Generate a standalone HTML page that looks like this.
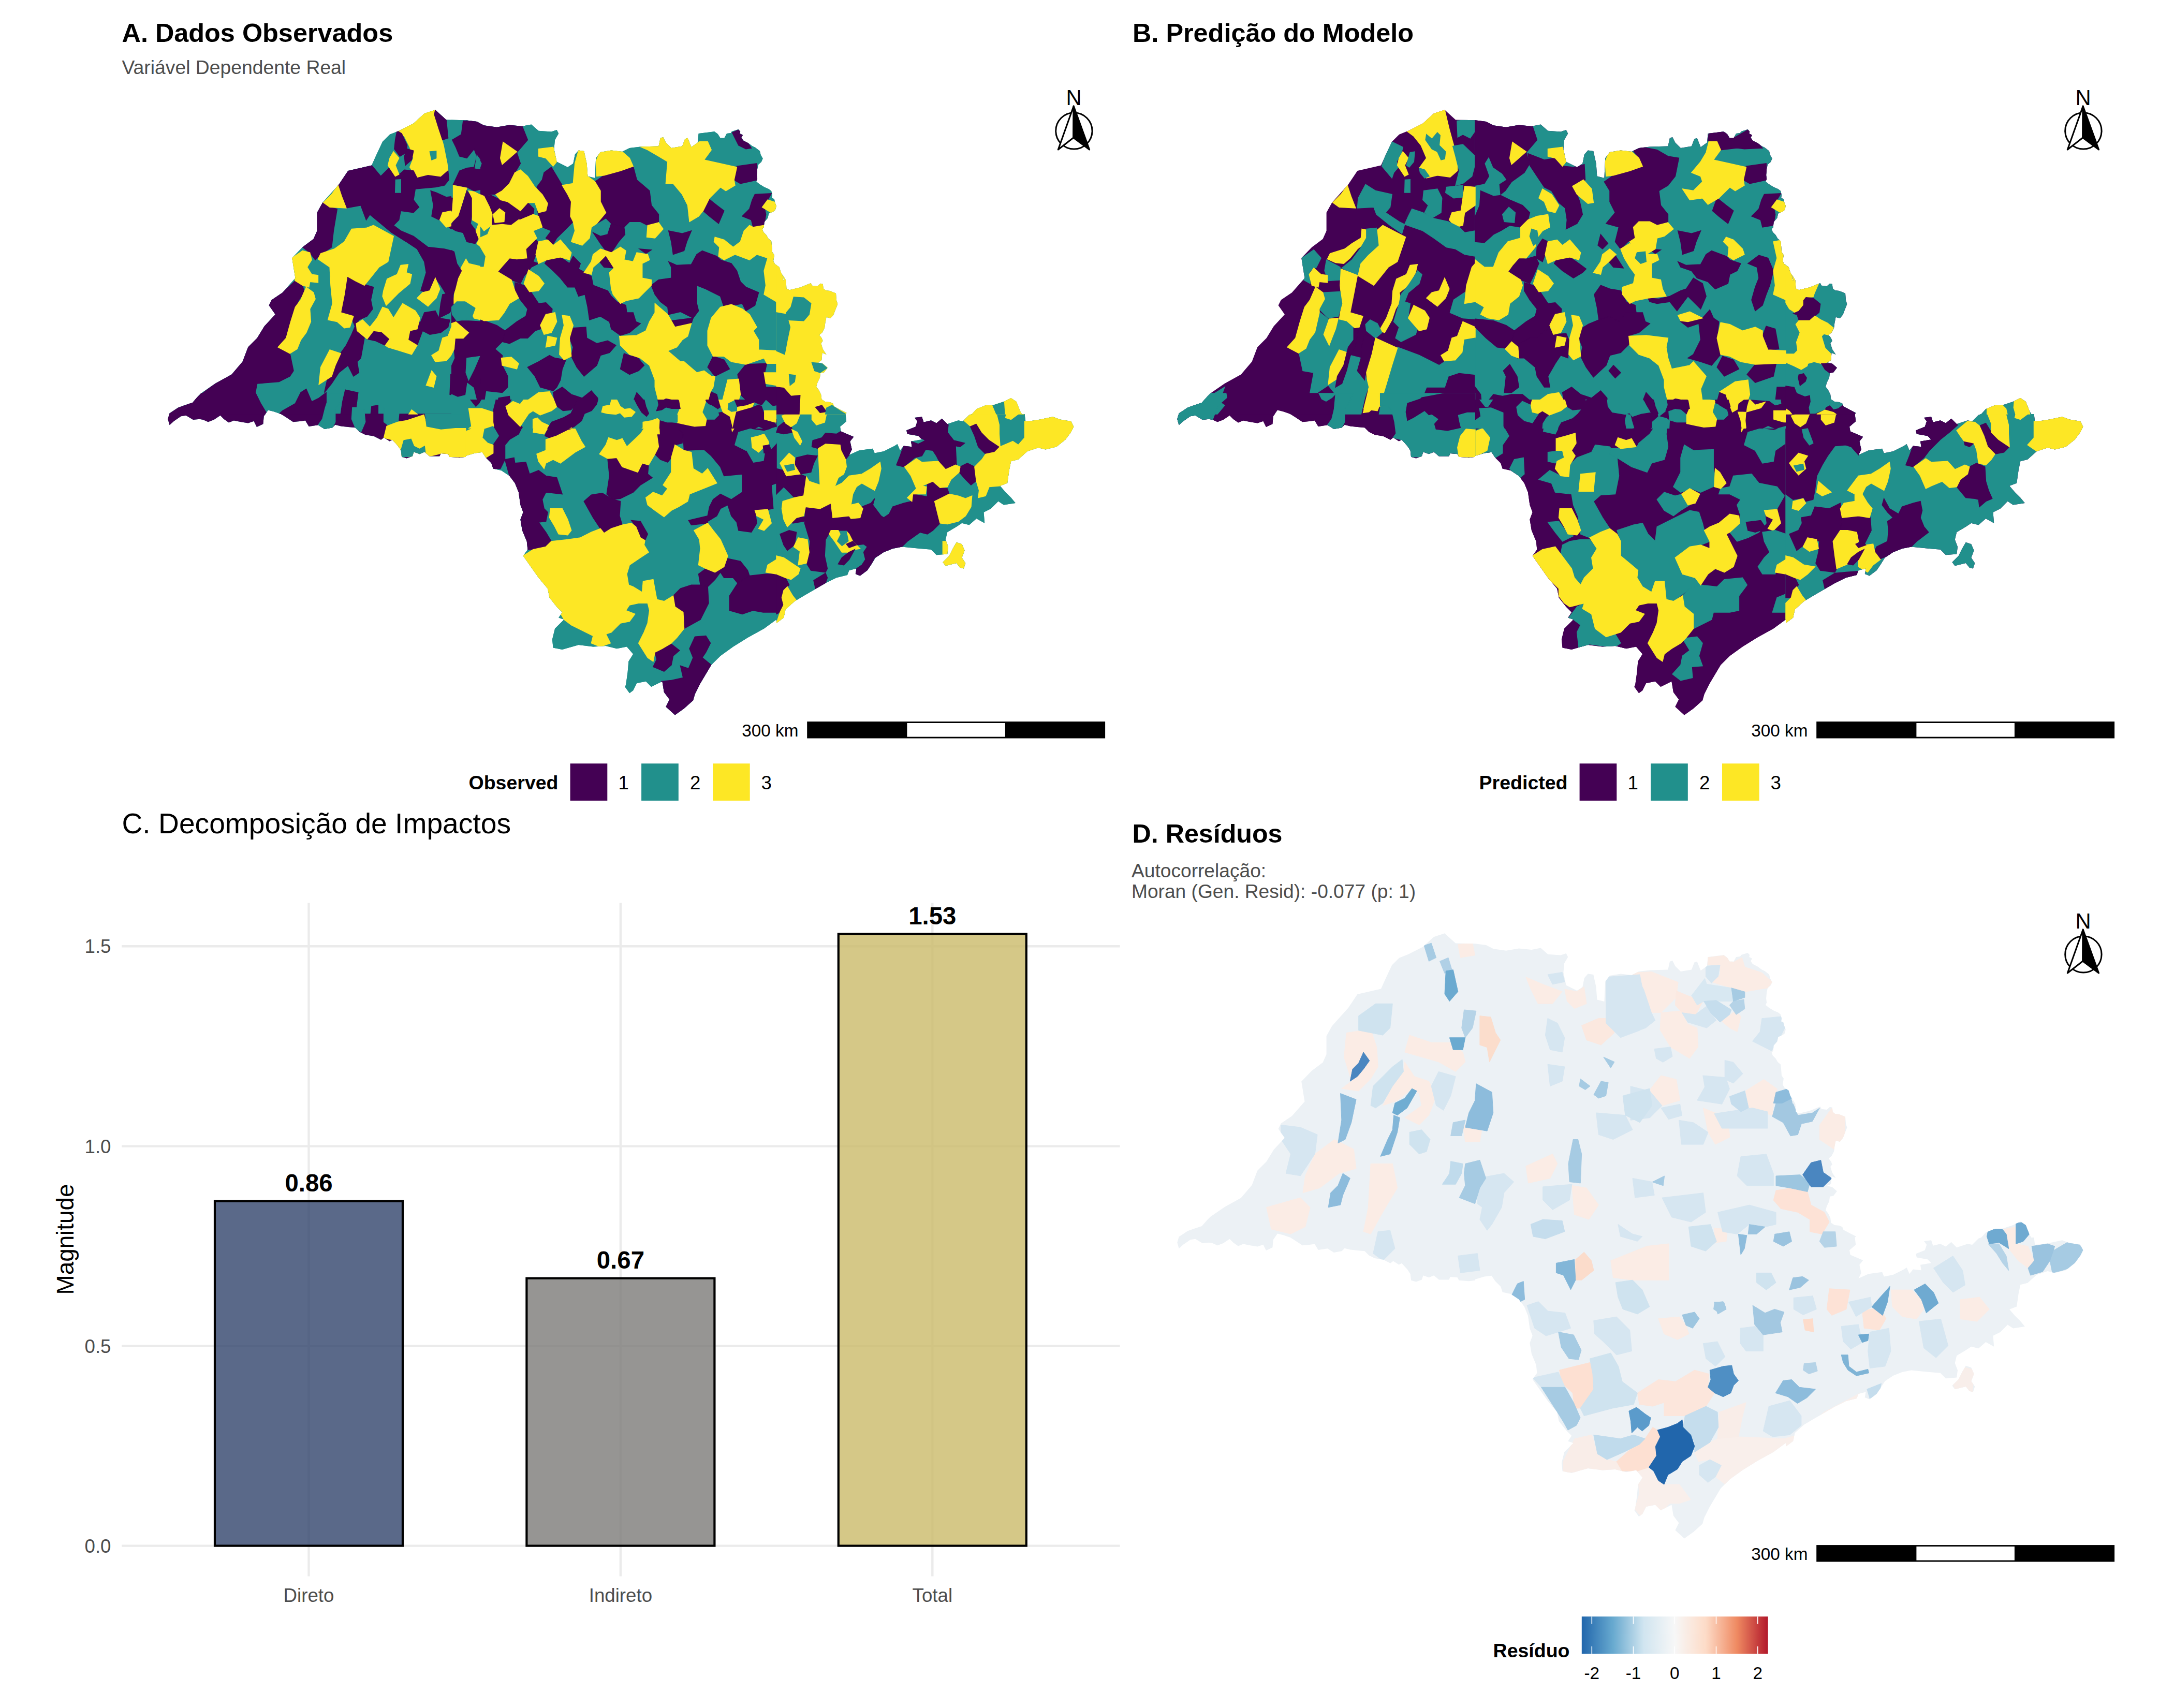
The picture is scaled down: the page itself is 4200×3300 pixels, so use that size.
<!DOCTYPE html><html lang="pt"><head><meta charset="utf-8"><title>Figura</title>
<style>html,body{margin:0;padding:0;background:#fff}svg{display:block}text{font-family:"Liberation Sans", Arial, sans-serif}</style></head><body>
<svg width="4200" height="3300" viewBox="0 0 4200 3300">
<rect width="4200" height="3300" fill="#fff"/>
<text x="235.5" y="81" font-size="50.4" font-weight="bold">A. Dados Observados</text>
<text x="235.5" y="142.7" font-size="37.3" fill="#4D4D4D">Variável Dependente Real</text>
<text x="2188" y="81" font-size="50.4" font-weight="bold">B. Predição do Modelo</text>
<text x="235.5" y="1610.4" font-size="55.2">C. Decomposição de Impactos</text>
<text x="2187.5" y="1628.3" font-size="50.2" font-weight="bold">D. Resíduos</text>
<text x="2186" y="1694.6" font-size="37.15" fill="#4D4D4D">Autocorrelação:</text>
<text x="2186" y="1735" font-size="37.15" fill="#4D4D4D">Moran (Gen. Resid): -0.077 (p: 1)</text>
<g transform="translate(0,0)"><clipPath id="clipA"><path d="M841.0 212.3L819.9 219.3L798.8 238.6L770.7 252.7L753.2 259.7L739.1 273.8L726.8 300.1L718.0 319.4L672.4 330.0L654.8 356.3L623.2 391.5L612.6 410.8L612.6 445.9L605.6 461.7L584.5 477.5L564.2 498.6L570.5 537.2L545.9 565.3L524.8 579.4L519.6 589.9L531.9 607.5L510.8 630.3L496.7 653.2L479.2 670.7L468.6 698.8L447.5 723.4L415.9 741.0L388.3 760.0L382.8 765.5L371.8 777.9L355.2 783.5L344.2 787.6L327.6 798.6L324.3 809.7L327.6 821.3L335.9 813.8L349.7 804.2L359.3 802.8L373.1 811.1L385.6 809.7L392.5 811.1L402.1 815.2L413.2 811.1L425.6 802.8L432.5 809.7L442.1 816.6L451.8 812.4L465.6 815.2L479.4 817.4L490.4 813.8L496.0 824.9L508.4 819.3L509.8 804.2L518.0 792.6L529.1 795.3L542.9 800.0L553.9 806.9L566.3 815.2L581.5 813.8L589.8 812.4L596.7 824.0L614.6 821.3L627.0 829.0L642.2 826.2L647.7 820.7L658.8 823.5L672.6 824.9L686.4 826.2L694.7 834.5L705.7 840.0L722.3 842.8L736.1 849.7L741.6 845.6L752.6 852.5L758.1 849.7L769.2 862.1L774.7 870.4L776.1 882.8L785.7 885.6L796.8 881.4L799.5 873.2L810.6 877.3L820.2 873.2L829.9 881.4L849.2 881.4L852.0 875.9L865.8 877.3L868.5 882.8L887.9 884.2L900.0 882.8L900.0 880.8L917.6 875.5L931.6 873.8L938.6 884.3L949.2 894.8L952.7 905.4L968.5 908.9L984.3 919.4L994.8 933.5L1001.9 951.1L1005.4 975.6L1010.7 989.7L1005.4 1003.7L1008.9 1024.8L1017.7 1045.9L1019.4 1061.7L1010.7 1074.0L1023.0 1091.6L1040.5 1116.2L1058.1 1137.2L1061.6 1154.8L1075.6 1172.4L1086.2 1182.9L1079.2 1193.4L1089.7 1197.0L1072.1 1214.5L1066.9 1235.6L1068.6 1251.4L1086.2 1254.9L1117.8 1246.1L1145.9 1249.6L1170.5 1247.9L1191.6 1253.2L1210.9 1249.6L1223.2 1263.7L1214.4 1277.8L1212.6 1298.8L1209.1 1323.4L1207.4 1326.9L1216.2 1339.2L1223.2 1334.0L1230.2 1319.9L1247.8 1316.4L1258.3 1326.9L1272.4 1319.9L1279.4 1316.4L1282.9 1337.5L1293.4 1351.5L1286.4 1365.6L1304.0 1381.4L1321.5 1369.1L1339.1 1353.3L1342.6 1341.0L1353.2 1319.9L1374.2 1284.8L1391.8 1267.2L1416.4 1249.6L1444.5 1232.1L1476.1 1214.5L1500.0 1197.0L1500.0 1204.0L1514.1 1193.4L1517.6 1177.6L1535.1 1161.8L1552.7 1151.3L1573.8 1139.0L1594.8 1126.7L1615.9 1116.2L1637.0 1110.9L1640.5 1102.1L1654.6 1098.6L1652.8 1109.1L1661.6 1112.6L1675.6 1102.1L1682.7 1091.6L1691.5 1077.5L1707.3 1067.0L1724.8 1060.0L1742.4 1056.4L1760.0 1058.2L1777.5 1060.0L1798.6 1061.7L1809.1 1072.2L1830.2 1070.5L1832.0 1056.4L1826.7 1042.4L1830.2 1028.3L1847.8 1017.8L1858.3 1010.8L1872.4 1014.3L1886.4 1002.0L1902.2 1010.8L1900.5 989.7L1914.5 982.7L1928.6 968.6L1939.1 975.6L1961.9 972.1L1953.2 961.6L1942.6 951.1L1932.1 938.8L1946.1 933.5L1949.6 908.9L1953.2 891.3L1967.2 887.8L1984.8 872.0L2005.9 865.0L2019.9 868.5L2041.0 863.2L2058.5 849.2L2069.1 835.1L2074.4 824.6L2069.1 814.1L2048.0 810.5L2034.0 805.3L2009.4 810.5L1991.8 813.3L1981.3 814.1L1979.5 800.0L1974.2 800.0L1970.7 793.7L1963.7 776.1L1953.2 769.1L1939.1 776.1L1918.0 783.1L1904.0 783.1L1886.4 790.2L1877.6 800.0L1877.6 800.0L1872.4 801.8L1860.1 814.1L1851.3 812.3L1830.2 819.3L1819.7 808.8L1809.1 817.6L1798.6 812.3L1784.5 815.8L1781.0 805.3L1767.0 807.0L1772.2 814.1L1768.7 824.6L1751.2 831.6L1752.9 838.6L1774.0 842.2L1781.0 849.2L1760.0 852.7L1761.7 863.2L1745.9 861.5L1738.9 870.3L1733.6 858.0L1728.3 861.5L1707.3 872.0L1689.7 875.5L1686.2 866.7L1659.8 870.3L1640.5 879.0L1645.8 868.5L1642.3 852.7L1649.3 843.9L1624.7 833.4L1623.0 824.6L1635.2 814.1L1633.5 800.0L1635.7 797.8L1624.2 792.1L1611.5 785.2L1609.2 779.4L1603.5 777.1L1594.3 776.0L1587.4 771.4L1586.2 762.2L1581.6 753.0L1577.0 747.2L1579.3 739.2L1583.9 730.0L1585.1 720.8L1592.0 719.6L1598.9 710.4L1589.7 702.4L1579.3 700.1L1585.1 697.8L1587.4 695.5L1588.5 681.7L1596.6 685.1L1589.7 674.8L1586.2 663.3L1589.7 658.7L1587.4 652.9L1582.8 647.2L1588.5 642.6L1593.1 633.4L1594.3 624.2L1596.6 612.7L1604.6 615.0L1610.4 608.1L1613.8 598.9L1618.4 587.4L1616.1 580.5L1615.0 566.7L1603.5 562.1L1595.4 560.9L1590.8 557.5L1589.7 548.8L1585.1 547.8L1579.3 552.9L1569.0 551.7L1566.7 547.1L1563.2 548.3L1546.0 555.2L1525.3 560.3L1519.5 557.5L1518.4 541.4L1511.5 529.9L1518.1 554.5L1519.1 546.8L1513.3 541.0L1511.4 531.3L1508.5 525.5L1505.6 515.9L1496.9 510.1L1494.0 504.3L1495.9 492.7L1492.0 486.9L1491.1 475.3L1490.1 465.7L1484.3 460.8L1480.4 454.1L1474.7 448.3L1472.7 442.5L1475.6 439.6L1476.6 429.0L1483.3 421.2L1485.3 412.5L1494.0 408.7L1497.8 405.8L1499.8 398.1L1496.9 390.3L1495.9 384.5L1491.1 382.6L1492.0 376.8L1490.1 369.1L1485.3 365.2L1476.6 361.4L1466.9 355.6L1461.1 350.7L1463.1 345.9L1462.1 338.2L1463.1 326.6L1465.0 317.9L1470.8 313.1L1473.7 306.3L1469.8 299.5L1467.9 291.8L1459.2 285.1L1453.4 282.2L1445.7 276.4L1436.0 271.5L1432.2 265.7L1435.1 260.9L1429.3 258.0L1430.2 254.1L1426.4 249.9L1413.8 254.1L1411.9 257.0L1404.1 258.0L1399.3 266.7L1391.6 266.7L1386.8 259.0L1380.0 254.1L1377.8 254.4L1349.6 258.0L1347.9 275.5L1335.6 284.3L1328.6 266.7L1323.3 268.5L1318.0 282.6L1297.0 286.1L1286.4 275.5L1281.1 265.0L1275.9 266.7L1272.4 282.6L1237.2 283.6L1216.2 286.1L1202.1 293.1L1181.0 290.6L1160.0 294.1L1151.2 305.4L1149.4 344.0L1135.4 340.5L1133.6 315.9L1128.3 292.0L1117.8 290.6L1110.8 298.4L1107.3 315.9L1096.7 323.0L1075.6 312.4L1070.4 287.8L1072.1 270.3L1079.2 258.0L1075.6 250.9L1065.1 254.4L1040.5 252.7L1026.5 240.4L1008.9 243.9L984.3 241.5L959.7 245.7L935.1 242.2L921.1 235.1L900.0 232.3L862.1 231.6ZM1847.8 1047.7L1858.3 1051.2L1863.6 1063.5L1858.3 1077.5L1865.3 1088.1L1861.8 1098.6L1854.8 1096.8L1847.8 1088.1L1826.7 1093.3L1821.4 1086.3L1833.7 1074.0L1840.7 1060.0Z"/></clipPath><g clip-path="url(#clipA)"><rect x="300" y="200" width="1800" height="1200" fill="#21908C"/><path d="M300.0 200.0L900.0 200.0L900.0 800.0L300.0 800.0Z" fill="#21908C" stroke="#21908C" stroke-width="1.5"/><path d="M900.0 200.0L1500.0 200.0L1500.0 800.0L900.0 800.0Z" fill="#21908C" stroke="#21908C" stroke-width="1.5"/><path d="M900.0 800.0L1500.0 800.0L1500.0 1400.0L900.0 1400.0Z" fill="#21908C" stroke="#21908C" stroke-width="1.5"/><path d="M1500.0 800.0L2100.0 800.0L2100.0 1400.0L1500.0 1400.0Z" fill="#21908C" stroke="#21908C" stroke-width="1.5"/><path d="M1500.0 509.1L1647.5 509.1L1647.5 800.0L1500.0 800.0Z" fill="#FDE725" stroke="#FDE725" stroke-width="1.5"/><path d="M1872.4 762.1L1977.8 762.1L1977.8 800.0L1872.4 800.0Z" fill="#FDE725" stroke="#FDE725" stroke-width="1.5"/><path d="M300.0 800.0L900.0 800.0L900.0 899.9L300.0 899.9Z" fill="#440154" stroke="#440154" stroke-width="1.5"/><path d="M767.2 252.7L798.8 238.6L819.9 219.3L841.0 212.3L848.0 249.2L856.8 280.8L863.8 315.9L865.6 330.0L851.5 342.3L826.9 338.8L805.9 344.0L791.8 323.0L798.8 305.4L791.8 284.3L781.3 263.2Z" fill="#FDE725" stroke="#FDE725" stroke-width="1.5"/><path d="M830.4 293.1L842.7 292.0L842.7 305.4L834.0 308.9Z" fill="#21908C" stroke="#21908C" stroke-width="1.5"/><path d="M841.0 212.3L862.1 231.6L865.6 266.7L855.0 270.3L848.0 249.2L839.2 221.1Z" fill="#440154" stroke="#440154" stroke-width="1.5"/><path d="M879.6 261.5L900.0 256.2L900.0 315.9L890.2 308.9L883.1 280.8L872.6 273.8Z" fill="#440154" stroke="#440154" stroke-width="1.5"/><path d="M767.2 252.7L776.0 258.0L786.5 280.8L784.8 294.8L772.5 301.9L761.9 287.8L763.7 270.3Z" fill="#440154" stroke="#440154" stroke-width="1.5"/><path d="M786.5 287.8L798.8 291.3L795.3 308.9L783.0 319.4L781.3 301.9Z" fill="#440154" stroke="#440154" stroke-width="1.5"/><path d="M718.0 319.4L735.6 340.5L742.6 333.5L753.2 323.0L767.2 340.5L781.3 328.2L798.8 330.0L805.9 344.0L826.9 338.8L851.5 342.3L865.6 330.0L867.3 347.5L858.5 358.1L841.0 361.6L802.3 365.1L798.8 386.2L809.4 400.2L798.8 410.8L774.2 407.3L770.7 424.8L760.2 435.4L774.2 445.9L798.8 456.4L826.9 477.5L858.5 481.0L879.6 486.3L883.1 516.2L897.2 523.2L890.2 551.3L876.1 565.3L862.1 568.9L851.5 551.3L841.0 537.2L826.9 565.3L812.9 561.8L823.4 526.7L819.9 505.6L805.9 481.0L784.8 467.0L756.7 449.4L714.5 414.3L707.5 424.8L697.0 396.7L668.9 402.0L660.1 379.2L653.0 358.1L672.4 330.0Z" fill="#440154" stroke="#440154" stroke-width="1.5"/><path d="M764.4 347.5L774.2 346.8L774.2 372.1L763.7 372.1Z" fill="#21908C" stroke="#21908C" stroke-width="1.5"/><path d="M832.2 368.6L842.7 372.1L862.1 380.9L876.1 379.2L872.6 407.3L855.0 410.8L848.0 424.8L834.0 417.8L837.5 396.7Z" fill="#440154" stroke="#440154" stroke-width="1.5"/><path d="M879.6 410.8L900.0 417.8L900.0 445.9L879.6 449.4L867.3 438.9Z" fill="#440154" stroke="#440154" stroke-width="1.5"/><path d="M623.2 391.5L637.2 400.2L651.3 403.7L644.3 445.9L640.7 477.5L619.7 491.6L609.1 502.1L598.6 488.1L584.5 477.5L605.6 461.7L612.6 445.9L612.6 410.8Z" fill="#440154" stroke="#440154" stroke-width="1.5"/><path d="M670.6 533.7L686.4 542.5L709.3 551.3L721.5 554.8L716.3 579.4L719.8 597.0L709.3 611.0L693.4 618.0L686.4 632.1L679.4 614.5L654.8 604.0L661.8 568.9Z" fill="#440154" stroke="#440154" stroke-width="1.5"/><path d="M570.5 542.5L584.5 551.3L588.1 565.3L577.5 579.4L570.5 593.4L561.7 621.5L552.9 653.2L537.1 670.7L560.0 683.0L567.0 716.4L560.0 726.9L538.9 737.5L496.7 741.0L493.2 758.5L503.7 779.6L514.3 797.2L510.8 800.0L338.6 800.0L370.3 776.1L415.9 741.0L447.5 723.4L468.6 698.8L479.2 670.7L496.7 653.2L510.8 630.3L531.9 607.5L519.6 589.9L524.8 579.4L545.9 565.3Z" fill="#440154" stroke="#440154" stroke-width="1.5"/><path d="M819.9 604.0L841.0 600.5L848.0 614.5L869.1 618.0L865.6 632.1L851.5 642.6L830.4 646.1L816.4 639.1L805.9 667.2L788.3 656.7L791.8 639.1L812.9 621.5Z" fill="#440154" stroke="#440154" stroke-width="1.5"/><path d="M721.5 639.1L737.4 640.9L753.2 654.9L744.4 667.2L725.1 658.4L709.3 654.9Z" fill="#440154" stroke="#440154" stroke-width="1.5"/><path d="M688.2 625.1L697.0 635.6L704.0 653.2L697.0 691.8L689.9 698.8L693.4 719.9L682.9 726.9L672.4 705.9L654.8 719.9L640.7 741.0L626.7 758.5L633.7 726.9L651.3 691.8L668.9 667.2L679.4 646.1Z" fill="#440154" stroke="#440154" stroke-width="1.5"/><path d="M581.0 758.5L591.6 751.5L602.1 776.1L616.2 769.1L630.2 758.5L630.2 783.1L626.7 800.0L538.9 800.0L545.9 793.7L570.5 779.6Z" fill="#440154" stroke="#440154" stroke-width="1.5"/><path d="M667.1 753.3L691.7 758.5L686.4 800.0L658.3 800.0L661.8 776.1Z" fill="#440154" stroke="#440154" stroke-width="1.5"/><path d="M877.9 660.2L900.0 654.9L900.0 691.8L876.1 688.3Z" fill="#440154" stroke="#440154" stroke-width="1.5"/><path d="M870.8 723.4L900.0 726.9L900.0 769.1L869.1 762.1Z" fill="#440154" stroke="#440154" stroke-width="1.5"/><path d="M718.0 784.9L730.3 783.1L730.3 800.0L716.3 800.0Z" fill="#440154" stroke="#440154" stroke-width="1.5"/><path d="M855.0 568.9L876.1 565.3L876.1 586.4L869.1 604.0L848.0 614.5L851.5 586.4Z" fill="#440154" stroke="#440154" stroke-width="1.5"/><path d="M760.2 293.1L770.7 305.4L763.7 319.4L770.7 337.0L763.7 340.5L749.6 319.4L753.2 305.4Z" fill="#FDE725" stroke="#FDE725" stroke-width="1.5"/><path d="M653.0 358.1L660.1 379.2L668.9 402.0L637.2 400.2L624.9 391.5L640.7 375.6Z" fill="#FDE725" stroke="#FDE725" stroke-width="1.5"/><path d="M879.6 359.8L900.0 361.6L900.0 396.7L879.6 410.8L876.1 435.4L862.1 438.9L849.8 424.8L855.0 410.8L872.6 407.3L876.1 382.7Z" fill="#FDE725" stroke="#FDE725" stroke-width="1.5"/><path d="M721.5 435.4L760.2 456.4L749.6 505.6L732.1 516.2L704.0 551.3L686.4 542.5L670.6 533.7L665.3 568.9L658.3 604.0L682.9 611.0L675.9 632.1L665.3 633.8L651.3 621.5L633.7 618.0L642.5 586.4L639.0 551.3L637.2 516.2L614.4 500.4L619.7 489.8L646.0 481.0L665.3 467.0L679.4 442.4L707.5 440.6Z" fill="#FDE725" stroke="#FDE725" stroke-width="1.5"/><path d="M584.5 484.5L598.6 488.1L602.1 502.1L593.3 516.2L602.1 530.2L614.4 532.0L614.4 546.0L598.6 544.3L596.8 554.8L584.5 551.3L570.5 542.5L568.7 537.2L564.2 498.6Z" fill="#FDE725" stroke="#FDE725" stroke-width="1.5"/><path d="M591.6 554.8L605.6 565.3L609.1 577.6L598.6 597.0L600.4 621.5L591.6 642.6L581.0 656.7L574.0 674.2L560.0 683.0L537.1 670.7L552.9 653.2L561.7 621.5L570.5 593.4L581.0 579.4Z" fill="#FDE725" stroke="#FDE725" stroke-width="1.5"/><path d="M774.2 512.6L788.3 510.9L784.8 526.7L795.3 530.2L791.8 547.8L770.7 565.3L756.7 579.4L746.1 589.9L739.1 572.4L740.9 561.8L747.9 539.0L767.2 530.2Z" fill="#FDE725" stroke="#FDE725" stroke-width="1.5"/><path d="M841.0 537.2L849.8 558.3L842.7 575.9L826.9 591.7L805.9 575.9L816.4 565.3L830.4 561.8Z" fill="#FDE725" stroke="#FDE725" stroke-width="1.5"/><path d="M777.8 586.4L802.3 600.5L811.1 614.5L805.9 635.6L791.8 639.1L788.3 656.7L805.9 667.2L795.3 684.8L749.6 670.7L744.4 667.2L753.2 654.9L737.4 640.9L721.5 639.1L709.3 654.9L689.9 639.1L688.2 625.1L700.5 618.0L714.5 632.1L728.6 614.5L739.1 593.4L749.6 597.0L760.2 614.5Z" fill="#FDE725" stroke="#FDE725" stroke-width="1.5"/><path d="M893.7 516.2L900.0 509.1L900.0 582.9L879.6 586.4L883.1 551.3Z" fill="#FDE725" stroke="#FDE725" stroke-width="1.5"/><path d="M876.1 621.5L900.0 632.1L900.0 653.2L879.6 656.7L876.1 681.3L862.1 697.1L841.0 698.8L834.0 686.5L848.0 677.8L855.0 653.2L865.6 649.6Z" fill="#FDE725" stroke="#FDE725" stroke-width="1.5"/><path d="M637.2 676.0L658.3 683.0L647.8 705.9L640.7 726.9L616.2 742.7L619.7 709.4Z" fill="#FDE725" stroke="#FDE725" stroke-width="1.5"/><path d="M834.0 716.4L842.7 726.9L837.5 748.0L823.4 744.5Z" fill="#FDE725" stroke="#FDE725" stroke-width="1.5"/><path d="M795.3 791.9L805.9 800.0L790.0 800.0Z" fill="#FDE725" stroke="#FDE725" stroke-width="1.5"/><path d="M900.0 232.3L921.1 235.1L935.1 242.2L959.7 245.7L984.3 241.5L1008.9 243.9L1019.4 270.3L1008.9 282.6L998.4 294.8L1005.4 315.9L994.8 333.5L984.3 354.6L970.3 368.6L958.0 375.6L949.2 375.6L935.1 379.2L910.5 368.6L900.0 365.1Z" fill="#440154" stroke="#440154" stroke-width="1.5"/><path d="M921.1 300.1L929.9 315.9L926.3 326.5L915.8 323.0Z" fill="#21908C" stroke="#21908C" stroke-width="1.5"/><path d="M972.0 274.5L998.4 293.1L984.3 305.4L970.3 317.7L966.7 305.4Z" fill="#FDE725" stroke="#FDE725" stroke-width="1.5"/><path d="M935.1 379.2L949.2 377.4L966.7 386.2L980.8 389.7L1005.4 407.3L1019.4 391.5L1031.7 403.7L1030.0 414.3L1005.4 424.8L1001.9 424.8L987.8 435.4L970.3 433.6L949.2 435.4L950.9 414.3L945.7 400.2Z" fill="#440154" stroke="#440154" stroke-width="1.5"/><path d="M965.0 403.0L975.5 410.8L973.8 428.3L956.2 430.1L952.7 414.3Z" fill="#FDE725" stroke="#FDE725" stroke-width="1.5"/><path d="M900.0 442.4L921.1 449.4L926.3 460.0L914.1 470.5L900.0 467.0Z" fill="#440154" stroke="#440154" stroke-width="1.5"/><path d="M1065.1 323.0L1075.6 340.5L1086.2 358.1L1096.7 375.6L1103.7 389.7L1102.0 417.8L1107.3 428.3L1089.7 445.9L1075.6 460.0L1068.6 472.2L1054.6 460.0L1065.1 445.9L1047.5 438.9L1040.5 417.8L1037.0 396.7L1054.6 407.3L1058.1 393.2L1047.5 375.6L1037.0 361.6L1047.5 347.5L1051.1 333.5Z" fill="#440154" stroke="#440154" stroke-width="1.5"/><path d="M1030.0 458.2L1038.8 467.0L1035.2 491.6L1030.0 505.6L1017.7 498.6L1015.9 481.0Z" fill="#440154" stroke="#440154" stroke-width="1.5"/><path d="M984.3 498.6L998.4 500.4L1015.9 495.1L1030.0 505.6L1040.5 509.1L1026.5 516.2L1012.4 533.7L1005.4 547.8L987.8 540.7L961.5 524.9L972.0 512.6Z" fill="#440154" stroke="#440154" stroke-width="1.5"/><path d="M1056.3 502.1L1082.7 496.8L1100.2 509.1L1107.3 495.1L1121.3 509.1L1117.8 519.7L1142.4 533.7L1145.9 551.3L1174.0 561.8L1181.0 572.4L1191.6 582.9L1209.1 589.9L1210.9 604.0L1223.2 604.0L1228.5 621.5L1237.2 625.1L1216.2 642.6L1198.6 647.9L1181.0 635.6L1177.5 621.5L1160.0 611.0L1138.9 618.0L1135.4 593.4L1130.1 568.9L1117.8 572.4L1110.8 554.8L1096.7 554.8L1082.7 537.2L1068.6 523.2L1052.8 509.1Z" fill="#440154" stroke="#440154" stroke-width="1.5"/><path d="M994.8 546.0L1012.4 551.3L1026.5 565.3L1040.5 586.4L1054.6 584.7L1066.9 597.0L1065.1 611.0L1051.1 618.0L1044.0 635.6L1033.5 639.1L1019.4 653.2L1005.4 653.2L984.3 663.7L970.3 660.2L975.5 639.1L998.4 621.5L1015.9 611.0L1019.4 597.0L1005.4 579.4L994.8 561.8Z" fill="#440154" stroke="#440154" stroke-width="1.5"/><path d="M900.0 616.3L935.1 619.8L959.7 628.6L975.5 639.1L970.3 660.2L956.2 674.2L970.3 686.5L970.3 705.9L980.8 726.9L980.8 748.0L970.3 758.5L938.6 755.0L935.1 776.1L924.6 790.2L910.5 783.1L907.0 748.0L928.1 741.0L924.6 698.8L914.1 684.8L900.0 688.3Z" fill="#440154" stroke="#440154" stroke-width="1.5"/><path d="M1040.5 698.8L1061.6 686.5L1072.1 691.8L1093.2 695.3L1086.2 712.9L1082.7 734.0L1075.6 748.0L1068.6 755.0L1044.0 748.0L1033.5 726.9L1019.4 709.4Z" fill="#440154" stroke="#440154" stroke-width="1.5"/><path d="M1107.3 633.8L1131.9 632.1L1133.6 653.2L1152.9 663.7L1174.0 658.4L1189.8 667.2L1177.5 681.3L1160.0 686.5L1152.9 705.9L1128.3 726.9L1114.3 709.4L1103.7 688.3L1107.3 670.7L1100.2 653.2Z" fill="#440154" stroke="#440154" stroke-width="1.5"/><path d="M1198.6 330.0L1223.2 321.2L1230.2 347.5L1254.8 368.6L1258.3 396.7L1272.4 414.3L1272.4 428.3L1251.3 435.4L1237.2 428.3L1216.2 428.3L1205.6 438.9L1181.0 431.9L1170.5 421.3L1152.9 431.9L1170.5 410.8L1160.0 389.7L1160.0 368.6L1149.4 351.1L1167.0 338.8Z" fill="#440154" stroke="#440154" stroke-width="1.5"/><path d="M1181.0 431.9L1205.6 438.9L1207.4 452.9L1195.1 467.0L1181.0 488.1L1170.5 484.5L1160.0 470.5L1145.9 449.4L1160.0 456.4L1174.0 452.9Z" fill="#440154" stroke="#440154" stroke-width="1.5"/><path d="M1170.5 493.3L1186.3 517.9L1167.0 516.2L1158.2 505.6Z" fill="#440154" stroke="#440154" stroke-width="1.5"/><path d="M1291.7 445.9L1318.0 451.2L1335.6 445.9L1326.8 467.0L1321.5 484.5L1300.5 491.6L1297.0 467.0Z" fill="#440154" stroke="#440154" stroke-width="1.5"/><path d="M1235.5 481.0L1258.3 482.8L1247.8 489.8Z" fill="#440154" stroke="#440154" stroke-width="1.5"/><path d="M1291.7 505.6L1307.5 512.6L1335.6 510.9L1346.1 491.6L1356.7 484.5L1384.8 495.1L1391.8 502.1L1412.9 509.1L1423.4 523.2L1430.4 544.3L1441.0 554.8L1465.6 565.3L1458.5 589.9L1441.0 600.5L1434.0 586.4L1398.8 593.4L1391.8 572.4L1363.7 558.3L1346.1 551.3L1346.1 586.4L1349.6 600.5L1339.1 614.5L1314.5 602.2L1291.7 607.5L1289.9 593.4L1275.9 582.9L1265.3 568.9L1258.3 551.3L1272.4 540.7L1297.0 537.2L1297.0 516.2Z" fill="#440154" stroke="#440154" stroke-width="1.5"/><path d="M1297.0 619.8L1339.1 614.5L1335.6 625.1L1304.0 632.1Z" fill="#440154" stroke="#440154" stroke-width="1.5"/><path d="M1367.2 382.7L1384.8 396.7L1398.8 407.3L1388.3 431.9L1370.7 417.8L1358.4 407.3Z" fill="#440154" stroke="#440154" stroke-width="1.5"/><path d="M1414.6 256.2L1426.9 250.9L1441.0 270.3L1451.5 286.1L1441.0 287.8L1426.9 280.8Z" fill="#440154" stroke="#440154" stroke-width="1.5"/><path d="M1423.4 321.2L1462.1 315.9L1463.8 347.5L1430.4 354.6L1418.1 347.5Z" fill="#440154" stroke="#440154" stroke-width="1.5"/><path d="M1458.5 375.6L1490.2 373.9L1483.1 386.2L1476.1 396.7L1479.6 414.3L1476.1 435.4L1455.0 438.9L1451.5 424.8L1434.0 417.8L1448.0 403.7L1453.3 386.2Z" fill="#440154" stroke="#440154" stroke-width="1.5"/><path d="M1205.6 683.0L1219.7 688.3L1226.7 684.8L1244.3 705.9L1233.7 716.4L1216.2 723.4L1198.6 712.9Z" fill="#440154" stroke="#440154" stroke-width="1.5"/><path d="M1377.8 688.3L1398.8 695.3L1409.4 712.9L1381.3 726.9L1367.2 709.4Z" fill="#440154" stroke="#440154" stroke-width="1.5"/><path d="M1441.0 704.1L1481.4 702.3L1476.1 726.9L1479.6 748.0L1500.0 748.0L1500.0 800.0L1462.1 800.0L1448.0 779.6L1430.4 762.1L1425.2 723.4Z" fill="#440154" stroke="#440154" stroke-width="1.5"/><path d="M963.2 769.1L984.3 765.6L987.8 800.0L959.7 800.0Z" fill="#440154" stroke="#440154" stroke-width="1.5"/><path d="M1068.6 758.5L1086.2 748.0L1103.7 762.1L1124.8 769.1L1142.4 755.0L1154.7 769.1L1156.4 800.0L1075.6 800.0Z" fill="#440154" stroke="#440154" stroke-width="1.5"/><path d="M1230.2 758.5L1246.0 776.1L1251.3 800.0L1226.7 800.0L1223.2 776.1Z" fill="#440154" stroke="#440154" stroke-width="1.5"/><path d="M1272.4 776.1L1286.4 769.1L1304.0 772.6L1314.5 800.0L1268.9 800.0Z" fill="#440154" stroke="#440154" stroke-width="1.5"/><path d="M1372.5 756.8L1384.8 762.1L1391.8 790.2L1388.3 800.0L1367.2 800.0L1367.2 776.1Z" fill="#440154" stroke="#440154" stroke-width="1.5"/><path d="M1412.9 786.7L1426.9 783.1L1426.9 800.0L1405.9 800.0Z" fill="#440154" stroke="#440154" stroke-width="1.5"/><path d="M1040.5 287.8L1068.6 284.3L1075.6 312.4L1068.6 321.2L1054.6 305.4L1040.5 301.9Z" fill="#FDE725" stroke="#FDE725" stroke-width="1.5"/><path d="M1117.8 290.6L1128.3 292.0L1133.6 315.9L1135.4 340.5L1149.4 351.1L1160.0 368.6L1160.0 389.7L1170.5 410.8L1152.9 431.9L1142.4 438.9L1138.9 460.0L1124.8 474.0L1103.7 467.0L1110.8 445.9L1107.3 428.3L1102.0 417.8L1103.7 389.7L1096.7 375.6L1086.2 358.1L1107.3 354.6L1110.8 315.9Z" fill="#FDE725" stroke="#FDE725" stroke-width="1.5"/><path d="M1158.2 294.8L1181.0 290.6L1202.1 293.1L1216.2 305.4L1223.2 321.2L1198.6 330.0L1167.0 338.8L1152.9 340.5L1151.2 312.4Z" fill="#FDE725" stroke="#FDE725" stroke-width="1.5"/><path d="M1005.4 328.2L1019.4 340.5L1033.5 361.6L1047.5 375.6L1058.1 393.2L1054.6 407.3L1040.5 410.8L1033.5 391.5L1019.4 391.5L1005.4 407.3L980.8 389.7L966.7 386.2L958.0 375.6L970.3 368.6L984.3 354.6L994.8 333.5Z" fill="#FDE725" stroke="#FDE725" stroke-width="1.5"/><path d="M910.5 368.6L935.1 379.2L945.7 400.2L950.9 414.3L949.2 435.4L935.1 445.9L924.6 431.9L910.5 428.3L905.3 403.7Z" fill="#FDE725" stroke="#FDE725" stroke-width="1.5"/><path d="M1001.9 424.8L1005.4 424.8L1030.0 414.3L1040.5 417.8L1047.5 438.9L1030.0 445.9L1037.0 460.0L1015.9 481.0L1017.7 498.6L998.4 500.4L984.3 498.6L972.0 512.6L961.5 524.9L935.1 516.2L938.6 495.1L926.3 474.0L926.3 460.0L942.2 452.9L949.2 435.4L970.3 433.6L987.8 435.4Z" fill="#FDE725" stroke="#FDE725" stroke-width="1.5"/><path d="M1040.5 467.0L1058.1 463.5L1068.6 474.0L1082.7 463.5L1103.7 488.1L1100.2 502.1L1082.7 496.8L1056.3 502.1L1040.5 509.1L1035.2 491.6Z" fill="#FDE725" stroke="#FDE725" stroke-width="1.5"/><path d="M900.0 502.1L917.6 516.2L935.1 516.2L961.5 524.9L987.8 540.7L994.8 561.8L1001.9 575.9L984.3 586.4L973.8 604.0L963.2 618.0L935.1 619.8L910.5 607.5L917.6 593.4L900.0 582.9Z" fill="#FDE725" stroke="#FDE725" stroke-width="1.5"/><path d="M1021.2 521.4L1040.5 533.7L1051.1 547.8L1040.5 561.8L1023.0 563.6L1012.4 547.8Z" fill="#FDE725" stroke="#FDE725" stroke-width="1.5"/><path d="M1251.3 435.4L1272.4 430.1L1281.1 442.4L1265.3 460.0L1249.5 458.2Z" fill="#FDE725" stroke="#FDE725" stroke-width="1.5"/><path d="M1160.0 481.0L1170.5 484.5L1181.0 488.1L1198.6 477.5L1209.1 484.5L1205.6 502.1L1223.2 505.6L1230.2 488.1L1251.3 491.6L1254.8 502.1L1240.7 509.1L1240.7 537.2L1258.3 540.7L1258.3 551.3L1244.3 565.3L1233.7 575.9L1209.1 581.1L1198.6 586.4L1184.5 568.9L1181.0 558.3L1177.5 526.7L1186.3 517.9L1170.5 493.3L1158.2 505.6L1145.9 516.2L1142.4 530.2L1128.3 526.7L1142.4 505.6L1145.9 491.6Z" fill="#FDE725" stroke="#FDE725" stroke-width="1.5"/><path d="M1054.6 607.5L1072.1 604.0L1075.6 621.5L1065.1 642.6L1051.1 646.1L1044.0 628.6Z" fill="#FDE725" stroke="#FDE725" stroke-width="1.5"/><path d="M1058.1 649.6L1075.6 653.2L1072.1 667.2L1054.6 670.7Z" fill="#FDE725" stroke="#FDE725" stroke-width="1.5"/><path d="M1086.2 609.3L1100.2 611.0L1107.3 628.6L1100.2 653.2L1103.7 688.3L1089.7 695.3L1080.9 684.8L1082.7 653.2L1089.7 628.6Z" fill="#FDE725" stroke="#FDE725" stroke-width="1.5"/><path d="M968.5 691.8L987.8 690.0L1001.9 702.3L998.4 712.9L970.3 705.9Z" fill="#FDE725" stroke="#FDE725" stroke-width="1.5"/><path d="M1237.2 283.6L1272.4 282.6L1275.9 266.7L1281.1 265.0L1286.4 275.5L1297.0 286.1L1318.0 282.6L1323.3 268.5L1328.6 266.7L1335.6 284.3L1347.9 275.5L1351.4 273.8L1367.2 273.8L1374.2 289.6L1360.2 308.9L1391.8 315.9L1423.4 323.0L1418.1 347.5L1419.9 358.1L1402.3 368.6L1391.8 361.6L1370.7 382.7L1358.4 407.3L1349.6 417.8L1332.1 428.3L1328.6 396.7L1318.0 375.6L1300.5 354.6L1286.4 354.6L1289.9 312.4L1272.4 301.9L1251.3 289.6Z" fill="#FDE725" stroke="#FDE725" stroke-width="1.5"/><path d="M1448.0 435.4L1455.0 438.9L1476.1 435.4L1493.7 460.0L1500.0 477.5L1500.0 582.9L1476.1 568.9L1479.6 551.3L1476.1 523.2L1483.1 498.6L1462.1 491.6L1448.0 502.1L1419.9 491.6L1398.8 502.1L1388.3 495.1L1390.0 477.5L1379.5 467.0L1381.3 458.2L1398.8 463.5L1416.4 477.5L1430.4 467.0L1437.5 445.9Z" fill="#FDE725" stroke="#FDE725" stroke-width="1.5"/><path d="M1483.1 386.2L1500.0 391.5L1500.0 407.3L1490.2 410.8L1472.6 400.2Z" fill="#FDE725" stroke="#FDE725" stroke-width="1.5"/><path d="M1265.3 586.4L1289.9 607.5L1297.0 619.8L1304.0 632.1L1335.6 625.1L1328.6 649.6L1318.0 656.7L1307.5 670.7L1289.9 677.8L1314.5 698.8L1321.5 698.8L1346.1 719.9L1360.2 716.4L1374.2 726.9L1381.3 726.9L1377.8 748.0L1372.5 756.8L1367.2 776.1L1367.2 800.0L1314.5 800.0L1304.0 772.6L1286.4 769.1L1272.4 776.1L1265.3 748.0L1265.3 734.0L1254.8 705.9L1237.2 691.8L1216.2 684.8L1198.6 667.2L1196.8 649.6L1230.2 647.9L1247.8 639.1L1254.8 621.5L1265.3 604.0Z" fill="#FDE725" stroke="#FDE725" stroke-width="1.5"/><path d="M1391.8 593.4L1412.9 588.2L1434.0 597.0L1448.0 607.5L1462.1 632.1L1455.0 639.1L1465.6 656.7L1465.6 676.0L1500.0 677.8L1500.0 702.3L1481.4 702.3L1476.1 691.8L1441.0 704.1L1412.9 698.8L1398.8 688.3L1377.8 688.3L1367.2 667.2L1367.2 639.1L1374.2 614.5Z" fill="#FDE725" stroke="#FDE725" stroke-width="1.5"/><path d="M1476.1 719.9L1500.0 719.9L1500.0 744.5L1479.6 741.0Z" fill="#FDE725" stroke="#FDE725" stroke-width="1.5"/><path d="M1405.9 734.0L1426.9 732.2L1430.4 762.1L1423.4 783.1L1412.9 786.7L1405.9 800.0L1391.8 800.0L1391.8 790.2L1398.8 762.1Z" fill="#FDE725" stroke="#FDE725" stroke-width="1.5"/><path d="M1040.5 758.5L1061.6 756.8L1072.1 776.1L1075.6 800.0L980.8 800.0L991.3 783.1L1015.9 776.1Z" fill="#FDE725" stroke="#FDE725" stroke-width="1.5"/><path d="M1167.0 779.6L1181.0 776.1L1191.6 800.0L1160.0 800.0Z" fill="#FDE725" stroke="#FDE725" stroke-width="1.5"/><path d="M1430.4 783.1L1448.0 779.6L1462.1 800.0L1423.4 800.0Z" fill="#FDE725" stroke="#FDE725" stroke-width="1.5"/><path d="M952.7 800.0L984.3 800.0L991.3 814.1L1001.9 810.5L1008.9 824.6L1001.9 838.6L984.3 849.2L975.5 859.7L975.5 887.8L966.7 905.4L952.7 905.4L949.2 894.8L938.6 884.3L952.7 875.5L952.7 859.7L965.0 842.2L952.7 821.1Z" fill="#440154" stroke="#440154" stroke-width="1.5"/><path d="M1075.6 810.5L1096.7 800.0L1124.8 800.0L1126.6 814.1L1110.8 824.6L1089.7 835.1L1065.1 847.4L1052.8 842.2L1058.1 828.1Z" fill="#440154" stroke="#440154" stroke-width="1.5"/><path d="M984.3 919.4L975.5 887.8L993.1 884.3L994.8 894.8L1015.9 893.1L1023.0 915.9L1040.5 908.9L1054.6 919.4L1075.6 923.0L1086.2 954.6L1054.6 951.1L1047.5 965.1L1051.1 982.7L1058.1 989.7L1054.6 1007.3L1040.5 1009.0L1054.6 1028.3L1065.1 1045.9L1054.6 1056.4L1030.0 1061.7L1019.4 1061.7L1017.7 1045.9L1008.9 1024.8L1005.4 1003.7L1010.7 989.7L1005.4 975.6L1001.9 951.1L994.8 933.5Z" fill="#440154" stroke="#440154" stroke-width="1.5"/><path d="M1174.0 886.1L1191.6 884.3L1202.1 901.9L1232.0 912.4L1240.7 894.8L1253.0 898.4L1251.3 915.9L1260.1 923.0L1237.2 937.0L1223.2 951.1L1198.6 963.3L1184.5 965.1L1172.2 954.6L1177.5 919.4Z" fill="#440154" stroke="#440154" stroke-width="1.5"/><path d="M1128.3 968.6L1142.4 956.3L1163.5 952.8L1184.5 965.1L1198.6 968.6L1196.8 996.7L1202.1 1014.3L1181.0 1021.3L1167.0 1030.1L1160.0 1021.3L1145.9 1000.2Z" fill="#440154" stroke="#440154" stroke-width="1.5"/><path d="M1219.7 1005.5L1237.2 1007.3L1251.3 1031.9L1246.0 1044.1L1237.2 1038.9L1228.5 1017.8Z" fill="#440154" stroke="#440154" stroke-width="1.5"/><path d="M1277.6 814.1L1282.9 810.5L1304.0 821.1L1319.8 838.6L1318.0 856.2L1304.0 859.7L1297.0 884.3L1289.9 893.1L1275.9 887.8L1265.3 877.3L1272.4 863.2L1268.9 838.6Z" fill="#440154" stroke="#440154" stroke-width="1.5"/><path d="M1304.0 821.1L1311.0 817.6L1342.6 824.6L1360.2 824.6L1365.5 817.6L1370.7 800.0L1409.4 800.0L1414.6 833.4L1419.9 824.6L1425.2 800.0L1476.1 800.0L1476.1 810.5L1500.0 810.5L1500.0 824.6L1476.1 831.6L1451.5 828.1L1426.9 835.1L1419.9 859.7L1441.0 870.3L1455.0 894.8L1476.1 891.3L1479.6 870.3L1500.0 856.2L1500.0 933.5L1490.2 937.0L1493.7 982.7L1483.1 984.4L1458.5 986.2L1462.1 1010.8L1451.5 1028.3L1426.9 1024.8L1423.4 1009.0L1412.9 996.7L1405.9 975.6L1391.8 982.7L1384.8 996.7L1367.2 1007.3L1367.2 1010.8L1335.6 1014.3L1330.3 1005.5L1367.2 996.7L1370.7 979.2L1377.8 965.1L1391.8 954.6L1412.9 965.1L1434.0 951.1L1434.0 915.9L1398.8 919.4L1391.8 901.9L1374.2 880.8L1360.2 868.5L1321.5 870.3L1319.8 838.6Z" fill="#440154" stroke="#440154" stroke-width="1.5"/><path d="M1426.9 835.1L1451.5 828.1L1448.0 859.7L1441.0 870.3L1419.9 859.7Z" fill="#21908C" stroke="#21908C" stroke-width="1.5"/><path d="M1451.5 845.7L1465.6 842.2L1476.1 838.6L1486.7 856.2L1476.1 863.2L1465.6 873.8L1453.3 865.0Z" fill="#FDE725" stroke="#FDE725" stroke-width="1.5"/><path d="M1474.4 861.5L1486.7 859.7L1486.7 873.8L1476.1 875.5Z" fill="#440154" stroke="#440154" stroke-width="1.5"/><path d="M1483.1 833.4L1500.0 828.1L1500.0 856.2L1490.2 866.7L1486.7 856.2Z" fill="#21908C" stroke="#21908C" stroke-width="1.5"/><path d="M1405.9 1079.3L1430.4 1084.5L1444.5 1102.1L1448.0 1112.6L1425.2 1126.7L1416.4 1116.2L1398.8 1116.2L1391.8 1105.6L1381.3 1119.7L1367.2 1133.7L1353.2 1130.2L1349.6 1109.1L1363.7 1098.6L1381.3 1105.6L1398.8 1095.1Z" fill="#440154" stroke="#440154" stroke-width="1.5"/><path d="M1335.6 1130.2L1353.2 1130.2L1367.2 1133.7L1369.0 1165.3L1360.2 1182.9L1353.2 1197.0L1321.5 1214.5L1319.8 1182.9L1304.0 1172.4L1300.5 1151.3L1314.5 1137.2Z" fill="#440154" stroke="#440154" stroke-width="1.5"/><path d="M1425.2 1126.7L1448.0 1112.6L1479.6 1109.1L1500.0 1109.1L1500.0 1182.9L1474.4 1182.9L1455.0 1179.4L1434.0 1186.4L1409.4 1179.4L1409.4 1151.3Z" fill="#440154" stroke="#440154" stroke-width="1.5"/><path d="M1265.3 1260.2L1279.4 1253.2L1297.0 1244.4L1312.8 1256.7L1300.5 1267.2L1297.0 1284.8L1282.9 1297.1L1261.8 1288.3L1268.9 1274.2Z" fill="#440154" stroke="#440154" stroke-width="1.5"/><path d="M1342.6 1230.3L1363.7 1228.6L1372.5 1242.6L1363.7 1260.2L1356.7 1270.7L1374.2 1284.8L1353.2 1319.9L1342.6 1341.0L1339.1 1353.3L1321.5 1369.1L1304.0 1381.4L1286.4 1365.6L1293.4 1351.5L1282.9 1337.5L1277.6 1316.4L1297.0 1314.6L1319.8 1309.4L1314.5 1286.5L1330.3 1291.8L1339.1 1270.7L1332.1 1253.2Z" fill="#440154" stroke="#440154" stroke-width="1.5"/><path d="M910.5 800.0L952.7 800.0L952.7 821.1L935.1 828.1L931.6 845.7L942.2 856.2L952.7 859.7L952.7 875.5L938.6 884.3L931.6 873.8L917.6 875.5L900.0 880.8L900.0 833.4L912.3 828.1Z" fill="#FDE725" stroke="#FDE725" stroke-width="1.5"/><path d="M1033.5 810.5L1047.5 814.1L1059.8 824.6L1051.1 838.6L1030.0 835.1Z" fill="#FDE725" stroke="#FDE725" stroke-width="1.5"/><path d="M1096.7 831.6L1110.8 828.1L1123.1 852.7L1130.1 863.2L1110.8 873.8L1096.7 884.3L1082.7 894.8L1068.6 887.8L1054.6 894.8L1051.1 905.4L1040.5 891.3L1037.0 877.3L1054.6 870.3L1054.6 849.2L1075.6 842.2Z" fill="#FDE725" stroke="#FDE725" stroke-width="1.5"/><path d="M1251.3 817.6L1272.4 810.5L1274.1 838.6L1268.9 838.6L1272.4 863.2L1265.3 877.3L1253.0 898.4L1240.7 894.8L1232.0 912.4L1202.1 901.9L1191.6 884.3L1174.0 886.1L1158.2 877.3L1170.5 859.7L1175.8 845.7L1191.6 850.9L1202.1 847.4L1210.9 863.2L1237.2 838.6Z" fill="#FDE725" stroke="#FDE725" stroke-width="1.5"/><path d="M1314.5 800.0L1363.7 800.0L1365.5 817.6L1360.2 824.6L1342.6 824.6L1311.0 817.6Z" fill="#FDE725" stroke="#FDE725" stroke-width="1.5"/><path d="M1409.4 800.0L1425.2 800.0L1419.9 824.6L1414.6 833.4Z" fill="#FDE725" stroke="#FDE725" stroke-width="1.5"/><path d="M1304.0 859.7L1321.5 870.3L1335.6 873.8L1339.1 905.4L1356.7 915.9L1367.2 905.4L1384.8 933.5L1367.2 940.5L1332.1 954.6L1328.6 968.6L1311.0 979.2L1297.0 986.2L1282.9 998.5L1265.3 986.2L1251.3 975.6L1247.8 961.6L1261.8 951.1L1279.4 958.1L1289.9 944.0L1281.1 937.0L1297.0 912.4L1297.0 884.3Z" fill="#FDE725" stroke="#FDE725" stroke-width="1.5"/><path d="M1063.3 982.7L1086.2 982.7L1096.7 1003.7L1103.7 1024.8L1096.7 1033.6L1079.2 1031.9L1072.1 1017.8L1061.6 1000.2Z" fill="#FDE725" stroke="#FDE725" stroke-width="1.5"/><path d="M1121.3 1038.9L1142.4 1028.3L1160.0 1021.3L1167.0 1030.1L1181.0 1021.3L1202.1 1014.3L1219.7 1010.8L1228.5 1017.8L1237.2 1038.9L1246.0 1044.1L1244.3 1052.9L1253.0 1067.0L1237.2 1077.5L1216.2 1091.6L1210.9 1109.1L1214.4 1130.2L1223.2 1133.7L1240.7 1144.3L1242.5 1123.2L1261.8 1119.7L1268.9 1158.3L1251.3 1165.3L1233.7 1165.3L1216.2 1168.9L1209.1 1179.4L1226.7 1186.4L1216.2 1200.5L1198.6 1204.0L1181.0 1221.5L1170.5 1225.1L1179.3 1242.6L1160.0 1249.6L1142.4 1242.6L1145.9 1228.6L1124.8 1218.0L1103.7 1207.5L1089.7 1197.0L1075.6 1172.4L1061.6 1154.8L1058.1 1137.2L1040.5 1116.2L1023.0 1091.6L1010.7 1074.0L1030.0 1061.7L1054.6 1056.4L1065.1 1045.9L1096.7 1042.4Z" fill="#FDE725" stroke="#FDE725" stroke-width="1.5"/><path d="M1268.9 1158.3L1282.9 1161.8L1300.5 1151.3L1304.0 1172.4L1319.8 1182.9L1321.5 1214.5L1307.5 1232.1L1297.0 1242.6L1279.4 1253.2L1265.3 1260.2L1261.8 1277.8L1251.3 1270.7L1233.7 1242.6L1244.3 1221.5L1251.3 1204.0L1254.8 1179.4L1251.3 1165.3Z" fill="#FDE725" stroke="#FDE725" stroke-width="1.5"/><path d="M1367.2 1010.8L1377.8 1024.8L1391.8 1042.4L1405.9 1074.0L1398.8 1095.1L1381.3 1105.6L1363.7 1098.6L1349.6 1091.6L1353.2 1060.0L1351.4 1042.4L1340.9 1024.8Z" fill="#FDE725" stroke="#FDE725" stroke-width="1.5"/><path d="M1458.5 986.2L1483.1 984.4L1490.2 1010.8L1476.1 1024.8L1465.6 1021.3L1476.1 1003.7L1462.1 996.7Z" fill="#FDE725" stroke="#FDE725" stroke-width="1.5"/><path d="M1483.1 1091.6L1500.0 1081.0L1500.0 1109.1L1479.6 1105.6Z" fill="#FDE725" stroke="#FDE725" stroke-width="1.5"/><path d="M1202.1 800.0L1219.7 800.0L1216.2 807.0L1205.6 805.3Z" fill="#FDE725" stroke="#FDE725" stroke-width="1.5"/><path d="M1503.5 824.6L1514.1 815.8L1528.1 821.1L1531.6 835.1L1514.1 838.6L1500.0 835.1Z" fill="#440154" stroke="#440154" stroke-width="1.5"/><path d="M1570.3 850.9L1587.8 845.7L1594.8 836.9L1615.9 838.6L1624.7 833.4L1649.3 843.9L1642.3 852.7L1645.8 868.5L1640.5 879.0L1633.5 887.8L1624.7 870.3L1623.0 859.7L1594.8 858.0L1580.8 866.7L1568.5 863.2Z" fill="#440154" stroke="#440154" stroke-width="1.5"/><path d="M1538.6 884.3L1559.7 879.0L1579.0 880.8L1572.0 894.8L1566.7 912.4L1545.7 915.9L1535.1 898.4Z" fill="#440154" stroke="#440154" stroke-width="1.5"/><path d="M1500.0 905.4L1514.1 908.9L1519.3 919.4L1545.7 915.9L1558.0 921.2L1556.2 947.5L1552.7 958.1L1535.1 961.6L1514.1 940.5L1500.0 954.6Z" fill="#440154" stroke="#440154" stroke-width="1.5"/><path d="M1556.2 979.2L1584.3 982.7L1605.4 972.1L1608.9 996.7L1640.5 996.7L1644.0 1002.0L1665.1 979.2L1682.7 972.1L1689.7 963.3L1686.2 975.6L1696.7 989.7L1702.0 996.7L1707.3 1000.2L1717.8 993.2L1724.8 979.2L1745.9 972.1L1761.7 968.6L1763.5 954.6L1791.6 959.8L1805.6 968.6L1812.6 996.7L1816.2 1010.8L1802.1 1024.8L1791.6 1031.9L1777.5 1028.3L1752.9 1045.9L1742.4 1056.4L1717.8 1063.5L1696.7 1074.0L1689.7 1077.5L1682.7 1091.6L1675.6 1102.1L1661.6 1112.6L1652.8 1109.1L1654.6 1098.6L1665.1 1091.6L1672.1 1081.0L1668.6 1067.0L1675.6 1056.4L1668.6 1051.2L1654.6 1052.9L1647.5 1045.9L1640.5 1031.9L1637.0 1024.8L1619.4 1024.8L1605.4 1024.8L1594.8 1042.4L1593.1 1074.0L1598.4 1098.6L1594.8 1105.6L1566.7 1102.1L1558.0 1088.1L1563.2 1067.0L1565.0 1045.9L1559.7 1028.3L1554.4 1010.8Z" fill="#440154" stroke="#440154" stroke-width="1.5"/><path d="M1528.1 1000.2L1556.2 998.5L1552.7 1007.3L1531.6 1010.8Z" fill="#440154" stroke="#440154" stroke-width="1.5"/><path d="M1507.0 1031.9L1524.6 1024.8L1538.6 1028.3L1535.1 1052.9L1521.1 1063.5L1514.1 1052.9Z" fill="#440154" stroke="#440154" stroke-width="1.5"/><path d="M1572.0 1121.4L1594.8 1107.4L1598.4 1116.2L1594.8 1126.7L1575.5 1137.2Z" fill="#440154" stroke="#440154" stroke-width="1.5"/><path d="M1500.0 1109.1L1517.6 1116.2L1524.6 1130.2L1514.1 1140.7L1510.5 1154.8L1514.1 1168.9L1507.0 1182.9L1500.0 1186.4Z" fill="#440154" stroke="#440154" stroke-width="1.5"/><path d="M1751.2 831.6L1768.7 824.6L1772.2 814.1L1767.0 807.0L1781.0 805.3L1784.5 815.8L1798.6 812.3L1809.1 817.6L1819.7 808.8L1832.0 821.1L1830.2 835.1L1842.5 850.9L1863.6 856.2L1854.8 863.2L1846.0 861.5L1847.8 898.4L1826.7 907.1L1816.2 894.8L1809.1 880.8L1802.1 870.3L1788.1 868.5L1781.0 880.8L1767.0 884.3L1745.9 901.9L1731.9 898.4L1738.9 880.8L1745.9 861.5L1761.7 863.2L1760.0 852.7L1774.0 858.0L1788.1 850.9L1777.5 845.7L1752.9 838.6Z" fill="#440154" stroke="#440154" stroke-width="1.5"/><path d="M1874.1 822.8L1886.4 817.6L1897.0 835.1L1911.0 849.2L1932.1 863.2L1921.5 873.8L1904.0 877.3L1889.9 863.2L1882.9 842.2Z" fill="#440154" stroke="#440154" stroke-width="1.5"/><path d="M1854.8 901.9L1868.9 894.8L1882.9 901.9L1884.7 930.0L1875.9 937.0L1865.3 926.5L1853.0 912.4Z" fill="#440154" stroke="#440154" stroke-width="1.5"/><path d="M1791.6 935.2L1802.1 930.0L1816.2 942.3L1830.2 944.0L1833.7 954.6L1819.7 961.6L1805.6 968.6L1791.6 959.8Z" fill="#440154" stroke="#440154" stroke-width="1.5"/><path d="M1510.5 803.5L1521.1 800.0L1545.7 800.0L1538.6 817.6L1528.1 824.6L1517.6 817.6Z" fill="#FDE725" stroke="#FDE725" stroke-width="1.5"/><path d="M1568.5 800.0L1596.6 800.0L1593.1 815.8L1577.3 821.1L1568.5 810.5Z" fill="#FDE725" stroke="#FDE725" stroke-width="1.5"/><path d="M1529.9 829.9L1540.4 835.1L1549.2 852.7L1545.7 859.7L1535.1 845.7Z" fill="#FDE725" stroke="#FDE725" stroke-width="1.5"/><path d="M1594.8 858.0L1623.0 859.7L1624.7 870.3L1633.5 887.8L1635.2 901.9L1630.0 915.9L1619.4 923.0L1612.4 940.5L1626.5 933.5L1640.5 919.4L1665.1 915.9L1682.7 905.4L1700.2 893.1L1702.0 905.4L1696.7 930.0L1689.7 947.5L1665.1 933.5L1654.6 940.5L1647.5 954.6L1644.0 975.6L1658.1 972.1L1666.9 982.7L1661.6 1000.2L1644.0 1002.0L1640.5 996.7L1608.9 1000.2L1605.4 972.1L1584.3 982.7L1556.2 979.2L1552.7 996.7L1538.6 1000.2L1521.1 1017.8L1514.1 1003.7L1510.5 982.7L1512.3 968.6L1535.1 961.6L1552.7 958.1L1558.0 921.2L1563.2 930.0L1584.3 937.0L1582.6 905.4L1580.8 866.7Z" fill="#FDE725" stroke="#FDE725" stroke-width="1.5"/><path d="M1524.6 875.5L1535.1 884.3L1535.1 898.4L1545.7 915.9L1519.3 919.4L1507.0 894.8Z" fill="#FDE725" stroke="#FDE725" stroke-width="1.5"/><path d="M1515.8 900.1L1533.4 896.6L1535.1 907.1L1521.1 910.7Z" fill="#21908C" stroke="#21908C" stroke-width="1.5"/><path d="M1770.5 886.1L1781.0 893.1L1812.6 891.3L1826.7 907.1L1846.0 898.4L1854.8 901.9L1853.0 912.4L1837.2 926.5L1830.2 940.5L1816.2 942.3L1802.1 930.0L1781.0 938.8L1770.5 944.0L1760.0 919.4L1747.7 901.9Z" fill="#FDE725" stroke="#FDE725" stroke-width="1.5"/><path d="M1770.5 944.0L1781.0 938.8L1789.8 940.5L1788.1 954.6L1763.5 954.6L1761.7 968.6L1752.9 961.6Z" fill="#FDE725" stroke="#FDE725" stroke-width="1.5"/><path d="M1805.6 968.6L1819.7 961.6L1833.7 954.6L1851.3 958.1L1865.3 963.3L1877.6 958.1L1875.9 979.2L1865.3 996.7L1851.3 1007.3L1830.2 1012.5L1816.2 1010.8L1812.6 996.7Z" fill="#FDE725" stroke="#FDE725" stroke-width="1.5"/><path d="M1861.8 812.3L1872.4 801.8L1889.9 800.0L1925.1 800.0L1930.3 821.1L1930.3 838.6L1932.1 863.2L1911.0 849.2L1897.0 835.1L1886.4 817.6L1874.1 822.8Z" fill="#FDE725" stroke="#FDE725" stroke-width="1.5"/><path d="M1979.5 814.1L1991.8 813.3L2009.4 810.5L2034.0 805.3L2048.0 810.5L2069.1 814.1L2076.1 824.6L2069.1 835.1L2058.5 849.2L2041.0 863.2L2019.9 868.5L2005.9 865.0L1984.8 872.0L1967.2 887.8L1953.2 891.3L1949.6 908.9L1946.1 933.5L1932.1 938.8L1911.0 940.5L1904.0 958.1L1889.9 961.6L1891.7 947.5L1886.4 930.0L1882.9 901.9L1897.0 887.8L1904.0 877.3L1921.5 873.8L1932.1 863.2L1956.7 852.7L1967.2 859.7L1979.5 845.7Z" fill="#FDE725" stroke="#FDE725" stroke-width="1.5"/><path d="M1944.4 800.0L1967.2 800.0L1953.2 810.5L1942.6 807.0Z" fill="#FDE725" stroke="#FDE725" stroke-width="1.5"/><path d="M1605.4 1024.8L1619.4 1024.8L1623.0 1031.9L1615.9 1045.9L1626.5 1056.4L1640.5 1045.9L1637.0 1028.3L1640.5 1031.9L1647.5 1045.9L1654.6 1052.9L1661.6 1060.0L1651.1 1061.7L1640.5 1067.0L1626.5 1067.0L1612.4 1045.9L1601.9 1031.9Z" fill="#FDE725" stroke="#FDE725" stroke-width="1.5"/><path d="M1651.1 1061.7L1640.5 1081.0L1630.0 1091.6L1619.4 1089.8L1626.5 1077.5L1640.5 1067.0Z" fill="#440154" stroke="#440154" stroke-width="1.5"/><path d="M1635.2 1051.2L1647.5 1045.9L1654.6 1052.9L1640.5 1058.2Z" fill="#440154" stroke="#440154" stroke-width="1.5"/><path d="M1542.2 1038.9L1559.7 1042.4L1563.2 1067.0L1558.0 1088.1L1542.2 1091.6L1545.7 1065.2L1533.4 1056.4Z" fill="#FDE725" stroke="#FDE725" stroke-width="1.5"/><path d="M1500.0 1074.0L1514.1 1077.5L1535.1 1091.6L1545.7 1098.6L1542.2 1109.1L1528.1 1119.7L1517.6 1116.2L1500.0 1109.1Z" fill="#FDE725" stroke="#FDE725" stroke-width="1.5"/><path d="M1521.1 1133.7L1531.6 1151.3L1538.6 1160.1L1517.6 1177.6L1514.1 1193.4L1500.0 1204.0L1507.0 1182.9L1514.1 1168.9L1510.5 1154.8L1514.1 1140.7Z" fill="#FDE725" stroke="#FDE725" stroke-width="1.5"/><path d="M1821.4 1045.9L1867.1 1045.9L1867.1 1100.4L1821.4 1100.4Z" fill="#FDE725" stroke="#FDE725" stroke-width="1.5"/><path d="M1533.4 574.1L1552.7 575.2L1566.7 586.4L1563.2 607.5L1552.7 619.8L1521.1 618.0L1519.3 604.0L1528.1 593.4Z" fill="#21908C" stroke="#21908C" stroke-width="1.5"/><path d="M1500.0 604.0L1519.3 607.5L1526.3 632.1L1521.1 656.7L1515.8 684.8L1500.0 677.8Z" fill="#21908C" stroke="#21908C" stroke-width="1.5"/><path d="M1568.5 700.6L1587.8 702.3L1597.7 711.1L1584.3 719.9L1573.8 716.4Z" fill="#21908C" stroke="#21908C" stroke-width="1.5"/><path d="M1524.6 723.4L1536.9 725.2L1535.1 737.5L1526.3 744.5Z" fill="#21908C" stroke="#21908C" stroke-width="1.5"/><path d="M1500.0 748.0L1514.1 749.8L1528.1 765.6L1545.7 763.8L1543.9 800.0L1500.0 800.0Z" fill="#440154" stroke="#440154" stroke-width="1.5"/><path d="M1575.5 786.7L1587.8 783.1L1596.6 795.4L1584.3 797.2Z" fill="#440154" stroke="#440154" stroke-width="1.5"/><path d="M1596.6 788.4L1607.1 783.1L1623.0 793.7L1633.5 800.0L1594.8 800.0Z" fill="#21908C" stroke="#21908C" stroke-width="1.5"/><path d="M1918.0 783.1L1939.1 776.1L1940.9 800.0L1925.1 800.0Z" fill="#21908C" stroke="#21908C" stroke-width="1.5"/><path d="M300.0 760.0L391.1 760.0L341.4 800.0L300.0 826.2Z" fill="#440154" stroke="#440154" stroke-width="1.5"/><path d="M636.7 760.0L664.3 760.0L656.0 779.3L647.7 790.4L647.7 815.2L642.2 826.2L627.0 829.0L614.6 821.3L622.9 809.7L628.4 787.6L633.9 771.0Z" fill="#21908C" stroke="#21908C" stroke-width="1.5"/><path d="M680.9 787.6L702.9 787.6L705.7 815.2L697.4 834.5L686.4 826.2L679.5 809.7Z" fill="#21908C" stroke="#21908C" stroke-width="1.5"/><path d="M741.6 787.6L771.9 787.6L769.2 815.2L752.6 823.5L741.6 815.2Z" fill="#21908C" stroke="#21908C" stroke-width="1.5"/><path d="M747.1 823.5L769.2 815.2L785.7 812.4L818.9 801.4L824.4 823.5L852.0 829.0L879.6 826.2L900.0 826.2L900.0 882.8L868.5 882.8L852.0 875.9L829.9 881.4L810.6 877.3L796.8 881.4L776.1 882.8L769.2 862.1L758.1 849.7L741.6 845.6Z" fill="#FDE725" stroke="#FDE725" stroke-width="1.5"/><path d="M780.2 851.1L794.0 848.3L799.5 862.1L810.6 867.6L820.2 862.1L821.6 873.2L810.6 877.3L796.8 881.4L776.1 882.8L774.7 870.4Z" fill="#21908C" stroke="#21908C" stroke-width="1.5"/><path d="M821.6 800.0L900.0 800.0L900.0 826.2L879.6 826.2L852.0 829.0L824.4 823.5Z" fill="#21908C" stroke="#21908C" stroke-width="1.5"/><clipPath id="pcA0"><rect x="872" y="200" width="56" height="600"/></clipPath><g clip-path="url(#pcA0)"><path d="M800.0 200.0L1000.0 200.0L1000.0 800.4L800.0 800.4Z" fill="#21908C" stroke="#21908C" stroke-width="1.5"/><path d="M800.0 221.1L838.7 212.3L845.7 235.1L856.2 270.3L865.0 305.4L866.8 330.1L852.7 340.6L821.1 340.6L800.0 333.6Z" fill="#FDE725" stroke="#FDE725" stroke-width="1.5"/><path d="M829.9 293.1L842.2 292.1L842.2 305.4L833.4 309.0Z" fill="#21908C" stroke="#21908C" stroke-width="1.5"/><path d="M838.7 214.1L859.8 231.6L865.0 266.8L852.7 268.5L842.2 235.1Z" fill="#440154" stroke="#440154" stroke-width="1.5"/><path d="M894.9 233.4L923.0 235.1L951.1 245.7L1000.0 242.2L1000.0 340.6L982.8 337.1L961.7 351.1L954.7 365.2L940.6 375.7L933.6 365.2L916.0 368.7L901.9 361.7L875.6 356.4L887.9 330.1L901.9 324.8L916.0 323.0L921.3 301.9L916.0 287.9L901.9 305.4L887.9 301.9L880.8 284.4L873.8 270.3L891.4 259.8Z" fill="#440154" stroke="#440154" stroke-width="1.5"/><path d="M921.3 300.2L930.1 312.5L930.1 326.5L917.8 324.8Z" fill="#21908C" stroke="#21908C" stroke-width="1.5"/><path d="M968.7 275.6L989.8 284.4L1000.0 296.7L982.8 312.5L968.7 317.8L965.2 305.4Z" fill="#FDE725" stroke="#FDE725" stroke-width="1.5"/><path d="M800.0 347.6L821.1 340.6L845.7 340.6L856.2 331.8L866.8 333.6L865.0 351.1L842.2 361.7L831.6 365.2L810.5 365.2L800.0 358.2Z" fill="#440154" stroke="#440154" stroke-width="1.5"/><path d="M831.6 372.2L842.2 375.7L852.7 379.3L875.6 382.8L873.8 407.4L849.2 410.9L845.7 425.0L833.4 410.9Z" fill="#440154" stroke="#440154" stroke-width="1.5"/><path d="M875.6 358.2L901.9 363.4L891.4 396.8L886.1 417.9L873.8 428.5L863.3 439.0L849.2 428.5L849.2 412.7L873.8 409.1L875.6 382.8Z" fill="#FDE725" stroke="#FDE725" stroke-width="1.5"/><path d="M886.1 417.9L893.1 396.8L901.9 368.7L912.5 382.8L912.5 410.9L909.0 432.0L919.5 446.0L924.8 460.1L917.8 470.7L901.9 467.1L894.9 449.6L880.8 446.0L868.5 439.0L875.6 428.5Z" fill="#440154" stroke="#440154" stroke-width="1.5"/><path d="M905.4 368.7L916.0 370.5L933.6 379.3L940.6 396.8L947.6 417.9L940.6 439.0L933.6 446.0L924.8 460.1L919.5 446.0L924.8 432.0L912.5 425.0L912.5 382.8Z" fill="#FDE725" stroke="#FDE725" stroke-width="1.5"/><path d="M933.6 365.2L954.7 382.8L965.2 396.8L975.7 402.1L968.7 386.3L982.8 393.3L989.8 410.9L1000.0 410.9L1000.0 439.0L972.2 439.0L949.4 439.0L951.1 421.4L940.6 396.8L935.3 379.3Z" fill="#440154" stroke="#440154" stroke-width="1.5"/><path d="M951.1 410.9L968.7 400.4L975.7 414.4L974.0 430.2L954.7 432.0Z" fill="#FDE725" stroke="#FDE725" stroke-width="1.5"/><path d="M933.6 446.0L949.4 439.0L972.2 439.0L1000.0 439.0L1000.0 498.8L982.8 502.3L961.7 523.4L982.8 533.9L989.8 544.5L975.7 607.7L958.2 621.8L937.1 620.0L916.0 614.8L910.7 604.2L917.8 595.4L898.4 583.1L875.6 586.6L879.1 558.5L884.4 533.9L891.4 516.3L900.2 500.5L905.4 509.3L935.3 516.3L938.8 498.8L933.6 481.2L921.3 470.7L926.5 460.1Z" fill="#FDE725" stroke="#FDE725" stroke-width="1.5"/><path d="M942.4 446.0L954.7 437.3L963.4 440.8L961.7 454.8L947.6 454.8Z" fill="#21908C" stroke="#21908C" stroke-width="1.5"/><path d="M800.0 453.1L821.1 470.7L845.7 481.2L863.3 479.4L877.3 486.5L882.6 509.3L891.4 523.4L884.4 537.4L879.1 558.5L875.6 569.1L849.2 569.1L845.7 555.0L840.4 537.4L821.1 551.5L819.3 565.6L808.8 563.8L821.1 526.9L810.5 491.7L800.0 477.7Z" fill="#440154" stroke="#440154" stroke-width="1.5"/><path d="M961.7 523.4L975.7 509.3L989.8 500.5L1000.0 498.8L1000.0 548.0L989.8 544.5L982.8 533.9Z" fill="#440154" stroke="#440154" stroke-width="1.5"/><path d="M803.5 567.3L819.3 565.6L821.1 551.5L840.4 537.4L849.2 558.5L842.2 576.1L826.4 590.2L814.1 579.6Z" fill="#FDE725" stroke="#FDE725" stroke-width="1.5"/><path d="M856.2 572.6L875.6 569.1L875.6 586.6L879.1 611.2L882.6 620.0L905.4 620.0L937.1 621.8L958.2 627.1L975.7 642.9L1000.0 639.4L1000.0 664.0L975.7 664.0L968.7 674.5L979.3 692.1L961.7 706.2L954.7 727.2L951.1 748.3L937.1 758.9L923.0 776.4L916.0 748.3L901.9 737.8L898.4 762.4L884.4 765.9L868.5 758.9L870.3 727.2L865.0 723.7L879.1 692.1L875.6 656.9L905.4 642.9L880.8 621.8L866.8 627.1L863.3 649.9L842.2 646.4L828.1 653.4L810.5 632.3L812.3 609.5L821.1 600.7L840.4 602.5L845.7 611.2L852.7 600.7Z" fill="#440154" stroke="#440154" stroke-width="1.5"/><path d="M901.9 692.1L926.5 688.6L916.0 713.2L905.4 734.3L900.2 720.2Z" fill="#21908C" stroke="#21908C" stroke-width="1.5"/><path d="M872.1 593.7L882.6 583.1L898.4 583.1L917.8 595.4L910.7 614.8L882.6 620.0L873.8 607.7Z" fill="#21908C" stroke="#21908C" stroke-width="1.5"/><path d="M866.8 627.1L880.8 621.8L905.4 642.9L894.9 653.4L879.1 653.4L877.3 674.5L870.3 688.6L840.4 699.1L833.4 688.6L851.0 674.5L852.7 653.4L863.3 649.9Z" fill="#FDE725" stroke="#FDE725" stroke-width="1.5"/><path d="M833.4 716.7L842.2 727.2L835.1 748.3L822.8 744.8L826.4 727.2Z" fill="#FDE725" stroke="#FDE725" stroke-width="1.5"/><path d="M961.7 699.1L972.2 692.1L1000.0 702.6L1000.0 713.2L989.8 709.7L965.2 706.2Z" fill="#FDE725" stroke="#FDE725" stroke-width="1.5"/><path d="M907.2 780.0L919.5 776.4L933.6 783.5L933.6 800.4L905.4 800.4Z" fill="#FDE725" stroke="#FDE725" stroke-width="1.5"/><path d="M961.7 765.9L982.8 758.9L989.8 776.4L975.7 783.5L965.2 797.5L959.9 780.0Z" fill="#440154" stroke="#440154" stroke-width="1.5"/><path d="M975.7 783.5L989.8 776.4L1000.0 780.0L1000.0 800.4L975.7 800.4Z" fill="#FDE725" stroke="#FDE725" stroke-width="1.5"/></g><clipPath id="pcA1"><rect x="900" y="772" width="600" height="56"/></clipPath><g clip-path="url(#pcA1)"><path d="M900.0 730.0L1500.0 730.0L1500.0 869.9L900.0 869.9Z" fill="#21908C" stroke="#21908C" stroke-width="1.5"/><path d="M900.0 735.5L927.6 741.0L935.9 754.8L933.1 765.9L924.8 779.7L919.3 785.2L908.3 771.4L902.8 746.6Z" fill="#440154" stroke="#440154" stroke-width="1.5"/><path d="M959.3 757.6L980.0 760.4L988.3 771.4L980.0 785.2L982.8 801.8L993.8 812.8L1009.0 825.2L1004.9 837.6L993.8 848.7L980.0 845.9L963.5 859.7L955.2 869.9L953.8 840.4L952.4 812.8L953.8 790.7L958.0 774.2Z" fill="#440154" stroke="#440154" stroke-width="1.5"/><path d="M905.5 789.3L930.4 789.3L952.4 796.2L952.4 815.6L953.8 823.8L938.6 832.1L930.4 845.9L924.8 859.7L900.0 869.9L900.0 832.1L911.0 823.8L908.3 807.3Z" fill="#FDE725" stroke="#FDE725" stroke-width="1.5"/><path d="M935.9 829.4L952.4 823.8L962.1 840.4L955.2 854.2L941.4 858.3L930.4 845.9Z" fill="#21908C" stroke="#21908C" stroke-width="1.5"/><path d="M977.3 785.2L991.1 775.5L1004.9 781.1L1015.9 767.3L1032.5 760.4L1046.3 749.3L1062.8 753.5L1071.1 765.9L1076.6 785.2L1065.6 793.5L1043.5 801.8L1029.7 793.5L1021.4 799.0L1010.4 815.6L1004.9 823.8L993.8 812.8L982.8 801.8Z" fill="#FDE725" stroke="#FDE725" stroke-width="1.5"/><path d="M1029.7 810.0L1038.0 807.3L1046.3 815.6L1061.5 822.5L1054.6 837.6L1043.5 839.0L1029.7 833.5Z" fill="#FDE725" stroke="#FDE725" stroke-width="1.5"/><path d="M1065.6 760.4L1082.2 747.9L1098.7 757.6L1113.9 772.8L1109.8 785.2L1102.9 792.1L1087.7 793.5L1076.6 785.2L1071.1 771.4Z" fill="#440154" stroke="#440154" stroke-width="1.5"/><path d="M1113.9 772.8L1137.4 757.6L1144.3 756.2L1147.0 767.3L1155.3 771.4L1152.5 781.1L1142.9 793.5L1129.1 799.0L1123.6 812.8L1109.8 823.8L1093.2 832.1L1082.2 840.4L1071.1 844.5L1054.6 848.7L1053.2 834.9L1061.5 822.5L1065.6 815.6L1087.7 807.3L1102.9 799.0L1109.8 785.2Z" fill="#440154" stroke="#440154" stroke-width="1.5"/><path d="M1054.6 848.7L1071.1 844.5L1082.2 840.4L1093.2 832.1L1104.2 826.6L1118.0 840.4L1123.6 851.4L1129.1 862.5L1126.3 869.9L1054.6 869.9Z" fill="#FDE725" stroke="#FDE725" stroke-width="1.5"/><path d="M1184.3 761.7L1192.6 774.2L1198.1 785.2L1206.4 790.7L1217.4 789.3L1227.0 796.2L1220.2 804.5L1206.4 805.9L1198.1 797.6L1189.8 800.4L1173.2 799.0L1162.2 796.2L1165.0 785.2L1178.8 782.4Z" fill="#FDE725" stroke="#FDE725" stroke-width="1.5"/><path d="M1222.9 765.9L1231.2 757.6L1243.6 768.6L1247.7 785.2L1253.3 799.0L1249.1 804.5L1239.5 796.2L1231.2 782.4Z" fill="#440154" stroke="#440154" stroke-width="1.5"/><path d="M1260.2 730.0L1377.5 730.0L1380.2 746.6L1369.2 754.8L1363.7 774.2L1358.1 796.2L1366.4 810.0L1363.7 823.8L1341.6 825.2L1327.8 822.5L1308.5 818.3L1308.5 801.8L1314.0 789.3L1311.2 774.2L1300.2 763.1L1283.6 760.4L1275.3 754.8L1269.8 738.3Z" fill="#FDE725" stroke="#FDE725" stroke-width="1.5"/><path d="M1269.8 765.9L1283.6 760.4L1300.2 763.1L1311.2 774.2L1314.0 789.3L1297.4 789.3L1286.4 786.6L1278.1 792.1L1268.4 793.5L1272.6 782.4Z" fill="#440154" stroke="#440154" stroke-width="1.5"/><path d="M1242.2 815.6L1258.8 812.8L1269.8 808.7L1275.3 812.8L1274.0 837.6L1267.1 840.4L1267.1 854.2L1261.5 869.9L1165.0 869.9L1171.9 845.9L1189.8 851.4L1203.6 848.7L1214.6 862.5L1231.2 851.4L1231.2 834.9L1242.2 826.6Z" fill="#FDE725" stroke="#FDE725" stroke-width="1.5"/><path d="M1275.3 811.4L1289.1 815.6L1308.5 818.3L1327.8 822.5L1341.6 825.2L1363.7 823.8L1366.4 810.0L1380.2 799.0L1396.8 796.2L1410.6 804.5L1416.1 826.6L1421.6 834.9L1413.3 845.9L1418.9 869.9L1267.1 869.9L1267.1 840.4L1274.0 837.6Z" fill="#440154" stroke="#440154" stroke-width="1.5"/><path d="M1369.2 754.8L1380.2 756.2L1388.5 771.4L1392.6 785.2L1385.7 790.7L1371.9 782.4L1363.7 774.2Z" fill="#440154" stroke="#440154" stroke-width="1.5"/><path d="M1380.2 746.6L1396.8 752.1L1410.6 738.3L1427.1 735.5L1427.1 765.9L1418.9 771.4L1424.4 785.2L1440.9 782.4L1457.5 776.9L1452.0 788.0L1432.7 793.5L1423.0 796.2L1418.9 812.8L1416.1 826.6L1410.6 804.5L1396.8 796.2L1392.6 785.2L1388.5 771.4L1380.2 756.2Z" fill="#FDE725" stroke="#FDE725" stroke-width="1.5"/><path d="M1407.8 779.7L1424.4 771.4L1423.0 793.5L1413.3 794.9L1406.4 790.7Z" fill="#21908C" stroke="#21908C" stroke-width="1.5"/><path d="M1427.1 730.0L1474.1 730.0L1479.6 743.8L1500.0 746.6L1500.0 782.4L1493.4 783.8L1479.6 771.4L1471.3 782.4L1457.5 776.9L1440.9 782.4L1424.4 785.2L1418.9 771.4L1427.1 765.9Z" fill="#440154" stroke="#440154" stroke-width="1.5"/><path d="M1423.0 796.2L1432.7 793.5L1452.0 788.0L1465.8 782.4L1471.3 785.2L1476.8 801.8L1476.8 810.0L1496.1 815.6L1500.0 823.8L1479.6 829.4L1465.8 823.8L1449.2 832.1L1424.4 837.6L1421.6 834.9L1416.1 826.6L1418.9 812.8Z" fill="#440154" stroke="#440154" stroke-width="1.5"/><path d="M1474.1 730.0L1500.0 730.0L1500.0 746.6L1479.6 743.8Z" fill="#FDE725" stroke="#FDE725" stroke-width="1.5"/><path d="M1476.8 793.5L1500.0 793.5L1500.0 815.6L1496.1 815.6L1476.8 810.0Z" fill="#FDE725" stroke="#FDE725" stroke-width="1.5"/><path d="M1449.2 851.4L1463.0 845.9L1476.8 840.4L1479.6 857.0L1468.5 862.5L1452.0 865.2Z" fill="#FDE725" stroke="#FDE725" stroke-width="1.5"/><path d="M1465.8 859.7L1479.6 857.0L1487.9 869.9L1465.8 869.9Z" fill="#440154" stroke="#440154" stroke-width="1.5"/><path d="M1300.2 859.7L1314.0 858.3L1325.0 869.9L1297.4 869.9Z" fill="#FDE725" stroke="#FDE725" stroke-width="1.5"/><path d="M1358.1 796.2L1363.7 779.7L1374.7 783.8L1385.7 790.7L1388.5 801.8L1380.2 810.0L1366.4 810.0Z" fill="#21908C" stroke="#21908C" stroke-width="1.5"/><path d="M1274.0 794.9L1286.4 790.7L1297.4 792.1L1308.5 801.8L1308.5 815.6L1289.1 815.6L1275.3 811.4Z" fill="#21908C" stroke="#21908C" stroke-width="1.5"/></g></g></g>
<g transform="translate(1950,0)"><clipPath id="clipB"><path d="M841.0 212.3L819.9 219.3L798.8 238.6L770.7 252.7L753.2 259.7L739.1 273.8L726.8 300.1L718.0 319.4L672.4 330.0L654.8 356.3L623.2 391.5L612.6 410.8L612.6 445.9L605.6 461.7L584.5 477.5L564.2 498.6L570.5 537.2L545.9 565.3L524.8 579.4L519.6 589.9L531.9 607.5L510.8 630.3L496.7 653.2L479.2 670.7L468.6 698.8L447.5 723.4L415.9 741.0L388.3 760.0L382.8 765.5L371.8 777.9L355.2 783.5L344.2 787.6L327.6 798.6L324.3 809.7L327.6 821.3L335.9 813.8L349.7 804.2L359.3 802.8L373.1 811.1L385.6 809.7L392.5 811.1L402.1 815.2L413.2 811.1L425.6 802.8L432.5 809.7L442.1 816.6L451.8 812.4L465.6 815.2L479.4 817.4L490.4 813.8L496.0 824.9L508.4 819.3L509.8 804.2L518.0 792.6L529.1 795.3L542.9 800.0L553.9 806.9L566.3 815.2L581.5 813.8L589.8 812.4L596.7 824.0L614.6 821.3L627.0 829.0L642.2 826.2L647.7 820.7L658.8 823.5L672.6 824.9L686.4 826.2L694.7 834.5L705.7 840.0L722.3 842.8L736.1 849.7L741.6 845.6L752.6 852.5L758.1 849.7L769.2 862.1L774.7 870.4L776.1 882.8L785.7 885.6L796.8 881.4L799.5 873.2L810.6 877.3L820.2 873.2L829.9 881.4L849.2 881.4L852.0 875.9L865.8 877.3L868.5 882.8L887.9 884.2L900.0 882.8L900.0 880.8L917.6 875.5L931.6 873.8L938.6 884.3L949.2 894.8L952.7 905.4L968.5 908.9L984.3 919.4L994.8 933.5L1001.9 951.1L1005.4 975.6L1010.7 989.7L1005.4 1003.7L1008.9 1024.8L1017.7 1045.9L1019.4 1061.7L1010.7 1074.0L1023.0 1091.6L1040.5 1116.2L1058.1 1137.2L1061.6 1154.8L1075.6 1172.4L1086.2 1182.9L1079.2 1193.4L1089.7 1197.0L1072.1 1214.5L1066.9 1235.6L1068.6 1251.4L1086.2 1254.9L1117.8 1246.1L1145.9 1249.6L1170.5 1247.9L1191.6 1253.2L1210.9 1249.6L1223.2 1263.7L1214.4 1277.8L1212.6 1298.8L1209.1 1323.4L1207.4 1326.9L1216.2 1339.2L1223.2 1334.0L1230.2 1319.9L1247.8 1316.4L1258.3 1326.9L1272.4 1319.9L1279.4 1316.4L1282.9 1337.5L1293.4 1351.5L1286.4 1365.6L1304.0 1381.4L1321.5 1369.1L1339.1 1353.3L1342.6 1341.0L1353.2 1319.9L1374.2 1284.8L1391.8 1267.2L1416.4 1249.6L1444.5 1232.1L1476.1 1214.5L1500.0 1197.0L1500.0 1204.0L1514.1 1193.4L1517.6 1177.6L1535.1 1161.8L1552.7 1151.3L1573.8 1139.0L1594.8 1126.7L1615.9 1116.2L1637.0 1110.9L1640.5 1102.1L1654.6 1098.6L1652.8 1109.1L1661.6 1112.6L1675.6 1102.1L1682.7 1091.6L1691.5 1077.5L1707.3 1067.0L1724.8 1060.0L1742.4 1056.4L1760.0 1058.2L1777.5 1060.0L1798.6 1061.7L1809.1 1072.2L1830.2 1070.5L1832.0 1056.4L1826.7 1042.4L1830.2 1028.3L1847.8 1017.8L1858.3 1010.8L1872.4 1014.3L1886.4 1002.0L1902.2 1010.8L1900.5 989.7L1914.5 982.7L1928.6 968.6L1939.1 975.6L1961.9 972.1L1953.2 961.6L1942.6 951.1L1932.1 938.8L1946.1 933.5L1949.6 908.9L1953.2 891.3L1967.2 887.8L1984.8 872.0L2005.9 865.0L2019.9 868.5L2041.0 863.2L2058.5 849.2L2069.1 835.1L2074.4 824.6L2069.1 814.1L2048.0 810.5L2034.0 805.3L2009.4 810.5L1991.8 813.3L1981.3 814.1L1979.5 800.0L1974.2 800.0L1970.7 793.7L1963.7 776.1L1953.2 769.1L1939.1 776.1L1918.0 783.1L1904.0 783.1L1886.4 790.2L1877.6 800.0L1877.6 800.0L1872.4 801.8L1860.1 814.1L1851.3 812.3L1830.2 819.3L1819.7 808.8L1809.1 817.6L1798.6 812.3L1784.5 815.8L1781.0 805.3L1767.0 807.0L1772.2 814.1L1768.7 824.6L1751.2 831.6L1752.9 838.6L1774.0 842.2L1781.0 849.2L1760.0 852.7L1761.7 863.2L1745.9 861.5L1738.9 870.3L1733.6 858.0L1728.3 861.5L1707.3 872.0L1689.7 875.5L1686.2 866.7L1659.8 870.3L1640.5 879.0L1645.8 868.5L1642.3 852.7L1649.3 843.9L1624.7 833.4L1623.0 824.6L1635.2 814.1L1633.5 800.0L1635.7 797.8L1624.2 792.1L1611.5 785.2L1609.2 779.4L1603.5 777.1L1594.3 776.0L1587.4 771.4L1586.2 762.2L1581.6 753.0L1577.0 747.2L1579.3 739.2L1583.9 730.0L1585.1 720.8L1592.0 719.6L1598.9 710.4L1589.7 702.4L1579.3 700.1L1585.1 697.8L1587.4 695.5L1588.5 681.7L1596.6 685.1L1589.7 674.8L1586.2 663.3L1589.7 658.7L1587.4 652.9L1582.8 647.2L1588.5 642.6L1593.1 633.4L1594.3 624.2L1596.6 612.7L1604.6 615.0L1610.4 608.1L1613.8 598.9L1618.4 587.4L1616.1 580.5L1615.0 566.7L1603.5 562.1L1595.4 560.9L1590.8 557.5L1589.7 548.8L1585.1 547.8L1579.3 552.9L1569.0 551.7L1566.7 547.1L1563.2 548.3L1546.0 555.2L1525.3 560.3L1519.5 557.5L1518.4 541.4L1511.5 529.9L1518.1 554.5L1519.1 546.8L1513.3 541.0L1511.4 531.3L1508.5 525.5L1505.6 515.9L1496.9 510.1L1494.0 504.3L1495.9 492.7L1492.0 486.9L1491.1 475.3L1490.1 465.7L1484.3 460.8L1480.4 454.1L1474.7 448.3L1472.7 442.5L1475.6 439.6L1476.6 429.0L1483.3 421.2L1485.3 412.5L1494.0 408.7L1497.8 405.8L1499.8 398.1L1496.9 390.3L1495.9 384.5L1491.1 382.6L1492.0 376.8L1490.1 369.1L1485.3 365.2L1476.6 361.4L1466.9 355.6L1461.1 350.7L1463.1 345.9L1462.1 338.2L1463.1 326.6L1465.0 317.9L1470.8 313.1L1473.7 306.3L1469.8 299.5L1467.9 291.8L1459.2 285.1L1453.4 282.2L1445.7 276.4L1436.0 271.5L1432.2 265.7L1435.1 260.9L1429.3 258.0L1430.2 254.1L1426.4 249.9L1413.8 254.1L1411.9 257.0L1404.1 258.0L1399.3 266.7L1391.6 266.7L1386.8 259.0L1380.0 254.1L1377.8 254.4L1349.6 258.0L1347.9 275.5L1335.6 284.3L1328.6 266.7L1323.3 268.5L1318.0 282.6L1297.0 286.1L1286.4 275.5L1281.1 265.0L1275.9 266.7L1272.4 282.6L1237.2 283.6L1216.2 286.1L1202.1 293.1L1181.0 290.6L1160.0 294.1L1151.2 305.4L1149.4 344.0L1135.4 340.5L1133.6 315.9L1128.3 292.0L1117.8 290.6L1110.8 298.4L1107.3 315.9L1096.7 323.0L1075.6 312.4L1070.4 287.8L1072.1 270.3L1079.2 258.0L1075.6 250.9L1065.1 254.4L1040.5 252.7L1026.5 240.4L1008.9 243.9L984.3 241.5L959.7 245.7L935.1 242.2L921.1 235.1L900.0 232.3L862.1 231.6ZM1847.8 1047.7L1858.3 1051.2L1863.6 1063.5L1858.3 1077.5L1865.3 1088.1L1861.8 1098.6L1854.8 1096.8L1847.8 1088.1L1826.7 1093.3L1821.4 1086.3L1833.7 1074.0L1840.7 1060.0Z"/></clipPath><g clip-path="url(#clipB)"><rect x="300" y="200" width="1800" height="1200" fill="#440154"/><path d="M900.0 200.0L1500.0 200.0L1500.0 800.0L900.0 800.0Z" fill="#21908C" stroke="#21908C" stroke-width="1.5"/><path d="M900.0 800.0L1500.0 800.0L1500.0 1400.0L900.0 1400.0Z" fill="#440154" stroke="#440154" stroke-width="1.5"/><path d="M1500.0 800.0L2100.0 800.0L2100.0 1400.0L1500.0 1400.0Z" fill="#21908C" stroke="#21908C" stroke-width="1.5"/><path d="M1500.0 500.0L2000.0 500.0L2000.0 799.9L1500.0 799.9Z" fill="#21908C" stroke="#21908C" stroke-width="1.5"/><path d="M300.0 800.0L900.0 800.0L900.0 899.9L300.0 899.9Z" fill="#440154" stroke="#440154" stroke-width="1.5"/><path d="M767.2 252.7L798.8 238.6L819.9 219.3L841.0 212.3L849.8 249.2L858.5 280.8L865.6 315.9L865.6 330.0L851.5 342.3L826.9 338.8L805.9 344.0L791.8 324.7L805.9 305.4L795.3 280.8L781.3 263.2Z" fill="#FDE725" stroke="#FDE725" stroke-width="1.5"/><path d="M805.9 259.7L816.4 268.5L826.9 256.2L832.2 261.5L830.4 280.8L842.7 293.1L841.0 307.1L834.0 308.9L826.9 293.1L816.4 287.8L804.1 270.3Z" fill="#21908C" stroke="#21908C" stroke-width="1.5"/><path d="M864.9 233.4L900.0 229.9L900.0 252.7L890.2 266.7L876.1 259.7L866.3 265.0Z" fill="#21908C" stroke="#21908C" stroke-width="1.5"/><path d="M856.8 282.6L876.1 279.0L900.0 301.9L900.0 315.9L893.7 340.5L876.1 354.6L862.1 358.1L869.1 330.0L862.1 301.9Z" fill="#21908C" stroke="#21908C" stroke-width="1.5"/><path d="M739.1 273.8L760.2 284.3L756.7 298.4L747.9 312.4L751.4 323.0L742.6 333.5L739.1 344.0L719.8 321.2L726.8 298.4Z" fill="#21908C" stroke="#21908C" stroke-width="1.5"/><path d="M760.2 293.1L770.7 305.4L763.7 319.4L770.7 337.0L763.7 340.5L749.6 319.4L753.2 305.4Z" fill="#FDE725" stroke="#FDE725" stroke-width="1.5"/><path d="M774.2 294.8L783.0 293.1L781.3 312.4L772.5 323.0L767.2 319.4Z" fill="#21908C" stroke="#21908C" stroke-width="1.5"/><path d="M791.8 324.7L802.3 328.2L811.1 340.5L802.3 344.0L793.6 333.5Z" fill="#21908C" stroke="#21908C" stroke-width="1.5"/><path d="M764.4 347.5L774.2 346.8L774.2 372.1L763.7 372.1Z" fill="#21908C" stroke="#21908C" stroke-width="1.5"/><path d="M653.0 358.1L660.1 379.2L668.9 402.0L637.2 400.2L624.9 391.5L640.7 375.6Z" fill="#FDE725" stroke="#FDE725" stroke-width="1.5"/><path d="M688.2 356.3L707.5 368.6L739.1 375.6L735.6 400.2L726.8 410.8L753.2 428.3L763.7 433.6L758.4 451.2L735.6 435.4L709.3 414.3L704.0 400.2L672.4 402.0L674.1 382.7Z" fill="#21908C" stroke="#21908C" stroke-width="1.5"/><path d="M800.6 368.6L826.9 365.1L835.7 382.7L834.0 410.8L816.4 421.3L802.3 410.8L809.4 396.7L798.8 386.2Z" fill="#21908C" stroke="#21908C" stroke-width="1.5"/><path d="M844.5 361.6L876.1 358.1L876.1 380.9L858.5 382.7L842.7 372.1Z" fill="#21908C" stroke="#21908C" stroke-width="1.5"/><path d="M879.6 359.8L900.0 361.6L900.0 396.7L879.6 410.8L876.1 435.4L862.1 438.9L849.8 424.8L855.0 410.8L872.6 407.3L876.1 382.7Z" fill="#FDE725" stroke="#FDE725" stroke-width="1.5"/><path d="M777.8 403.7L798.8 410.8L816.4 421.3L848.0 428.3L869.1 438.9L879.6 449.4L900.0 445.9L900.0 495.1L879.6 491.6L862.1 481.0L844.5 477.5L819.9 460.0L798.8 445.9L763.7 433.6L770.7 417.8Z" fill="#21908C" stroke="#21908C" stroke-width="1.5"/><path d="M588.1 482.8L602.1 498.6L593.3 516.2L581.0 523.2L581.0 547.8L568.7 540.7L565.2 498.6Z" fill="#21908C" stroke="#21908C" stroke-width="1.5"/><path d="M681.1 442.4L697.0 445.9L689.9 467.0L672.4 481.0L658.3 498.6L646.0 509.1L630.2 507.4L614.4 500.4L619.7 489.8L647.8 481.0L661.8 470.5L679.4 460.0Z" fill="#FDE725" stroke="#FDE725" stroke-width="1.5"/><path d="M721.5 435.4L765.5 458.2L749.6 505.6L732.1 516.2L704.0 551.3L672.4 532.0L677.6 509.1L693.4 491.6L712.8 474.0L709.3 445.9Z" fill="#FDE725" stroke="#FDE725" stroke-width="1.5"/><path d="M689.9 442.4L709.3 440.6L712.8 474.0L693.4 491.6L677.6 509.1L672.4 532.0L642.5 517.9L661.8 502.1L677.6 481.0L689.9 460.0Z" fill="#21908C" stroke="#21908C" stroke-width="1.5"/><path d="M612.6 502.1L639.0 516.2L640.7 540.7L616.2 542.5L609.1 523.2Z" fill="#21908C" stroke="#21908C" stroke-width="1.5"/><path d="M588.1 517.9L602.1 530.2L614.4 532.0L614.4 546.0L598.6 544.3L596.8 554.8L584.5 551.3L579.3 530.2Z" fill="#FDE725" stroke="#FDE725" stroke-width="1.5"/><path d="M640.7 519.7L672.4 532.0L665.3 568.9L658.3 604.0L682.9 611.0L675.9 632.1L665.3 633.8L651.3 621.5L637.2 618.0L642.5 586.4L639.0 551.3Z" fill="#FDE725" stroke="#FDE725" stroke-width="1.5"/><path d="M605.6 565.3L639.0 563.6L642.5 586.4L635.5 611.0L616.2 614.5L598.6 597.0Z" fill="#21908C" stroke="#21908C" stroke-width="1.5"/><path d="M591.6 554.8L605.6 565.3L609.1 577.6L598.6 597.0L600.4 621.5L591.6 642.6L581.0 656.7L574.0 674.2L560.0 683.0L537.1 670.7L552.9 653.2L561.7 621.5L570.5 593.4L581.0 579.4Z" fill="#FDE725" stroke="#FDE725" stroke-width="1.5"/><path d="M774.2 512.6L788.3 510.9L784.8 526.7L770.7 551.3L753.2 565.3L756.7 579.4L746.1 597.0L739.1 618.0L725.1 642.6L714.5 639.1L728.6 614.5L739.1 586.4L740.9 561.8L747.9 539.0L767.2 530.2Z" fill="#FDE725" stroke="#FDE725" stroke-width="1.5"/><path d="M788.3 523.2L797.1 530.2L791.8 547.8L770.7 565.3L763.7 582.9L774.2 586.4L770.7 611.0L788.3 635.6L784.8 646.1L756.7 660.2L746.1 653.2L753.2 632.1L742.6 621.5L753.2 586.4L756.7 568.9L770.7 551.3L784.8 530.2Z" fill="#21908C" stroke="#21908C" stroke-width="1.5"/><path d="M841.0 537.2L849.8 558.3L842.7 575.9L826.9 591.7L805.9 575.9L816.4 565.3L830.4 561.8Z" fill="#FDE725" stroke="#FDE725" stroke-width="1.5"/><path d="M781.3 589.9L802.3 600.5L811.1 614.5L805.9 635.6L791.8 639.1L770.7 614.5Z" fill="#FDE725" stroke="#FDE725" stroke-width="1.5"/><path d="M858.5 579.4L879.6 565.3L900.0 582.9L900.0 616.3L876.1 614.5L851.5 604.0Z" fill="#21908C" stroke="#21908C" stroke-width="1.5"/><path d="M893.7 516.2L900.0 509.1L900.0 582.9L879.6 586.4L883.1 551.3Z" fill="#FDE725" stroke="#FDE725" stroke-width="1.5"/><path d="M876.1 621.5L900.0 632.1L900.0 653.2L879.6 656.7L876.1 681.3L862.1 697.1L841.0 698.8L834.0 686.5L848.0 677.8L855.0 653.2L865.6 649.6Z" fill="#FDE725" stroke="#FDE725" stroke-width="1.5"/><path d="M749.6 670.7L791.8 686.5L830.4 705.9L841.0 698.8L862.1 697.1L876.1 681.3L879.6 656.7L900.0 653.2L900.0 723.4L869.1 719.9L848.0 726.9L841.0 748.0L805.9 748.0L798.8 765.6L770.7 776.1L760.2 800.0L714.5 800.0L721.5 762.1L735.6 719.9L742.6 691.8Z" fill="#21908C" stroke="#21908C" stroke-width="1.5"/><path d="M697.0 618.0L711.0 625.1L719.8 642.6L707.5 653.2L689.9 639.1L688.2 626.8Z" fill="#21908C" stroke="#21908C" stroke-width="1.5"/><path d="M707.5 653.2L749.6 672.5L739.1 705.9L728.6 741.0L718.0 776.1L711.0 793.7L684.7 790.2L693.4 755.0L689.9 719.9L700.5 684.8Z" fill="#FDE725" stroke="#FDE725" stroke-width="1.5"/><path d="M600.4 604.0L616.2 616.3L637.2 618.0L651.3 621.5L665.3 633.8L668.9 656.7L654.8 670.7L651.3 684.8L679.4 691.8L686.4 719.9L693.4 748.0L686.4 769.1L679.4 800.0L626.7 800.0L630.2 762.1L616.2 744.5L595.1 758.5L581.0 758.5L588.1 719.9L567.0 716.4L560.0 683.0L574.0 674.2L581.0 656.7L591.6 642.6Z" fill="#21908C" stroke="#21908C" stroke-width="1.5"/><path d="M637.2 676.0L658.3 683.0L647.8 705.9L640.7 726.9L616.2 742.7L619.7 709.4Z" fill="#FDE725" stroke="#FDE725" stroke-width="1.5"/><path d="M617.9 616.3L635.5 614.5L630.2 635.6L623.2 653.2L617.9 667.2L607.4 646.1Z" fill="#FDE725" stroke="#FDE725" stroke-width="1.5"/><path d="M665.3 633.8L674.1 639.1L668.9 667.2L658.3 688.3L651.3 716.4L642.5 741.0L630.2 748.0L633.7 726.9L646.0 705.9L651.3 684.8L654.8 670.7L665.3 656.7Z" fill="#440154" stroke="#440154" stroke-width="1.5"/><path d="M686.4 646.1L704.0 653.2L697.0 688.3L689.9 698.8L686.4 734.0L672.4 716.4L679.4 691.8L681.1 667.2Z" fill="#440154" stroke="#440154" stroke-width="1.5"/><path d="M415.9 748.0L405.4 776.1L415.9 783.1L401.9 800.0L338.6 800.0L370.3 776.1Z" fill="#21908C" stroke="#21908C" stroke-width="1.5"/><path d="M900.0 232.3L921.1 235.1L935.1 242.2L959.7 245.7L984.3 241.5L1010.7 243.9L1019.4 270.3L1008.9 282.6L998.4 294.8L1005.4 315.9L994.8 333.5L970.3 351.1L958.0 368.6L949.2 375.6L947.4 356.3L961.5 347.5L952.7 335.2L935.1 323.0L926.3 301.9L917.6 315.9L926.3 340.5L917.6 354.6L900.0 358.1Z" fill="#440154" stroke="#440154" stroke-width="1.5"/><path d="M972.0 274.5L998.4 293.1L984.3 305.4L970.3 317.7L966.7 305.4Z" fill="#FDE725" stroke="#FDE725" stroke-width="1.5"/><path d="M1001.9 296.6L1033.5 308.9L1054.6 305.4L1072.1 321.2L1089.7 323.0L1110.8 317.7L1112.5 347.5L1102.0 356.3L1089.7 358.1L1096.7 375.6L1102.0 389.7L1107.3 414.3L1096.7 431.9L1075.6 442.4L1077.4 424.8L1073.9 402.0L1061.6 391.5L1047.5 368.6L1033.5 361.6L1019.4 340.5L1005.4 319.4Z" fill="#440154" stroke="#440154" stroke-width="1.5"/><path d="M1109.0 347.5L1124.8 365.1L1128.3 391.5L1117.8 393.2L1096.7 375.6L1087.9 359.8Z" fill="#FDE725" stroke="#FDE725" stroke-width="1.5"/><path d="M910.5 368.6L935.1 379.2L949.2 377.4L966.7 386.2L991.3 396.7L1005.4 410.8L1001.9 424.8L987.8 438.9L966.7 435.4L949.2 445.9L935.1 452.9L917.6 468.7L900.0 467.0L900.0 417.8L908.8 396.7Z" fill="#440154" stroke="#440154" stroke-width="1.5"/><path d="M965.0 400.2L977.3 410.8L975.5 430.1L956.2 428.3L952.7 414.3Z" fill="#21908C" stroke="#21908C" stroke-width="1.5"/><path d="M1030.0 461.7L1040.5 467.0L1035.2 491.6L1030.0 505.6L1017.7 498.6L1019.4 477.5Z" fill="#440154" stroke="#440154" stroke-width="1.5"/><path d="M984.3 498.6L998.4 500.4L1015.9 495.1L1023.0 509.1L1012.4 533.7L1005.4 547.8L987.8 540.7L963.2 524.9L972.0 512.6Z" fill="#440154" stroke="#440154" stroke-width="1.5"/><path d="M1056.3 502.1L1082.7 496.8L1100.2 509.1L1114.3 519.7L1107.3 526.7L1089.7 537.2L1068.6 523.2L1052.8 509.1Z" fill="#440154" stroke="#440154" stroke-width="1.5"/><path d="M994.8 546.0L1012.4 551.3L1026.5 565.3L1040.5 586.4L1054.6 584.7L1066.9 597.0L1065.1 611.0L1051.1 618.0L1044.0 635.6L1033.5 639.1L1019.4 653.2L1005.4 653.2L984.3 663.7L970.3 660.2L975.5 639.1L998.4 621.5L1015.9 611.0L1019.4 597.0L1005.4 579.4L994.8 561.8Z" fill="#440154" stroke="#440154" stroke-width="1.5"/><path d="M900.0 616.3L935.1 619.8L959.7 628.6L975.5 639.1L970.3 660.2L984.3 663.7L982.6 691.8L970.3 674.2L942.2 670.7L921.1 653.2L900.0 632.1Z" fill="#440154" stroke="#440154" stroke-width="1.5"/><path d="M984.3 663.7L1005.4 653.2L1019.4 653.2L1033.5 639.1L1044.0 635.6L1054.6 646.1L1075.6 644.4L1080.9 656.7L1079.2 691.8L1065.1 686.5L1054.6 702.3L1040.5 726.9L1044.0 748.0L1033.5 748.0L1019.4 726.9L1015.9 709.4L994.8 691.8L982.6 691.8Z" fill="#440154" stroke="#440154" stroke-width="1.5"/><path d="M966.7 704.1L980.8 726.9L984.3 748.0L970.3 758.5L956.2 758.5L959.7 726.9L954.4 716.4Z" fill="#440154" stroke="#440154" stroke-width="1.5"/><path d="M1117.8 626.8L1138.9 618.0L1160.0 611.0L1177.5 621.5L1191.6 604.0L1223.2 604.0L1228.5 621.5L1237.2 625.1L1216.2 642.6L1198.6 647.9L1198.6 663.7L1181.0 681.3L1160.0 686.5L1152.9 705.9L1128.3 728.7L1114.3 709.4L1103.7 688.3L1107.3 670.7L1100.2 653.2L1103.7 635.6Z" fill="#440154" stroke="#440154" stroke-width="1.5"/><path d="M1142.4 551.3L1160.0 558.3L1181.0 561.8L1191.6 582.9L1209.1 589.9L1210.9 604.0L1191.6 604.0L1177.5 621.5L1160.0 611.0L1138.9 618.0L1135.4 593.4L1130.1 568.9Z" fill="#440154" stroke="#440154" stroke-width="1.5"/><path d="M1205.6 291.3L1223.2 284.3L1251.3 289.6L1272.4 301.9L1293.4 305.4L1286.4 340.5L1272.4 358.1L1254.8 368.6L1258.3 396.7L1272.4 414.3L1272.4 428.3L1251.3 435.4L1237.2 428.3L1216.2 428.3L1205.6 438.9L1209.1 460.0L1195.1 467.0L1181.0 481.0L1170.5 467.0L1177.5 438.9L1152.9 431.9L1170.5 410.8L1160.0 389.7L1160.0 368.6L1149.4 351.1L1167.0 338.8L1198.6 330.0L1223.2 321.2L1216.2 305.4Z" fill="#440154" stroke="#440154" stroke-width="1.5"/><path d="M1142.4 452.9L1156.4 470.5L1145.9 481.0L1137.1 474.0Z" fill="#440154" stroke="#440154" stroke-width="1.5"/><path d="M1170.5 493.3L1186.3 517.9L1167.0 516.2L1158.2 505.6Z" fill="#440154" stroke="#440154" stroke-width="1.5"/><path d="M1291.7 445.9L1318.0 451.2L1335.6 445.9L1326.8 467.0L1321.5 484.5L1300.5 491.6L1297.0 467.0Z" fill="#440154" stroke="#440154" stroke-width="1.5"/><path d="M1235.5 481.0L1258.3 482.8L1247.8 489.8Z" fill="#440154" stroke="#440154" stroke-width="1.5"/><path d="M1291.7 505.6L1307.5 512.6L1335.6 510.9L1346.1 491.6L1356.7 484.5L1384.8 495.1L1391.8 502.1L1412.9 509.1L1405.9 523.2L1391.8 530.2L1388.3 547.8L1363.7 558.3L1349.6 544.3L1328.6 537.2L1318.0 523.2L1297.0 516.2Z" fill="#440154" stroke="#440154" stroke-width="1.5"/><path d="M1233.7 575.9L1254.8 577.6L1275.9 572.4L1297.0 561.8L1307.5 558.3L1321.5 537.2L1339.1 547.8L1346.1 572.4L1335.6 597.0L1328.6 589.9L1311.0 572.4L1289.9 600.5L1275.9 582.9L1251.3 586.4L1237.2 582.9Z" fill="#440154" stroke="#440154" stroke-width="1.5"/><path d="M1367.2 382.7L1384.8 396.7L1398.8 407.3L1388.3 431.9L1370.7 417.8L1358.4 407.3Z" fill="#440154" stroke="#440154" stroke-width="1.5"/><path d="M1351.4 258.0L1377.8 254.4L1402.3 265.0L1426.9 250.9L1441.0 270.3L1455.0 286.1L1419.9 287.8L1405.9 286.1L1374.2 289.6L1367.2 273.8L1349.6 272.0Z" fill="#440154" stroke="#440154" stroke-width="1.5"/><path d="M1423.4 321.2L1462.1 315.9L1463.8 347.5L1430.4 354.6L1418.1 347.5Z" fill="#440154" stroke="#440154" stroke-width="1.5"/><path d="M1458.5 375.6L1490.2 373.9L1483.1 386.2L1476.1 396.7L1479.6 414.3L1476.1 435.4L1455.0 438.9L1451.5 424.8L1434.0 417.8L1448.0 403.7L1453.3 386.2Z" fill="#440154" stroke="#440154" stroke-width="1.5"/><path d="M1448.0 493.3L1465.6 498.6L1476.1 523.2L1469.1 551.3L1462.1 568.9L1455.0 589.9L1441.0 600.5L1434.0 579.4L1441.0 554.8L1448.0 537.2L1444.5 516.2L1426.9 509.1Z" fill="#440154" stroke="#440154" stroke-width="1.5"/><path d="M1353.2 598.7L1360.2 614.5L1370.7 621.5L1367.2 653.2L1374.2 684.8L1356.7 705.9L1335.6 698.8L1311.0 691.8L1321.5 684.8L1335.6 656.7L1332.1 625.1L1311.0 632.1L1297.0 621.5L1339.1 614.5Z" fill="#440154" stroke="#440154" stroke-width="1.5"/><path d="M1377.8 688.3L1398.8 695.3L1409.4 712.9L1381.3 726.9L1367.2 709.4Z" fill="#440154" stroke="#440154" stroke-width="1.5"/><path d="M1462.1 630.3L1479.6 635.6L1486.7 674.2L1465.6 676.0L1455.0 649.6Z" fill="#440154" stroke="#440154" stroke-width="1.5"/><path d="M1441.0 704.1L1481.4 702.3L1476.1 726.9L1441.0 739.2L1425.2 723.4Z" fill="#440154" stroke="#440154" stroke-width="1.5"/><path d="M1167.0 705.9L1181.0 719.9L1170.5 730.4L1158.2 716.4Z" fill="#440154" stroke="#440154" stroke-width="1.5"/><path d="M935.1 762.1L952.7 765.6L970.3 762.1L991.3 762.1L1012.4 779.6L1005.4 800.0L931.6 800.0L921.1 779.6Z" fill="#440154" stroke="#440154" stroke-width="1.5"/><path d="M900.0 748.0L910.5 762.1L914.1 800.0L900.0 800.0Z" fill="#440154" stroke="#440154" stroke-width="1.5"/><path d="M1068.6 758.5L1086.2 748.0L1103.7 762.1L1124.8 769.1L1142.4 755.0L1154.7 769.1L1156.4 800.0L1075.6 800.0Z" fill="#440154" stroke="#440154" stroke-width="1.5"/><path d="M1230.2 758.5L1246.0 776.1L1251.3 800.0L1226.7 800.0L1223.2 776.1Z" fill="#440154" stroke="#440154" stroke-width="1.5"/><path d="M1272.4 776.1L1286.4 769.1L1304.0 772.6L1314.5 800.0L1268.9 800.0Z" fill="#440154" stroke="#440154" stroke-width="1.5"/><path d="M1372.5 756.8L1384.8 762.1L1391.8 790.2L1388.3 800.0L1367.2 800.0L1367.2 776.1Z" fill="#440154" stroke="#440154" stroke-width="1.5"/><path d="M1412.9 786.7L1426.9 783.1L1426.9 800.0L1405.9 800.0Z" fill="#440154" stroke="#440154" stroke-width="1.5"/><path d="M1483.1 748.0L1500.0 748.0L1500.0 800.0L1462.1 800.0L1479.6 779.6Z" fill="#440154" stroke="#440154" stroke-width="1.5"/><path d="M1040.5 287.8L1068.6 284.3L1075.6 312.4L1068.6 321.2L1054.6 305.4L1040.5 301.9Z" fill="#FDE725" stroke="#FDE725" stroke-width="1.5"/><path d="M1158.2 294.8L1181.0 290.6L1202.1 293.1L1216.2 305.4L1223.2 321.2L1198.6 330.0L1167.0 338.8L1152.9 340.5L1151.2 312.4Z" fill="#FDE725" stroke="#FDE725" stroke-width="1.5"/><path d="M1030.0 365.1L1047.5 375.6L1061.6 396.7L1054.6 410.8L1040.5 407.3L1033.5 389.7L1023.0 382.7Z" fill="#FDE725" stroke="#FDE725" stroke-width="1.5"/><path d="M1001.9 424.8L1019.4 417.8L1040.5 414.3L1044.0 438.9L1030.0 445.9L1019.4 460.0L1015.9 477.5L998.4 498.6L984.3 498.6L972.0 512.6L963.2 524.9L935.1 516.2L945.7 488.1L963.2 467.0L987.8 460.0L987.8 438.9Z" fill="#FDE725" stroke="#FDE725" stroke-width="1.5"/><path d="M1008.9 442.4L1019.4 445.9L1023.0 467.0L1012.4 474.0L1005.4 456.4Z" fill="#21908C" stroke="#21908C" stroke-width="1.5"/><path d="M1040.5 467.0L1058.1 463.5L1068.6 474.0L1082.7 463.5L1103.7 488.1L1100.2 502.1L1082.7 496.8L1056.3 502.1L1040.5 509.1L1035.2 491.6Z" fill="#FDE725" stroke="#FDE725" stroke-width="1.5"/><path d="M900.0 502.1L917.6 516.2L935.1 516.2L963.2 524.9L987.8 540.7L991.3 551.3L984.3 572.4L966.7 586.4L963.2 607.5L945.7 618.0L924.6 614.5L910.5 607.5L917.6 593.4L900.0 582.9Z" fill="#FDE725" stroke="#FDE725" stroke-width="1.5"/><path d="M1021.2 521.4L1040.5 533.7L1051.1 547.8L1040.5 561.8L1023.0 563.6L1012.4 547.8Z" fill="#FDE725" stroke="#FDE725" stroke-width="1.5"/><path d="M1216.2 428.3L1237.2 428.3L1251.3 435.4L1272.4 430.1L1282.9 442.4L1265.3 456.4L1251.3 460.0L1247.8 481.0L1230.2 491.6L1209.1 481.0L1198.6 467.0L1209.1 460.0L1205.6 438.9Z" fill="#FDE725" stroke="#FDE725" stroke-width="1.5"/><path d="M1160.0 481.0L1172.2 491.6L1158.2 505.6L1145.9 516.2L1142.4 530.2L1128.3 526.7L1142.4 505.6L1145.9 491.6Z" fill="#FDE725" stroke="#FDE725" stroke-width="1.5"/><path d="M1181.0 481.0L1198.6 470.5L1230.2 491.6L1251.3 491.6L1254.8 502.1L1240.7 509.1L1240.7 537.2L1258.3 540.7L1261.8 558.3L1268.9 572.4L1233.7 575.9L1209.1 581.1L1198.6 586.4L1184.5 568.9L1184.5 554.8L1205.6 547.8L1209.1 530.2L1198.6 516.2L1188.1 498.6Z" fill="#FDE725" stroke="#FDE725" stroke-width="1.5"/><path d="M1212.6 488.1L1228.5 486.3L1230.2 505.6L1219.7 509.1L1209.1 498.6Z" fill="#21908C" stroke="#21908C" stroke-width="1.5"/><path d="M1054.6 607.5L1072.1 604.0L1075.6 621.5L1065.1 642.6L1051.1 646.1L1044.0 628.6Z" fill="#FDE725" stroke="#FDE725" stroke-width="1.5"/><path d="M1058.1 649.6L1075.6 653.2L1072.1 667.2L1054.6 670.7Z" fill="#FDE725" stroke="#FDE725" stroke-width="1.5"/><path d="M1086.2 609.3L1100.2 611.0L1107.3 628.6L1100.2 653.2L1103.7 688.3L1089.7 695.3L1080.9 684.8L1082.7 653.2L1089.7 628.6Z" fill="#FDE725" stroke="#FDE725" stroke-width="1.5"/><path d="M970.3 660.2L982.6 670.7L984.3 691.8L970.3 686.5L958.0 674.2Z" fill="#FDE725" stroke="#FDE725" stroke-width="1.5"/><path d="M1351.4 273.8L1367.2 273.8L1374.2 289.6L1360.2 308.9L1391.8 315.9L1423.4 323.0L1418.1 347.5L1419.9 358.1L1402.3 368.6L1391.8 361.6L1370.7 382.7L1349.6 395.0L1339.1 382.7L1314.5 386.2L1300.5 365.1L1321.5 368.6L1339.1 351.1L1335.6 340.5L1318.0 333.5L1335.6 312.4L1346.1 294.8Z" fill="#FDE725" stroke="#FDE725" stroke-width="1.5"/><path d="M1384.8 458.2L1398.8 463.5L1416.4 481.0L1419.9 491.6L1398.8 502.1L1388.3 495.1L1390.0 477.5L1379.5 467.0Z" fill="#FDE725" stroke="#FDE725" stroke-width="1.5"/><path d="M1483.1 386.2L1500.0 391.5L1500.0 407.3L1490.2 410.8L1472.6 400.2Z" fill="#FDE725" stroke="#FDE725" stroke-width="1.5"/><path d="M1476.1 467.0L1493.7 463.5L1500.0 481.0L1500.0 579.4L1476.1 568.9L1479.6 551.3L1476.1 523.2L1483.1 498.6Z" fill="#FDE725" stroke="#FDE725" stroke-width="1.5"/><path d="M1291.7 609.3L1314.5 602.2L1339.1 614.5L1311.0 621.5L1297.0 619.8Z" fill="#FDE725" stroke="#FDE725" stroke-width="1.5"/><path d="M1196.8 649.6L1230.2 647.9L1272.4 653.2L1268.9 670.7L1272.4 691.8L1279.4 712.9L1314.5 705.9L1321.5 698.8L1346.1 726.9L1335.6 751.5L1339.1 776.1L1314.5 783.1L1304.0 772.6L1286.4 769.1L1272.4 776.1L1265.3 748.0L1265.3 734.0L1254.8 705.9L1237.2 691.8L1216.2 684.8L1198.6 667.2Z" fill="#FDE725" stroke="#FDE725" stroke-width="1.5"/><path d="M1374.2 623.3L1391.8 626.8L1416.4 639.1L1441.0 632.1L1455.0 639.1L1455.0 649.6L1465.6 676.0L1500.0 677.8L1500.0 702.3L1481.4 702.3L1441.0 704.1L1412.9 698.8L1391.8 688.3L1374.2 684.8L1367.2 653.2L1370.7 639.1Z" fill="#FDE725" stroke="#FDE725" stroke-width="1.5"/><path d="M1402.3 737.5L1426.9 734.0L1430.4 762.1L1423.4 783.1L1412.9 786.7L1405.9 800.0L1391.8 800.0L1391.8 790.2L1384.8 762.1L1372.5 756.8Z" fill="#FDE725" stroke="#FDE725" stroke-width="1.5"/><path d="M1040.5 762.1L1061.6 758.5L1072.1 776.1L1075.6 800.0L1012.4 800.0L1015.9 779.6Z" fill="#FDE725" stroke="#FDE725" stroke-width="1.5"/><path d="M1430.4 783.1L1448.0 779.6L1462.1 800.0L1423.4 800.0Z" fill="#FDE725" stroke="#FDE725" stroke-width="1.5"/><path d="M900.0 800.0L952.7 800.0L952.7 821.1L965.0 842.2L952.7 859.7L952.7 875.5L938.6 884.3L924.6 873.8L900.0 880.8L900.0 831.6L910.5 828.1L907.0 810.5Z" fill="#21908C" stroke="#21908C" stroke-width="1.5"/><path d="M900.0 833.4L914.1 828.1L928.1 845.7L922.8 870.3L900.0 882.6Z" fill="#FDE725" stroke="#FDE725" stroke-width="1.5"/><path d="M1037.0 807.0L1054.6 800.0L1065.1 817.6L1054.6 838.6L1031.7 833.4Z" fill="#21908C" stroke="#21908C" stroke-width="1.5"/><path d="M975.5 887.8L993.1 884.3L994.8 915.9L984.3 924.7L966.7 905.4Z" fill="#21908C" stroke="#21908C" stroke-width="1.5"/><path d="M1040.5 873.8L1068.6 870.3L1072.1 887.8L1054.6 894.8L1040.5 891.3Z" fill="#21908C" stroke="#21908C" stroke-width="1.5"/><path d="M1131.9 859.7L1160.0 863.2L1174.0 884.3L1177.5 919.4L1170.5 954.6L1142.4 956.3L1128.3 968.6L1145.9 1000.2L1160.0 1021.3L1142.4 1028.3L1121.3 1038.9L1103.7 1031.9L1098.5 996.7L1089.7 975.6L1086.2 954.6L1054.6 951.1L1047.5 933.5L1023.0 926.5L1044.0 908.9L1065.1 919.4L1082.7 923.0L1082.7 898.4L1096.7 884.3L1124.8 873.8Z" fill="#21908C" stroke="#21908C" stroke-width="1.5"/><path d="M1103.7 915.9L1131.9 913.1L1128.3 949.3L1100.2 949.3Z" fill="#FDE725" stroke="#FDE725" stroke-width="1.5"/><path d="M1237.2 838.6L1251.3 817.6L1272.4 810.5L1268.9 838.6L1272.4 863.2L1265.3 887.8L1240.7 894.8L1232.0 912.4L1202.1 901.9L1174.0 884.3L1160.0 877.3L1163.5 866.7L1212.6 863.2L1216.2 856.2Z" fill="#21908C" stroke="#21908C" stroke-width="1.5"/><path d="M1304.0 859.7L1321.5 870.3L1360.2 868.5L1360.2 905.4L1367.2 937.0L1335.6 951.1L1318.0 944.0L1297.0 951.1L1282.9 940.5L1297.0 912.4L1297.0 884.3Z" fill="#21908C" stroke="#21908C" stroke-width="1.5"/><path d="M1265.3 951.1L1286.4 958.1L1300.5 954.6L1314.5 975.6L1297.0 986.2L1282.9 996.7L1265.3 986.2L1251.3 965.1Z" fill="#21908C" stroke="#21908C" stroke-width="1.5"/><path d="M1426.9 835.1L1451.5 828.1L1476.1 831.6L1500.0 824.6L1500.0 856.2L1479.6 870.3L1476.1 891.3L1455.0 894.8L1441.0 870.3L1419.9 859.7Z" fill="#21908C" stroke="#21908C" stroke-width="1.5"/><path d="M1398.8 919.4L1434.0 915.9L1448.0 933.5L1483.1 940.5L1497.2 958.1L1483.1 982.7L1458.5 986.2L1462.1 1010.8L1448.0 1028.3L1426.9 1038.9L1405.9 1045.9L1391.8 1028.3L1384.8 1028.3L1409.4 1010.8L1412.9 996.7L1405.9 975.6L1412.9 965.1L1391.8 954.6L1370.7 954.6L1374.2 944.0L1391.8 940.5Z" fill="#21908C" stroke="#21908C" stroke-width="1.5"/><path d="M1458.5 986.2L1483.1 984.4L1490.2 1010.8L1476.1 1024.8L1465.6 1021.3L1476.1 1003.7L1462.1 996.7Z" fill="#FDE725" stroke="#FDE725" stroke-width="1.5"/><path d="M1423.4 1009.0L1451.5 1005.5L1462.1 1021.3L1441.0 1028.3L1426.9 1024.8Z" fill="#440154" stroke="#440154" stroke-width="1.5"/><path d="M1455.0 1028.3L1479.6 1024.8L1500.0 1031.9L1500.0 1081.0L1483.1 1091.6L1479.6 1109.1L1455.0 1109.1L1446.3 1095.1L1458.5 1077.5L1469.1 1067.0L1458.5 1045.9Z" fill="#21908C" stroke="#21908C" stroke-width="1.5"/><path d="M1174.0 1024.8L1205.6 1014.3L1223.2 1010.8L1233.7 1031.9L1247.8 1045.9L1251.3 1017.8L1286.4 1000.2L1314.5 986.2L1332.1 989.7L1339.1 1010.8L1342.6 1024.8L1353.2 1045.9L1335.6 1052.9L1314.5 1056.4L1286.4 1077.5L1300.5 1109.1L1325.1 1116.2L1335.6 1130.2L1314.5 1137.2L1300.5 1147.8L1282.9 1161.8L1268.9 1158.3L1265.3 1123.2L1247.8 1123.2L1240.7 1144.3L1223.2 1133.7L1212.6 1116.2L1214.4 1102.1L1202.1 1091.6L1181.0 1074.0L1181.0 1045.9Z" fill="#21908C" stroke="#21908C" stroke-width="1.5"/><path d="M1082.7 1045.9L1103.7 1042.4L1121.3 1042.4L1135.4 1060.0L1124.8 1077.5L1128.3 1098.6L1110.8 1116.2L1103.7 1130.2L1091.5 1116.2L1086.2 1098.6L1065.1 1070.5L1068.6 1052.9Z" fill="#21908C" stroke="#21908C" stroke-width="1.5"/><path d="M1300.5 1151.3L1314.5 1137.2L1335.6 1130.2L1367.2 1133.7L1381.3 1119.7L1416.4 1116.2L1425.2 1130.2L1409.4 1151.3L1409.4 1179.4L1391.8 1182.9L1360.2 1182.9L1356.7 1197.0L1321.5 1214.5L1321.5 1186.4L1304.0 1172.4Z" fill="#21908C" stroke="#21908C" stroke-width="1.5"/><path d="M1110.8 1165.3L1107.3 1175.9L1124.8 1186.4L1131.9 1214.5L1152.9 1228.6L1170.5 1225.1L1181.0 1242.6L1170.5 1249.6L1145.9 1247.9L1121.3 1244.4L1100.2 1251.4L1096.7 1221.5L1103.7 1207.5L1089.7 1197.0L1080.9 1193.4L1096.7 1172.4Z" fill="#21908C" stroke="#21908C" stroke-width="1.5"/><path d="M1300.5 1233.8L1328.6 1230.3L1339.1 1242.6L1332.1 1267.2L1339.1 1286.5L1318.0 1288.3L1319.8 1309.4L1297.0 1314.6L1281.1 1302.3L1297.0 1284.8L1300.5 1267.2L1314.5 1256.7Z" fill="#21908C" stroke="#21908C" stroke-width="1.5"/><path d="M1483.1 1154.8L1500.0 1147.8L1500.0 1182.9L1474.4 1182.9Z" fill="#21908C" stroke="#21908C" stroke-width="1.5"/><path d="M1040.5 1009.0L1061.6 1007.3L1079.2 1031.9L1089.7 1035.4L1068.6 1045.9L1054.6 1028.3Z" fill="#21908C" stroke="#21908C" stroke-width="1.5"/><path d="M1056.3 847.4L1075.6 842.2L1093.2 836.9L1095.0 856.2L1086.2 870.3L1093.2 880.8L1082.7 898.4L1080.9 921.2L1065.1 919.4L1054.6 905.4L1058.1 891.3L1072.1 884.3L1068.6 870.3L1056.3 870.3Z" fill="#FDE725" stroke="#FDE725" stroke-width="1.5"/><path d="M1175.8 845.7L1191.6 850.9L1202.1 847.4L1210.9 863.2L1181.0 866.7L1170.5 859.7Z" fill="#FDE725" stroke="#FDE725" stroke-width="1.5"/><path d="M1314.5 800.0L1363.7 800.0L1365.5 817.6L1360.2 824.6L1342.6 824.6L1311.0 817.6Z" fill="#FDE725" stroke="#FDE725" stroke-width="1.5"/><path d="M1409.4 800.0L1425.2 800.0L1419.9 824.6L1414.6 833.4Z" fill="#FDE725" stroke="#FDE725" stroke-width="1.5"/><path d="M1363.7 905.4L1372.5 912.4L1384.8 933.5L1374.2 944.0L1361.9 940.5Z" fill="#FDE725" stroke="#FDE725" stroke-width="1.5"/><path d="M1314.5 944.0L1333.8 954.6L1325.1 972.1L1311.0 975.6L1298.7 954.6Z" fill="#FDE725" stroke="#FDE725" stroke-width="1.5"/><path d="M1063.3 982.7L1086.2 982.7L1096.7 1003.7L1103.7 1024.8L1096.7 1033.6L1079.2 1031.9L1072.1 1017.8L1061.6 1000.2Z" fill="#FDE725" stroke="#FDE725" stroke-width="1.5"/><path d="M1121.3 1038.9L1142.4 1028.3L1160.0 1021.3L1174.0 1031.9L1181.0 1045.9L1181.0 1074.0L1202.1 1091.6L1214.4 1102.1L1212.6 1116.2L1223.2 1133.7L1240.7 1144.3L1247.8 1123.2L1265.3 1123.2L1268.9 1158.3L1251.3 1165.3L1233.7 1165.3L1216.2 1168.9L1209.1 1179.4L1226.7 1186.4L1216.2 1200.5L1198.6 1204.0L1181.0 1221.5L1152.9 1230.3L1131.9 1214.5L1124.8 1186.4L1107.3 1175.9L1110.8 1165.3L1096.7 1168.9L1082.7 1172.4L1072.1 1165.3L1061.6 1151.3L1061.6 1137.2L1040.5 1116.2L1023.0 1091.6L1010.7 1074.0L1030.0 1061.7L1054.6 1056.4L1065.1 1070.5L1086.2 1098.6L1091.5 1116.2L1103.7 1130.2L1110.8 1116.2L1128.3 1098.6L1124.8 1077.5L1135.4 1060.0Z" fill="#FDE725" stroke="#FDE725" stroke-width="1.5"/><path d="M1268.9 1158.3L1282.9 1161.8L1300.5 1151.3L1304.0 1172.4L1321.5 1186.4L1321.5 1214.5L1307.5 1232.1L1297.0 1242.6L1279.4 1253.2L1265.3 1263.7L1261.8 1277.8L1251.3 1270.7L1233.7 1242.6L1244.3 1221.5L1251.3 1204.0L1254.8 1179.4L1251.3 1165.3Z" fill="#FDE725" stroke="#FDE725" stroke-width="1.5"/><path d="M1286.4 1077.5L1314.5 1056.4L1335.6 1052.9L1353.2 1060.0L1353.2 1045.9L1342.6 1024.8L1353.2 1017.8L1370.7 1010.8L1391.8 993.2L1409.4 996.7L1411.1 1010.8L1391.8 1028.3L1384.8 1031.9L1395.3 1052.9L1405.9 1074.0L1398.8 1095.1L1381.3 1105.6L1363.7 1098.6L1349.6 1109.1L1335.6 1130.2L1325.1 1116.2L1300.5 1109.1Z" fill="#FDE725" stroke="#FDE725" stroke-width="1.5"/><path d="M1483.1 1091.6L1500.0 1081.0L1500.0 1109.1L1479.6 1105.6Z" fill="#FDE725" stroke="#FDE725" stroke-width="1.5"/><path d="M1500.0 800.0L1633.5 800.0L1635.2 814.1L1623.0 824.6L1624.7 833.4L1649.3 843.9L1642.3 852.7L1645.8 868.5L1640.5 879.0L1626.5 863.2L1615.9 859.7L1594.8 861.5L1580.8 880.8L1570.3 898.4L1559.7 919.4L1556.2 947.5L1552.7 965.1L1538.6 968.6L1535.1 961.6L1514.1 965.1L1500.0 954.6Z" fill="#440154" stroke="#440154" stroke-width="1.5"/><path d="M1510.5 803.5L1521.1 800.0L1545.7 800.0L1538.6 817.6L1528.1 824.6L1517.6 817.6Z" fill="#FDE725" stroke="#FDE725" stroke-width="1.5"/><path d="M1568.5 800.0L1596.6 800.0L1593.1 815.8L1577.3 821.1L1568.5 810.5Z" fill="#FDE725" stroke="#FDE725" stroke-width="1.5"/><path d="M1531.6 829.9L1542.2 828.1L1552.7 856.2L1545.7 859.7L1535.1 845.7Z" fill="#21908C" stroke="#21908C" stroke-width="1.5"/><path d="M1524.6 875.5L1542.2 880.8L1535.1 891.3L1538.6 905.4L1524.6 917.7L1514.1 905.4L1507.0 894.8Z" fill="#FDE725" stroke="#FDE725" stroke-width="1.5"/><path d="M1515.8 900.1L1533.4 896.6L1535.1 907.1L1521.1 910.7Z" fill="#21908C" stroke="#21908C" stroke-width="1.5"/><path d="M1514.1 968.6L1533.4 963.3L1538.6 972.1L1524.6 986.2L1512.3 982.7Z" fill="#FDE725" stroke="#FDE725" stroke-width="1.5"/><path d="M1556.2 979.2L1584.3 982.7L1605.4 972.1L1608.9 996.7L1605.4 1024.8L1591.3 1045.9L1594.8 1074.0L1598.4 1098.6L1594.8 1105.6L1566.7 1102.1L1558.0 1088.1L1563.2 1067.0L1565.0 1045.9L1542.2 1038.9L1535.1 1052.9L1521.1 1063.5L1507.0 1031.9L1524.6 1024.8L1531.6 1010.8L1529.9 1000.2L1549.2 996.7Z" fill="#440154" stroke="#440154" stroke-width="1.5"/><path d="M1608.9 996.7L1640.5 996.7L1663.3 1000.2L1665.1 1024.8L1654.6 1045.9L1651.1 1052.9L1640.5 1045.9L1637.0 1028.3L1619.4 1024.8L1605.4 1024.8Z" fill="#440154" stroke="#440154" stroke-width="1.5"/><path d="M1689.7 963.3L1700.2 982.7L1717.8 993.2L1724.8 979.2L1745.9 972.1L1760.0 968.6L1763.5 986.2L1760.0 1000.2L1767.0 1017.8L1775.8 1028.3L1752.9 1045.9L1742.4 1056.4L1717.8 1063.5L1696.7 1074.0L1679.2 1081.0L1670.4 1067.0L1675.6 1056.4L1696.7 1045.9L1698.5 1024.8L1696.7 1007.3L1707.3 1000.2L1696.7 989.7L1686.2 975.6Z" fill="#440154" stroke="#440154" stroke-width="1.5"/><path d="M1572.0 1121.4L1594.8 1107.4L1615.9 1105.6L1638.8 1103.9L1637.0 1110.9L1615.9 1116.2L1594.8 1126.7L1575.5 1137.2Z" fill="#440154" stroke="#440154" stroke-width="1.5"/><path d="M1500.0 1109.1L1517.6 1116.2L1524.6 1130.2L1514.1 1140.7L1510.5 1154.8L1500.0 1154.8Z" fill="#440154" stroke="#440154" stroke-width="1.5"/><path d="M1751.2 831.6L1768.7 824.6L1772.2 814.1L1767.0 807.0L1781.0 805.3L1784.5 815.8L1798.6 812.3L1809.1 817.6L1819.7 808.8L1832.0 821.1L1816.2 835.1L1798.6 849.2L1788.1 859.7L1777.5 870.3L1767.0 884.3L1745.9 901.9L1731.9 898.4L1738.9 880.8L1745.9 861.5L1761.7 863.2L1760.0 852.7L1781.0 849.2L1774.0 842.2L1752.9 838.6Z" fill="#440154" stroke="#440154" stroke-width="1.5"/><path d="M1874.1 822.8L1886.4 817.6L1897.0 835.1L1911.0 849.2L1932.1 863.2L1921.5 873.8L1904.0 877.3L1889.9 863.2L1882.9 842.2Z" fill="#440154" stroke="#440154" stroke-width="1.5"/><path d="M1844.3 852.0L1863.6 856.2L1854.8 863.2L1846.0 859.7Z" fill="#440154" stroke="#440154" stroke-width="1.5"/><path d="M1854.8 901.9L1868.9 894.8L1884.7 901.9L1886.4 930.0L1891.7 947.5L1898.7 963.3L1886.4 968.6L1874.1 979.2L1872.4 965.1L1865.3 963.3L1847.8 961.6L1830.2 940.5L1837.2 926.5L1851.3 915.9Z" fill="#440154" stroke="#440154" stroke-width="1.5"/><path d="M1700.2 893.1L1702.0 905.4L1696.7 930.0L1689.7 947.5L1665.1 933.5L1654.6 940.5L1647.5 954.6L1658.1 972.1L1666.9 982.7L1661.6 1000.2L1640.5 996.7L1608.9 1000.2L1605.4 982.7L1612.4 972.1L1633.5 968.6L1633.5 954.6L1619.4 947.5L1630.0 933.5L1640.5 919.4L1665.1 915.9L1682.7 905.4Z" fill="#FDE725" stroke="#FDE725" stroke-width="1.5"/><path d="M1563.2 930.0L1575.5 940.5L1587.8 951.1L1570.3 958.1L1559.7 951.1Z" fill="#FDE725" stroke="#FDE725" stroke-width="1.5"/><path d="M1770.5 886.1L1781.0 893.1L1812.6 891.3L1826.7 907.1L1846.0 898.4L1854.8 901.9L1851.3 915.9L1837.2 926.5L1830.2 940.5L1816.2 942.3L1802.1 930.0L1781.0 938.8L1770.5 944.0L1760.0 919.4L1747.7 901.9Z" fill="#FDE725" stroke="#FDE725" stroke-width="1.5"/><path d="M1830.2 831.6L1851.3 814.1L1865.3 815.8L1874.1 822.8L1882.9 842.2L1889.9 863.2L1904.0 877.3L1897.0 887.8L1886.4 898.4L1872.4 894.8L1868.9 870.3L1863.6 856.2L1844.3 852.0L1837.2 842.2Z" fill="#FDE725" stroke="#FDE725" stroke-width="1.5"/><path d="M1889.9 800.0L1925.1 800.0L1930.3 821.1L1930.3 838.6L1932.1 863.2L1911.0 849.2L1897.0 835.1L1897.0 817.6Z" fill="#FDE725" stroke="#FDE725" stroke-width="1.5"/><path d="M1979.5 814.1L1991.8 813.3L2009.4 810.5L2034.0 805.3L2048.0 810.5L2069.1 814.1L2076.1 824.6L2069.1 835.1L2058.5 849.2L2041.0 863.2L2019.9 868.5L2005.9 865.0L1984.8 872.0L1967.2 859.7L1979.5 845.7Z" fill="#FDE725" stroke="#FDE725" stroke-width="1.5"/><path d="M1944.4 800.0L1967.2 800.0L1953.2 810.5L1942.6 807.0Z" fill="#FDE725" stroke="#FDE725" stroke-width="1.5"/><path d="M1605.4 1024.8L1619.4 1024.8L1637.0 1028.3L1640.5 1045.9L1635.2 1051.2L1640.5 1058.2L1654.6 1052.9L1668.6 1051.2L1672.1 1067.0L1682.7 1081.0L1668.6 1091.6L1658.1 1105.6L1640.5 1095.1L1640.5 1081.0L1626.5 1077.5L1619.4 1089.8L1598.4 1098.6L1594.8 1074.0L1591.3 1045.9Z" fill="#FDE725" stroke="#FDE725" stroke-width="1.5"/><path d="M1651.1 1061.7L1640.5 1081.0L1630.0 1091.6L1619.4 1089.8L1626.5 1077.5L1640.5 1067.0Z" fill="#440154" stroke="#440154" stroke-width="1.5"/><path d="M1635.2 1051.2L1647.5 1045.9L1654.6 1052.9L1640.5 1058.2Z" fill="#440154" stroke="#440154" stroke-width="1.5"/><path d="M1542.2 1038.9L1559.7 1042.4L1563.2 1060.0L1545.7 1065.2L1533.4 1056.4Z" fill="#FDE725" stroke="#FDE725" stroke-width="1.5"/><path d="M1500.0 1074.0L1514.1 1077.5L1535.1 1091.6L1556.2 1095.1L1542.2 1109.1L1528.1 1119.7L1517.6 1116.2L1500.0 1109.1Z" fill="#FDE725" stroke="#FDE725" stroke-width="1.5"/><path d="M1521.1 1133.7L1531.6 1151.3L1538.6 1160.1L1517.6 1177.6L1514.1 1193.4L1500.0 1204.0L1500.0 1165.3L1510.5 1154.8L1514.1 1140.7Z" fill="#FDE725" stroke="#FDE725" stroke-width="1.5"/><path d="M1500.0 513.8L1508.0 516.1L1511.5 529.9L1518.4 541.4L1519.5 557.5L1525.3 560.3L1546.0 555.2L1563.2 548.3L1555.2 566.7L1552.9 573.6L1539.1 574.7L1534.5 580.5L1534.5 589.7L1525.3 601.2L1517.2 603.5L1506.9 596.6L1500.0 585.1Z" fill="#FDE725" stroke="#FDE725" stroke-width="1.5"/><path d="M1539.1 574.7L1552.9 575.9L1566.7 587.4L1564.4 603.5L1556.3 610.4L1546.0 619.6L1525.3 618.4L1521.8 608.1L1514.9 605.8L1525.3 601.2L1534.5 589.7L1534.5 580.5Z" fill="#440154" stroke="#440154" stroke-width="1.5"/><path d="M1556.3 610.4L1566.7 617.3L1580.5 624.2L1592.0 633.4L1588.5 642.6L1582.8 647.2L1573.6 644.9L1569.0 649.5L1575.9 672.5L1587.4 684.0L1587.4 697.8L1579.3 700.1L1569.0 702.4L1555.2 698.9L1542.5 702.4L1541.4 707.0L1529.9 713.9L1516.1 707.0L1500.0 700.1L1500.0 684.0L1516.1 684.0L1523.0 677.1L1520.7 661.0L1527.6 642.6L1519.5 626.5L1525.3 619.6L1546.0 619.6Z" fill="#FDE725" stroke="#FDE725" stroke-width="1.5"/><path d="M1569.0 702.4L1589.7 702.4L1598.9 710.4L1592.0 719.6L1585.1 720.8L1575.9 713.9Z" fill="#440154" stroke="#440154" stroke-width="1.5"/><path d="M1525.3 724.2L1534.5 721.9L1540.2 730.0L1537.9 736.9L1527.6 744.9L1524.1 730.0Z" fill="#440154" stroke="#440154" stroke-width="1.5"/><path d="M1500.0 746.1L1516.1 748.4L1520.7 759.9L1536.8 766.8L1546.0 764.5L1547.1 776.0L1543.7 787.5L1546.0 799.9L1500.0 799.9Z" fill="#440154" stroke="#440154" stroke-width="1.5"/><path d="M1578.2 787.5L1585.1 784.0L1592.0 792.1L1601.2 789.8L1610.4 782.9L1624.2 792.1L1636.8 799.9L1557.5 799.9L1562.1 797.8L1575.9 792.1Z" fill="#440154" stroke="#440154" stroke-width="1.5"/><path d="M1500.0 789.8L1506.9 794.4L1511.5 799.9L1500.0 799.9Z" fill="#FDE725" stroke="#FDE725" stroke-width="1.5"/><path d="M1575.9 792.1L1592.0 796.7L1596.6 799.9L1559.8 799.9Z" fill="#FDE725" stroke="#FDE725" stroke-width="1.5"/><path d="M1888.7 789.8L1904.8 781.7L1918.6 782.9L1925.5 789.8L1927.8 799.9L1888.7 799.9Z" fill="#FDE725" stroke="#FDE725" stroke-width="1.5"/><path d="M1941.6 773.7L1950.8 769.1L1960.0 770.2L1966.9 776.0L1969.2 787.5L1971.5 799.9L1943.9 799.9L1940.4 787.5Z" fill="#FDE725" stroke="#FDE725" stroke-width="1.5"/><path d="M388.3 760.0L418.7 760.0L420.1 768.3L407.6 779.3L399.4 793.1L392.5 811.1L385.6 809.7L373.1 811.1L359.3 802.8L349.7 804.2L335.9 813.8L327.6 821.3L324.3 809.7L327.6 798.6L344.2 787.6L355.2 783.5L371.8 777.9L382.8 765.5Z" fill="#21908C" stroke="#21908C" stroke-width="1.5"/><path d="M598.1 760.0L631.2 760.0L622.9 768.3L611.9 775.2L603.6 771.0Z" fill="#21908C" stroke="#21908C" stroke-width="1.5"/><path d="M636.7 760.0L664.3 760.0L656.0 779.3L647.7 790.4L647.7 815.2L642.2 826.2L627.0 829.0L614.6 821.3L622.9 809.7L628.4 787.6L633.9 771.0Z" fill="#21908C" stroke="#21908C" stroke-width="1.5"/><path d="M694.7 760.0L714.0 760.0L716.7 784.8L705.7 786.2L694.7 795.9L683.6 797.3L689.1 776.6Z" fill="#FDE725" stroke="#FDE725" stroke-width="1.5"/><path d="M716.7 760.0L900.0 760.0L900.0 882.8L776.1 882.8L769.2 862.1L758.1 849.7L741.6 845.6L747.1 837.3L744.3 815.2L738.8 793.1L730.5 783.5L716.7 784.8Z" fill="#21908C" stroke="#21908C" stroke-width="1.5"/><path d="M796.8 768.3L840.9 760.0L900.0 760.0L900.0 795.9L885.1 795.9L865.8 801.4L868.5 815.2L871.3 826.2L846.5 831.8L824.4 829.0L821.6 819.3L829.9 809.7L816.1 800.0L810.6 801.4L802.3 793.1L780.2 806.9L769.2 812.4L766.4 795.9L769.2 779.3L794.0 771.0Z" fill="#440154" stroke="#440154" stroke-width="1.5"/><path d="M882.3 829.0L900.0 830.4L900.0 882.8L868.5 882.8L865.8 864.9L871.3 842.8Z" fill="#FDE725" stroke="#FDE725" stroke-width="1.5"/><clipPath id="pcB0"><rect x="900" y="772" width="600" height="56"/></clipPath><g clip-path="url(#pcB0)"><path d="M900.0 730.0L1500.0 730.0L1500.0 869.9L900.0 869.9Z" fill="#440154" stroke="#440154" stroke-width="1.5"/><path d="M900.0 730.0L958.0 730.0L955.2 746.6L938.6 754.8L935.9 768.6L924.8 785.2L919.3 785.2L908.3 771.4L902.8 746.6L900.0 738.3Z" fill="#21908C" stroke="#21908C" stroke-width="1.5"/><path d="M908.3 789.3L930.4 788.0L953.8 797.6L953.8 823.8L962.1 840.4L955.2 855.6L941.4 859.7L927.6 840.4L913.8 829.4L900.0 832.1L900.0 812.8L911.0 804.5Z" fill="#21908C" stroke="#21908C" stroke-width="1.5"/><path d="M1071.1 730.0L1258.8 730.0L1269.8 746.6L1275.3 760.4L1269.8 771.4L1272.6 782.4L1268.4 793.5L1254.6 804.5L1247.7 785.2L1243.6 768.6L1231.2 757.6L1222.9 771.4L1231.2 782.4L1238.1 796.2L1220.2 799.0L1203.6 804.5L1198.1 797.6L1189.8 800.4L1165.0 796.2L1156.7 785.2L1155.3 771.4L1147.0 767.3L1144.3 756.2L1137.4 757.6L1113.9 772.8L1098.7 757.6L1082.2 747.9L1071.1 754.8Z" fill="#21908C" stroke="#21908C" stroke-width="1.5"/><path d="M991.1 775.5L1006.3 782.4L1010.4 796.2L1021.4 800.4L1010.4 816.9L995.2 812.8L982.8 801.8L980.0 786.6Z" fill="#21908C" stroke="#21908C" stroke-width="1.5"/><path d="M1013.2 757.6L1024.2 752.1L1036.6 753.5L1029.7 763.1L1018.7 764.5Z" fill="#21908C" stroke="#21908C" stroke-width="1.5"/><path d="M963.5 749.3L982.8 730.0L1002.1 730.0L1004.9 741.0L985.6 760.4L963.5 757.6Z" fill="#21908C" stroke="#21908C" stroke-width="1.5"/><path d="M1043.5 801.8L1065.6 793.5L1076.6 786.6L1087.7 793.5L1102.9 792.1L1097.3 799.0L1087.7 807.3L1065.6 815.6L1061.5 822.5L1054.6 837.6L1043.5 839.0L1029.7 833.5L1031.1 818.3L1038.0 807.3Z" fill="#21908C" stroke="#21908C" stroke-width="1.5"/><path d="M1192.6 800.4L1199.5 801.8L1202.2 812.8L1206.4 826.6L1192.6 829.4L1189.8 812.8Z" fill="#21908C" stroke="#21908C" stroke-width="1.5"/><path d="M1242.2 815.6L1254.6 804.5L1269.8 808.7L1275.3 812.8L1274.0 837.6L1267.1 840.4L1267.1 854.2L1261.5 869.9L1214.6 869.9L1220.2 859.7L1231.2 851.4L1231.2 834.9L1242.2 826.6Z" fill="#21908C" stroke="#21908C" stroke-width="1.5"/><path d="M1131.8 859.7L1165.0 862.5L1187.0 869.9L1129.1 869.9Z" fill="#21908C" stroke="#21908C" stroke-width="1.5"/><path d="M1274.0 794.9L1286.4 790.7L1297.4 792.1L1308.5 801.8L1308.5 815.6L1289.1 815.6L1275.3 811.4Z" fill="#21908C" stroke="#21908C" stroke-width="1.5"/><path d="M1344.3 730.0L1380.2 730.0L1385.7 746.6L1374.7 746.6L1369.2 754.8L1363.7 774.2L1341.6 771.4L1334.7 757.6L1338.8 741.0Z" fill="#21908C" stroke="#21908C" stroke-width="1.5"/><path d="M1380.2 730.0L1427.1 730.0L1427.1 735.5L1410.6 738.3L1396.8 752.1L1388.5 746.6Z" fill="#21908C" stroke="#21908C" stroke-width="1.5"/><path d="M1429.9 735.5L1479.6 743.8L1487.9 757.6L1490.6 779.7L1479.6 782.4L1468.5 774.2L1429.9 771.4Z" fill="#21908C" stroke="#21908C" stroke-width="1.5"/><path d="M1358.1 796.2L1363.7 779.7L1374.7 783.8L1385.7 790.7L1388.5 801.8L1380.2 810.0L1366.4 810.0Z" fill="#21908C" stroke="#21908C" stroke-width="1.5"/><path d="M1424.4 837.6L1449.2 832.1L1465.8 823.8L1479.6 829.4L1500.0 823.8L1500.0 869.9L1487.9 869.9L1479.6 857.0L1465.8 859.7L1465.8 869.9L1418.9 869.9L1416.1 848.7Z" fill="#21908C" stroke="#21908C" stroke-width="1.5"/><path d="M1015.9 767.3L1032.5 760.4L1046.3 749.3L1062.8 753.5L1071.1 765.9L1076.6 785.2L1065.6 793.5L1043.5 801.8L1029.7 793.5L1021.4 799.0L1010.4 796.2L1007.6 782.4L1010.4 771.4Z" fill="#FDE725" stroke="#FDE725" stroke-width="1.5"/><path d="M900.0 832.1L913.8 829.4L927.6 840.4L930.4 851.4L924.8 862.5L916.6 869.9L900.0 869.9Z" fill="#FDE725" stroke="#FDE725" stroke-width="1.5"/><path d="M1055.9 848.7L1071.1 844.5L1082.2 840.4L1091.8 837.6L1094.6 851.4L1090.4 865.2L1084.9 869.9L1055.9 869.9Z" fill="#FDE725" stroke="#FDE725" stroke-width="1.5"/><path d="M1171.9 845.9L1189.8 851.4L1203.6 848.7L1211.9 863.9L1187.0 866.6L1173.2 859.7Z" fill="#FDE725" stroke="#FDE725" stroke-width="1.5"/><path d="M1260.2 730.0L1344.3 730.0L1338.8 741.0L1334.7 757.6L1341.6 771.4L1330.5 776.9L1314.0 789.3L1311.2 774.2L1300.2 763.1L1283.6 760.4L1275.3 754.8L1269.8 738.3Z" fill="#FDE725" stroke="#FDE725" stroke-width="1.5"/><path d="M1330.5 776.9L1341.6 771.4L1363.7 774.2L1358.1 796.2L1366.4 810.0L1363.7 823.8L1341.6 825.2L1327.8 822.5L1308.5 818.3L1308.5 801.8L1314.0 789.3Z" fill="#FDE725" stroke="#FDE725" stroke-width="1.5"/><path d="M1374.7 746.6L1385.7 746.6L1396.8 752.1L1410.6 738.3L1427.1 735.5L1429.9 771.4L1418.9 771.4L1407.8 779.7L1406.4 790.7L1396.8 796.2L1392.6 785.2L1388.5 771.4L1380.2 756.2Z" fill="#FDE725" stroke="#FDE725" stroke-width="1.5"/><path d="M1429.9 771.4L1440.9 782.4L1460.3 776.9L1452.0 788.0L1432.7 793.5L1423.0 796.2L1424.4 785.2Z" fill="#FDE725" stroke="#FDE725" stroke-width="1.5"/><path d="M1407.8 796.2L1423.0 796.2L1421.6 812.8L1423.0 826.6L1416.1 833.5L1413.3 812.8Z" fill="#FDE725" stroke="#FDE725" stroke-width="1.5"/><path d="M1476.8 793.5L1500.0 793.5L1500.0 815.6L1496.1 815.6L1476.8 810.0Z" fill="#FDE725" stroke="#FDE725" stroke-width="1.5"/><path d="M1369.2 754.8L1380.2 756.2L1388.5 771.4L1392.6 785.2L1385.7 790.7L1371.9 782.4L1363.7 774.2Z" fill="#440154" stroke="#440154" stroke-width="1.5"/><path d="M1410.6 779.7L1428.5 771.4L1424.4 785.2L1423.0 794.9L1410.6 793.5Z" fill="#440154" stroke="#440154" stroke-width="1.5"/><path d="M1269.8 765.9L1283.6 760.4L1300.2 763.1L1311.2 774.2L1314.0 789.3L1297.4 789.3L1286.4 786.6L1278.1 792.1L1268.4 793.5L1272.6 782.4Z" fill="#440154" stroke="#440154" stroke-width="1.5"/><path d="M1222.9 765.9L1231.2 757.6L1243.6 768.6L1247.7 785.2L1253.3 799.0L1249.1 804.5L1239.5 796.2L1231.2 782.4Z" fill="#440154" stroke="#440154" stroke-width="1.5"/></g></g></g>
<g transform="translate(1950,1591)"><clipPath id="clipD"><path d="M841.0 212.3L819.9 219.3L798.8 238.6L770.7 252.7L753.2 259.7L739.1 273.8L726.8 300.1L718.0 319.4L672.4 330.0L654.8 356.3L623.2 391.5L612.6 410.8L612.6 445.9L605.6 461.7L584.5 477.5L564.2 498.6L570.5 537.2L545.9 565.3L524.8 579.4L519.6 589.9L531.9 607.5L510.8 630.3L496.7 653.2L479.2 670.7L468.6 698.8L447.5 723.4L415.9 741.0L388.3 760.0L382.8 765.5L371.8 777.9L355.2 783.5L344.2 787.6L327.6 798.6L324.3 809.7L327.6 821.3L335.9 813.8L349.7 804.2L359.3 802.8L373.1 811.1L385.6 809.7L392.5 811.1L402.1 815.2L413.2 811.1L425.6 802.8L432.5 809.7L442.1 816.6L451.8 812.4L465.6 815.2L479.4 817.4L490.4 813.8L496.0 824.9L508.4 819.3L509.8 804.2L518.0 792.6L529.1 795.3L542.9 800.0L553.9 806.9L566.3 815.2L581.5 813.8L589.8 812.4L596.7 824.0L614.6 821.3L627.0 829.0L642.2 826.2L647.7 820.7L658.8 823.5L672.6 824.9L686.4 826.2L694.7 834.5L705.7 840.0L722.3 842.8L736.1 849.7L741.6 845.6L752.6 852.5L758.1 849.7L769.2 862.1L774.7 870.4L776.1 882.8L785.7 885.6L796.8 881.4L799.5 873.2L810.6 877.3L820.2 873.2L829.9 881.4L849.2 881.4L852.0 875.9L865.8 877.3L868.5 882.8L887.9 884.2L900.0 882.8L900.0 880.8L917.6 875.5L931.6 873.8L938.6 884.3L949.2 894.8L952.7 905.4L968.5 908.9L984.3 919.4L994.8 933.5L1001.9 951.1L1005.4 975.6L1010.7 989.7L1005.4 1003.7L1008.9 1024.8L1017.7 1045.9L1019.4 1061.7L1010.7 1074.0L1023.0 1091.6L1040.5 1116.2L1058.1 1137.2L1061.6 1154.8L1075.6 1172.4L1086.2 1182.9L1079.2 1193.4L1089.7 1197.0L1072.1 1214.5L1066.9 1235.6L1068.6 1251.4L1086.2 1254.9L1117.8 1246.1L1145.9 1249.6L1170.5 1247.9L1191.6 1253.2L1210.9 1249.6L1223.2 1263.7L1214.4 1277.8L1212.6 1298.8L1209.1 1323.4L1207.4 1326.9L1216.2 1339.2L1223.2 1334.0L1230.2 1319.9L1247.8 1316.4L1258.3 1326.9L1272.4 1319.9L1279.4 1316.4L1282.9 1337.5L1293.4 1351.5L1286.4 1365.6L1304.0 1381.4L1321.5 1369.1L1339.1 1353.3L1342.6 1341.0L1353.2 1319.9L1374.2 1284.8L1391.8 1267.2L1416.4 1249.6L1444.5 1232.1L1476.1 1214.5L1500.0 1197.0L1500.0 1204.0L1514.1 1193.4L1517.6 1177.6L1535.1 1161.8L1552.7 1151.3L1573.8 1139.0L1594.8 1126.7L1615.9 1116.2L1637.0 1110.9L1640.5 1102.1L1654.6 1098.6L1652.8 1109.1L1661.6 1112.6L1675.6 1102.1L1682.7 1091.6L1691.5 1077.5L1707.3 1067.0L1724.8 1060.0L1742.4 1056.4L1760.0 1058.2L1777.5 1060.0L1798.6 1061.7L1809.1 1072.2L1830.2 1070.5L1832.0 1056.4L1826.7 1042.4L1830.2 1028.3L1847.8 1017.8L1858.3 1010.8L1872.4 1014.3L1886.4 1002.0L1902.2 1010.8L1900.5 989.7L1914.5 982.7L1928.6 968.6L1939.1 975.6L1961.9 972.1L1953.2 961.6L1942.6 951.1L1932.1 938.8L1946.1 933.5L1949.6 908.9L1953.2 891.3L1967.2 887.8L1984.8 872.0L2005.9 865.0L2019.9 868.5L2041.0 863.2L2058.5 849.2L2069.1 835.1L2074.4 824.6L2069.1 814.1L2048.0 810.5L2034.0 805.3L2009.4 810.5L1991.8 813.3L1981.3 814.1L1979.5 800.0L1974.2 800.0L1970.7 793.7L1963.7 776.1L1953.2 769.1L1939.1 776.1L1918.0 783.1L1904.0 783.1L1886.4 790.2L1877.6 800.0L1877.6 800.0L1872.4 801.8L1860.1 814.1L1851.3 812.3L1830.2 819.3L1819.7 808.8L1809.1 817.6L1798.6 812.3L1784.5 815.8L1781.0 805.3L1767.0 807.0L1772.2 814.1L1768.7 824.6L1751.2 831.6L1752.9 838.6L1774.0 842.2L1781.0 849.2L1760.0 852.7L1761.7 863.2L1745.9 861.5L1738.9 870.3L1733.6 858.0L1728.3 861.5L1707.3 872.0L1689.7 875.5L1686.2 866.7L1659.8 870.3L1640.5 879.0L1645.8 868.5L1642.3 852.7L1649.3 843.9L1624.7 833.4L1623.0 824.6L1635.2 814.1L1633.5 800.0L1635.7 797.8L1624.2 792.1L1611.5 785.2L1609.2 779.4L1603.5 777.1L1594.3 776.0L1587.4 771.4L1586.2 762.2L1581.6 753.0L1577.0 747.2L1579.3 739.2L1583.9 730.0L1585.1 720.8L1592.0 719.6L1598.9 710.4L1589.7 702.4L1579.3 700.1L1585.1 697.8L1587.4 695.5L1588.5 681.7L1596.6 685.1L1589.7 674.8L1586.2 663.3L1589.7 658.7L1587.4 652.9L1582.8 647.2L1588.5 642.6L1593.1 633.4L1594.3 624.2L1596.6 612.7L1604.6 615.0L1610.4 608.1L1613.8 598.9L1618.4 587.4L1616.1 580.5L1615.0 566.7L1603.5 562.1L1595.4 560.9L1590.8 557.5L1589.7 548.8L1585.1 547.8L1579.3 552.9L1569.0 551.7L1566.7 547.1L1563.2 548.3L1546.0 555.2L1525.3 560.3L1519.5 557.5L1518.4 541.4L1511.5 529.9L1518.1 554.5L1519.1 546.8L1513.3 541.0L1511.4 531.3L1508.5 525.5L1505.6 515.9L1496.9 510.1L1494.0 504.3L1495.9 492.7L1492.0 486.9L1491.1 475.3L1490.1 465.7L1484.3 460.8L1480.4 454.1L1474.7 448.3L1472.7 442.5L1475.6 439.6L1476.6 429.0L1483.3 421.2L1485.3 412.5L1494.0 408.7L1497.8 405.8L1499.8 398.1L1496.9 390.3L1495.9 384.5L1491.1 382.6L1492.0 376.8L1490.1 369.1L1485.3 365.2L1476.6 361.4L1466.9 355.6L1461.1 350.7L1463.1 345.9L1462.1 338.2L1463.1 326.6L1465.0 317.9L1470.8 313.1L1473.7 306.3L1469.8 299.5L1467.9 291.8L1459.2 285.1L1453.4 282.2L1445.7 276.4L1436.0 271.5L1432.2 265.7L1435.1 260.9L1429.3 258.0L1430.2 254.1L1426.4 249.9L1413.8 254.1L1411.9 257.0L1404.1 258.0L1399.3 266.7L1391.6 266.7L1386.8 259.0L1380.0 254.1L1377.8 254.4L1349.6 258.0L1347.9 275.5L1335.6 284.3L1328.6 266.7L1323.3 268.5L1318.0 282.6L1297.0 286.1L1286.4 275.5L1281.1 265.0L1275.9 266.7L1272.4 282.6L1237.2 283.6L1216.2 286.1L1202.1 293.1L1181.0 290.6L1160.0 294.1L1151.2 305.4L1149.4 344.0L1135.4 340.5L1133.6 315.9L1128.3 292.0L1117.8 290.6L1110.8 298.4L1107.3 315.9L1096.7 323.0L1075.6 312.4L1070.4 287.8L1072.1 270.3L1079.2 258.0L1075.6 250.9L1065.1 254.4L1040.5 252.7L1026.5 240.4L1008.9 243.9L984.3 241.5L959.7 245.7L935.1 242.2L921.1 235.1L900.0 232.3L862.1 231.6ZM1847.8 1047.7L1858.3 1051.2L1863.6 1063.5L1858.3 1077.5L1865.3 1088.1L1861.8 1098.6L1854.8 1096.8L1847.8 1088.1L1826.7 1093.3L1821.4 1086.3L1833.7 1074.0L1840.7 1060.0Z"/></clipPath><g clip-path="url(#clipD)"><rect x="300" y="200" width="1800" height="1200" fill="#ECF1F5"/><path d="M1213.4 1251.2L1235.5 1243.9L1264.9 1277.0L1294.4 1277.0L1316.5 1306.4L1294.4 1313.8L1276.0 1313.8L1257.6 1332.2L1220.8 1339.5L1207.9 1324.8L1217.1 1295.4Z" fill="#F9EFEB" stroke="#F9EFEB" stroke-width="1"/><path d="M1368.0 1188.7L1408.5 1185.0L1496.8 1188.7L1522.5 1181.3L1574.1 1137.2L1644.0 1100.4L1655.0 1111.4L1588.8 1144.5L1515.2 1199.7L1441.6 1240.2L1382.7 1277.0L1364.3 1262.3L1375.3 1240.2L1353.3 1229.1L1331.2 1232.8L1323.8 1214.4L1353.3 1196.0Z" fill="#F9EFEB" stroke="#F9EFEB" stroke-width="1"/><path d="M1823.0 1083.8L1846.4 1051.1L1865.1 1055.7L1860.4 1097.9L1827.6 1093.2Z" fill="#F8EEEA" stroke="#F8EEEA" stroke-width="1"/><path d="M1371.7 1137.2L1423.2 1118.8L1415.8 1148.2L1408.5 1185.0L1368.0 1188.7Z" fill="#F9EDE8" stroke="#F9EDE8" stroke-width="1"/><path d="M1069.9 1232.8L1092.0 1188.7L1125.1 1181.3L1136.2 1218.1L1154.6 1229.1L1173.0 1232.8L1184.0 1251.2L1139.8 1249.4L1069.9 1254.9Z" fill="#F9EDE8" stroke="#F9EDE8" stroke-width="1"/><path d="M651.3 404.5L698.1 397.4L709.8 432.6L712.2 470.0L698.1 493.4L674.7 516.9L641.9 512.2L660.7 498.1L658.3 488.8L646.6 451.3Z" fill="#FBECE5" stroke="#FBECE5" stroke-width="1"/><path d="M773.1 409.1L815.2 423.2L852.7 423.2L876.1 441.9L880.8 460.7L862.1 479.4L829.3 460.7L796.5 451.3L763.7 441.9Z" fill="#FBECE5" stroke="#FBECE5" stroke-width="1"/><path d="M763.7 460.7L782.4 488.8L810.5 498.1L824.6 526.2L810.5 563.7L791.8 582.4L763.7 568.4L796.5 545.0L791.8 521.6L777.8 512.2L749.6 535.6L721.5 545.0L740.3 507.5L761.4 479.4Z" fill="#FBECE5" stroke="#FBECE5" stroke-width="1"/><path d="M997.9 296.7L1030.7 310.8L1068.1 324.8L1049.4 348.3L1021.3 348.3L1007.3 320.1Z" fill="#FBECE5" stroke="#FBECE5" stroke-width="1"/><path d="M866.7 233.5L894.8 231.2L899.5 254.6L871.4 259.3Z" fill="#FBECE5" stroke="#FBECE5" stroke-width="1"/><path d="M1072.8 320.1L1096.3 324.8L1110.3 315.5L1115.0 348.3L1091.6 357.6L1077.5 343.6Z" fill="#FBECE5" stroke="#FBECE5" stroke-width="1"/><path d="M496.7 741.7L562.3 723.0L581.0 741.7L571.7 779.2L543.6 793.2L506.1 783.8Z" fill="#FBECE5" stroke="#FBECE5" stroke-width="1"/><path d="M590.4 638.6L627.9 610.5L665.3 629.3L670.0 666.8L637.2 676.1L599.8 704.2L567.0 713.6L571.7 680.8Z" fill="#FBECE5" stroke="#FBECE5" stroke-width="1"/><path d="M698.1 657.4L740.3 657.4L749.6 704.2L721.5 751.1L698.1 793.2L684.1 788.5L693.4 741.7Z" fill="#FBECE5" stroke="#FBECE5" stroke-width="1"/><path d="M997.9 662.1L1049.4 638.6L1058.8 657.4L1044.7 685.5L1002.6 694.9Z" fill="#FBECE5" stroke="#FBECE5" stroke-width="1"/><path d="M1086.9 699.5L1115.0 704.2L1138.4 737.0L1119.7 765.1L1091.6 755.7Z" fill="#FBECE5" stroke="#FBECE5" stroke-width="1"/><path d="M1161.8 844.7L1232.1 816.6L1274.2 812.0L1274.2 882.2L1204.0 882.2L1166.5 877.5Z" fill="#FBECE5" stroke="#FBECE5" stroke-width="1"/><path d="M876.1 582.4L913.6 587.1L908.9 615.2L880.8 615.2Z" fill="#FBECE5" stroke="#FBECE5" stroke-width="1"/><path d="M1349.0 258.9L1380.3 255.2L1398.7 268.1L1415.3 258.9L1420.8 277.3L1453.9 288.4L1474.1 306.8L1464.9 317.8L1420.8 325.2L1395.0 317.8L1358.2 306.8L1373.0 292.0L1373.0 273.6L1349.0 273.6Z" fill="#FBECE5" stroke="#FBECE5" stroke-width="1"/><path d="M1376.6 382.2L1402.4 362.0L1413.4 373.0L1406.1 402.4L1391.4 395.1Z" fill="#FBECE5" stroke="#FBECE5" stroke-width="1"/><path d="M1200.0 288.4L1240.5 286.5L1292.0 306.8L1288.3 336.2L1258.9 365.6L1240.5 365.6L1225.8 321.5Z" fill="#FBECE5" stroke="#FBECE5" stroke-width="1"/><path d="M1258.9 365.6L1299.4 362.0L1310.4 387.7L1328.8 395.1L1330.6 431.9L1314.1 453.9L1277.3 431.9L1257.0 398.8Z" fill="#FBECE5" stroke="#FBECE5" stroke-width="1"/><path d="M1422.6 516.5L1457.6 494.4L1483.3 512.8L1476.0 542.3L1474.1 564.3L1453.9 557.0L1428.2 549.6Z" fill="#FBECE5" stroke="#FBECE5" stroke-width="1"/><path d="M1238.6 512.8L1258.9 487.1L1288.3 494.4L1295.7 534.9L1258.9 545.9L1240.5 531.2Z" fill="#FBECE5" stroke="#FBECE5" stroke-width="1"/><path d="M1565.3 582.7L1588.8 549.9L1614.5 566.3L1614.5 601.4L1593.4 629.5L1565.3 610.8Z" fill="#FBECE5" stroke="#FBECE5" stroke-width="1"/><path d="M1703.5 901.2L1743.3 901.2L1762.1 919.9L1766.7 938.6L1752.7 957.4L1724.6 952.7L1705.9 934.0Z" fill="#FBECE5" stroke="#FBECE5" stroke-width="1"/><path d="M1340.5 549.9L1387.4 568.6L1392.0 606.1L1363.9 620.1L1349.9 596.7Z" fill="#FBECE5" stroke="#FBECE5" stroke-width="1"/><path d="M1837.0 919.9L1874.5 915.2L1893.2 938.6L1869.8 962.1L1837.0 957.4Z" fill="#FBECE5" stroke="#FBECE5" stroke-width="1"/><path d="M1921.3 784.1L1944.7 779.4L1944.7 812.2L1968.1 816.9L1979.9 845.0L1968.1 859.0L1949.4 845.0L1930.7 821.6Z" fill="#FBECE5" stroke="#FBECE5" stroke-width="1"/><path d="M1361.6 781.7L1387.4 784.1L1385.0 807.5L1363.9 809.8Z" fill="#FBECE5" stroke="#FBECE5" stroke-width="1"/><path d="M1253.9 956.8L1294.4 953.2L1307.3 969.7L1312.8 986.3L1290.7 997.3L1264.9 986.3Z" fill="#FBECE5" stroke="#FBECE5" stroke-width="1"/><path d="M1288.3 323.3L1310.4 332.5L1339.8 343.6L1325.1 371.2L1299.4 365.6L1286.5 350.9Z" fill="#FBE9E1" stroke="#FBE9E1" stroke-width="1"/><path d="M1105.6 390.4L1138.4 376.4L1161.8 376.4L1168.9 404.5L1143.1 427.9L1115.0 418.5Z" fill="#FBE8DF" stroke="#FBE8DF" stroke-width="1"/><path d="M1213.4 1100.4L1253.9 1074.6L1287.0 1078.3L1323.8 1056.2L1351.4 1063.6L1349.6 1089.3L1362.5 1100.4L1345.9 1126.1L1305.4 1144.5L1264.9 1144.5L1264.9 1118.8L1242.9 1126.1L1217.1 1122.4Z" fill="#FCE6DC" stroke="#FCE6DC" stroke-width="1"/><path d="M1647.7 942.1L1680.8 934.8L1693.7 956.8L1680.8 978.9L1651.3 975.2Z" fill="#FDE4D8" stroke="#FDE4D8" stroke-width="1"/><path d="M1481.0 709.1L1509.1 704.5L1541.9 711.5L1548.9 737.2L1574.7 751.3L1584.1 770.0L1570.0 793.4L1546.6 788.8L1546.6 765.3L1523.2 751.3L1490.4 744.3L1476.3 727.9Z" fill="#FDE2D6" stroke="#FDE2D6" stroke-width="1"/><path d="M1584.1 898.8L1623.9 901.2L1616.9 938.6L1588.8 950.4L1579.4 938.6Z" fill="#FDE2D6" stroke="#FDE2D6" stroke-width="1"/><path d="M1062.6 1056.2L1121.4 1041.5L1138.0 1065.4L1128.8 1093.0L1110.4 1129.8L1092.0 1129.8L1088.3 1100.4L1068.1 1082.0Z" fill="#FDE0D2" stroke="#FDE0D2" stroke-width="1"/><path d="M1173.0 1232.8L1206.1 1203.4L1228.2 1188.7L1242.9 1166.6L1252.1 1172.1L1257.6 1185.0L1248.4 1203.4L1250.2 1221.8L1235.5 1243.9L1213.4 1251.2L1184.0 1251.2Z" fill="#FDE0D2" stroke="#FDE0D2" stroke-width="1"/><path d="M1317.8 332.5L1343.5 299.4L1347.2 310.4L1395.0 317.8L1398.7 343.6L1341.7 343.6L1328.8 350.9Z" fill="#D8E8F2" stroke="#D8E8F2" stroke-width="1"/><path d="M908.9 371.7L930.0 374.0L939.3 404.5L948.7 418.5L927.6 460.7L923.0 432.6L908.9 427.9Z" fill="#FBDDCC" stroke="#FBDDCC" stroke-width="1"/><path d="M1533.6 958.7L1552.0 956.8L1553.8 982.6L1537.3 978.9Z" fill="#FDDCCB" stroke="#FDDCCB" stroke-width="1"/><path d="M1093.9 842.4L1110.3 828.3L1124.4 844.7L1129.0 863.5L1105.6 882.2L1093.9 882.2Z" fill="#FBDCCB" stroke="#FBDCCB" stroke-width="1"/><path d="M1152.5 296.7L1218.0 292.0L1225.1 329.5L1218.0 399.8L1180.6 413.8L1152.5 385.7Z" fill="#D6E6F1" stroke="#D6E6F1" stroke-width="1"/><path d="M1133.7 559.0L1189.9 563.7L1204.0 591.8L1166.5 610.5L1138.4 601.2Z" fill="#D6E6F1" stroke="#D6E6F1" stroke-width="1"/><path d="M904.2 685.5L955.7 676.1L974.5 692.5L955.7 713.6L951.1 741.7L932.3 774.5L923.0 786.2L908.9 765.1L913.6 741.7L904.2 734.7Z" fill="#D6E6F1" stroke="#D6E6F1" stroke-width="1"/><path d="M1030.7 701.9L1086.9 697.2L1082.2 727.6L1049.4 746.4L1030.7 727.6Z" fill="#D6E6F1" stroke="#D6E6F1" stroke-width="1"/><path d="M1204.0 685.5L1241.5 692.5L1246.1 718.3L1208.7 723.0Z" fill="#D6E6F1" stroke="#D6E6F1" stroke-width="1"/><path d="M524.8 582.4L562.3 587.1L595.1 601.2L590.4 638.6L562.3 680.8L534.2 676.1L543.6 638.6L524.8 610.5Z" fill="#D6E6F1" stroke="#D6E6F1" stroke-width="1"/><path d="M829.3 479.4L862.1 488.8L852.7 526.2L838.6 554.3L824.6 545.0L815.2 507.5Z" fill="#D6E6F1" stroke="#D6E6F1" stroke-width="1"/><path d="M1040.0 465.3L1072.8 470.0L1068.1 498.1L1044.7 507.5Z" fill="#D6E6F1" stroke="#D6E6F1" stroke-width="1"/><path d="M1040.0 376.4L1058.8 385.7L1072.8 413.8L1068.1 441.9L1044.7 437.2L1035.4 409.1Z" fill="#D6E6F1" stroke="#D6E6F1" stroke-width="1"/><path d="M1175.9 774.5L1204.0 793.2L1222.7 797.9L1213.3 807.3L1180.6 797.9Z" fill="#D6E6F1" stroke="#D6E6F1" stroke-width="1"/><path d="M866.7 835.4L904.2 830.7L908.9 863.5L871.4 868.2Z" fill="#D6E6F1" stroke="#D6E6F1" stroke-width="1"/><path d="M712.2 788.5L735.6 786.2L745.0 821.3L721.5 844.7L702.8 830.7Z" fill="#D6E6F1" stroke="#D6E6F1" stroke-width="1"/><path d="M1040.0 292.0L1068.1 287.4L1072.8 306.1L1049.4 310.8Z" fill="#D6E6F1" stroke="#D6E6F1" stroke-width="1"/><path d="M1299.4 365.6L1325.1 369.3L1347.2 352.8L1365.6 380.4L1347.2 395.1L1310.4 384.0Z" fill="#D6E6F1" stroke="#D6E6F1" stroke-width="1"/><path d="M1200.0 295.7L1214.7 299.4L1225.8 321.5L1240.5 365.6L1247.8 380.4L1229.4 395.1L1200.0 406.1Z" fill="#D6E6F1" stroke="#D6E6F1" stroke-width="1"/><path d="M1453.9 376.7L1490.7 373.0L1498.1 395.1L1483.3 424.5L1472.3 439.2L1435.5 420.8L1450.2 402.4Z" fill="#D6E6F1" stroke="#D6E6F1" stroke-width="1"/><path d="M1382.2 457.6L1398.7 461.3L1417.1 483.4L1398.7 501.8L1382.2 494.4Z" fill="#D6E6F1" stroke="#D6E6F1" stroke-width="1"/><path d="M1339.8 487.1L1384.0 490.7L1391.4 512.8L1376.6 542.3L1328.8 534.9L1343.5 509.1Z" fill="#D6E6F1" stroke="#D6E6F1" stroke-width="1"/><path d="M1258.9 549.6L1295.7 542.3L1299.4 564.3L1273.6 571.7Z" fill="#D6E6F1" stroke="#D6E6F1" stroke-width="1"/><path d="M1345.4 275.5L1373.0 273.6L1369.3 295.7L1356.4 308.6L1345.4 295.7Z" fill="#D6E6F1" stroke="#D6E6F1" stroke-width="1"/><path d="M1361.9 560.7L1435.5 549.6L1464.9 557.0L1464.9 589.0L1376.6 589.0Z" fill="#D6E6F1" stroke="#D6E6F1" stroke-width="1"/><path d="M1246.0 435.6L1277.3 431.9L1281.0 450.3L1262.6 461.3L1249.7 453.9Z" fill="#D6E6F1" stroke="#D6E6F1" stroke-width="1"/><path d="M1200.0 507.7L1237.5 517.1L1260.9 545.2L1237.5 568.6L1200.0 573.3Z" fill="#D6E6F1" stroke="#D6E6F1" stroke-width="1"/><path d="M1260.9 723.2L1340.5 713.8L1345.2 751.3L1317.1 770.0L1279.6 760.7Z" fill="#D6E6F1" stroke="#D6E6F1" stroke-width="1"/><path d="M1368.6 751.3L1429.5 737.2L1481.0 751.3L1481.0 774.7L1460.0 779.4L1429.5 774.7L1406.1 793.4L1378.0 788.8Z" fill="#D6E6F1" stroke="#D6E6F1" stroke-width="1"/><path d="M1413.1 643.6L1462.3 638.9L1476.3 676.4L1476.3 699.8L1424.8 699.8L1406.1 681.0Z" fill="#D6E6F1" stroke="#D6E6F1" stroke-width="1"/><path d="M1293.7 573.3L1321.8 578.0L1349.9 596.7L1340.5 620.1L1298.4 620.1Z" fill="#D6E6F1" stroke="#D6E6F1" stroke-width="1"/><path d="M1785.5 859.0L1823.0 835.6L1841.7 863.7L1846.4 891.8L1823.0 905.9L1804.2 887.1Z" fill="#D6E6F1" stroke="#D6E6F1" stroke-width="1"/><path d="M1757.4 962.1L1799.5 957.4L1813.6 1008.9L1790.2 1032.3L1766.7 1013.6Z" fill="#D6E6F1" stroke="#D6E6F1" stroke-width="1"/><path d="M1621.5 924.6L1663.7 915.2L1666.0 934.0L1635.6 952.7Z" fill="#D6E6F1" stroke="#D6E6F1" stroke-width="1"/><path d="M1128.8 960.5L1173.0 953.2L1198.7 978.9L1202.4 1019.4L1173.0 1026.8L1147.2 1001.0L1130.6 986.3Z" fill="#D6E6F1" stroke="#D6E6F1" stroke-width="1"/><path d="M1412.1 975.2L1441.6 971.6L1456.3 988.1L1456.3 1019.4L1423.2 1019.4L1412.1 1004.7Z" fill="#D6E6F1" stroke="#D6E6F1" stroke-width="1"/><path d="M1467.3 1126.1L1507.8 1115.1L1529.9 1144.5L1529.9 1162.9L1507.8 1181.3L1474.7 1185.0L1456.3 1173.9Z" fill="#D6E6F1" stroke="#D6E6F1" stroke-width="1"/><path d="M1333.0 1240.2L1353.3 1229.1L1375.3 1240.2L1364.3 1262.3L1349.6 1273.3L1333.0 1258.6Z" fill="#D6E6F1" stroke="#D6E6F1" stroke-width="1"/><path d="M1607.2 971.6L1640.3 967.9L1647.7 1002.8L1625.6 1015.7L1610.9 1001.0Z" fill="#D6E6F1" stroke="#D6E6F1" stroke-width="1"/><path d="M1662.4 982.6L1699.2 975.2L1702.9 1019.4L1691.8 1048.8L1662.4 1052.5L1658.7 1019.4Z" fill="#D6E6F1" stroke="#D6E6F1" stroke-width="1"/><path d="M1515.2 916.4L1552.0 912.7L1559.3 938.4L1533.6 949.5L1515.2 938.4Z" fill="#D6E6F1" stroke="#D6E6F1" stroke-width="1"/><path d="M1000.0 931.1L1022.1 923.7L1040.5 942.1L1073.6 945.8L1084.6 975.2L1060.7 982.6L1036.8 990.0L1014.7 975.2Z" fill="#D6E6F1" stroke="#D6E6F1" stroke-width="1"/><path d="M1011.0 1070.9L1060.7 1059.9L1073.6 1089.3L1027.6 1089.3Z" fill="#D6E6F1" stroke="#D6E6F1" stroke-width="1"/><path d="M1340.4 1004.7L1368.0 1001.0L1382.7 1030.4L1364.3 1048.8L1345.9 1034.1Z" fill="#D6E6F1" stroke="#D6E6F1" stroke-width="1"/><path d="M674.7 371.7L707.5 348.3L740.3 348.3L735.6 395.1L721.5 409.1L674.7 399.8Z" fill="#CFE3EF" stroke="#CFE3EF" stroke-width="1"/><path d="M1185.2 526.2L1236.8 512.2L1241.5 545.0L1218.0 577.8L1189.9 563.7Z" fill="#CFE3EF" stroke="#CFE3EF" stroke-width="1"/><path d="M702.8 507.5L740.3 470.0L759.0 456.0L761.4 479.4L740.3 507.5L721.5 540.3L707.5 549.7L698.1 545.0Z" fill="#CFE3EF" stroke="#CFE3EF" stroke-width="1"/><path d="M773.1 596.5L796.5 591.8L812.9 610.5L805.9 634.0L791.8 638.6L773.1 619.9Z" fill="#CFE3EF" stroke="#CFE3EF" stroke-width="1"/><path d="M1171.2 886.9L1204.0 882.2L1222.7 900.9L1236.8 933.7L1213.3 947.8L1185.2 938.4L1175.9 915.0Z" fill="#CFE3EF" stroke="#CFE3EF" stroke-width="1"/><path d="M1312.4 779.4L1354.6 774.7L1366.3 807.5L1345.2 826.2L1317.1 816.9Z" fill="#CFE3EF" stroke="#CFE3EF" stroke-width="1"/><path d="M1443.6 868.4L1471.7 868.4L1481.0 887.1L1462.3 901.2L1443.6 887.1Z" fill="#CFE3EF" stroke="#CFE3EF" stroke-width="1"/><path d="M1121.4 1034.1L1161.9 1023.1L1176.6 1048.8L1184.0 1078.3L1213.4 1100.4L1206.1 1122.4L1165.6 1129.8L1110.4 1144.5L1103.0 1129.8L1128.8 1093.0L1127.0 1063.6Z" fill="#CFE3EF" stroke="#CFE3EF" stroke-width="1"/><path d="M1007.3 774.5L1030.7 765.1L1068.1 767.5L1072.8 788.5L1035.4 802.6L1011.9 797.9Z" fill="#C5DDED" stroke="#C5DDED" stroke-width="1"/><path d="M1391.4 527.5L1420.8 516.5L1428.2 549.6L1413.4 557.0L1395.0 542.3Z" fill="#C5DDED" stroke="#C5DDED" stroke-width="1"/><path d="M1341.7 343.6L1365.6 341.7L1395.0 360.1L1391.4 369.3L1373.0 384.0L1354.6 365.6Z" fill="#C5DDED" stroke="#C5DDED" stroke-width="1"/><path d="M1305.4 1144.5L1345.9 1126.1L1368.0 1137.2L1369.8 1166.6L1353.3 1196.0L1323.8 1214.4L1323.8 1196.0L1316.5 1181.3L1301.7 1166.6Z" fill="#C5DDED" stroke="#C5DDED" stroke-width="1"/><path d="M1656.9 1093.0L1684.5 1082.0L1680.8 1100.4L1662.4 1111.4Z" fill="#C5DDED" stroke="#C5DDED" stroke-width="1"/><path d="M852.7 652.7L876.1 657.4L873.8 676.1L862.1 697.2L836.3 697.2L850.4 676.1Z" fill="#C0DBEC" stroke="#C0DBEC" stroke-width="1"/><path d="M1128.8 1181.3L1180.3 1188.7L1206.1 1181.3L1228.2 1188.7L1217.1 1199.7L1187.7 1214.4L1154.6 1229.1L1136.2 1218.1Z" fill="#C0DBEC" stroke="#C0DBEC" stroke-width="1"/><path d="M857.4 577.8L880.8 573.1L873.8 603.5L852.7 603.5Z" fill="#B5D3E7" stroke="#B5D3E7" stroke-width="1"/><path d="M878.5 360.0L901.9 362.3L894.8 395.1L880.8 413.8L873.8 395.1Z" fill="#B5D3E7" stroke="#B5D3E7" stroke-width="1"/><path d="M1398.7 343.6L1419.0 339.9L1420.8 358.3L1404.2 369.3L1391.4 350.9Z" fill="#B5D3E7" stroke="#B5D3E7" stroke-width="1"/><path d="M1890.9 812.2L1911.9 812.2L1926.0 835.6L1930.7 863.7L1919.0 849.7L1907.3 830.9Z" fill="#B5D3E7" stroke="#B5D3E7" stroke-width="1"/><path d="M1572.4 788.8L1595.8 788.8L1598.1 816.9L1574.7 819.2L1565.3 807.5Z" fill="#B5D3E7" stroke="#B5D3E7" stroke-width="1"/><path d="M1535.4 1043.3L1557.5 1041.5L1561.2 1058.0L1544.6 1063.6L1533.6 1056.2Z" fill="#B5D3E7" stroke="#B5D3E7" stroke-width="1"/><path d="M831.6 266.3L848.0 259.3L855.0 282.7L841.0 289.7Z" fill="#B0D0E6" stroke="#B0D0E6" stroke-width="1"/><path d="M880.8 657.4L908.9 650.4L920.6 685.5L908.9 704.2L899.5 734.7L869.1 723.0L880.8 699.5L878.5 676.1Z" fill="#A6CBE3" stroke="#A6CBE3" stroke-width="1"/><path d="M1089.2 610.5L1098.6 610.5L1105.6 638.6L1103.3 694.9L1082.2 692.5L1079.9 657.4Z" fill="#A6CBE3" stroke="#A6CBE3" stroke-width="1"/><path d="M801.2 235.8L815.2 231.2L824.6 259.3L810.5 266.3Z" fill="#A6CBE3" stroke="#A6CBE3" stroke-width="1"/><path d="M1147.8 451.3L1168.9 460.7L1161.8 472.4Z" fill="#A6CBE3" stroke="#A6CBE3" stroke-width="1"/><path d="M1103.3 493.4L1122.0 507.5L1112.6 514.5L1100.9 507.5Z" fill="#A6CBE3" stroke="#A6CBE3" stroke-width="1"/><path d="M1143.1 498.1L1157.1 500.5L1152.5 526.2L1138.4 530.9L1129.0 523.9Z" fill="#A6CBE3" stroke="#A6CBE3" stroke-width="1"/><path d="M1395.0 317.8L1420.8 325.2L1420.8 336.2L1398.7 343.6Z" fill="#A6CBE3" stroke="#A6CBE3" stroke-width="1"/><path d="M2015.0 826.2L2043.1 809.8L2066.5 812.2L2075.9 826.2L2061.8 854.3L2033.7 863.7L2015.0 868.4L2010.3 845.0Z" fill="#A6CBE3" stroke="#A6CBE3" stroke-width="1"/><path d="M1361.6 924.6L1380.3 924.6L1385.0 938.6L1368.6 948.0Z" fill="#A6CBE3" stroke="#A6CBE3" stroke-width="1"/><path d="M1242.2 692.7L1265.6 681.0L1263.2 699.8Z" fill="#A6CBE3" stroke="#A6CBE3" stroke-width="1"/><path d="M1060.7 982.6L1090.2 988.1L1104.9 1017.6L1099.4 1036.0L1081.0 1034.1L1066.2 1012.0Z" fill="#A6CBE3" stroke="#A6CBE3" stroke-width="1"/><path d="M1027.6 1089.3L1073.6 1089.3L1090.2 1118.8L1103.0 1148.2L1095.7 1162.9L1079.1 1172.1L1069.9 1155.6L1060.7 1140.8L1044.2 1115.1Z" fill="#A6CBE3" stroke="#A6CBE3" stroke-width="1"/><path d="M1362.5 925.6L1379.0 923.7L1384.5 936.6L1371.7 945.8L1360.6 938.4Z" fill="#A6CBE3" stroke="#A6CBE3" stroke-width="1"/><path d="M1481.0 540.5L1509.1 528.8L1523.2 563.9L1551.3 559.3L1565.3 549.9L1551.3 575.7L1530.2 580.3L1523.2 601.4L1509.1 603.8L1495.1 578.0L1474.0 566.3Z" fill="#A3C8E1" stroke="#A3C8E1" stroke-width="1"/><path d="M1436.1 931.1L1460.0 945.8L1478.4 938.4L1496.8 944.0L1489.4 964.2L1493.1 982.6L1456.3 988.1L1439.7 967.9Z" fill="#A3C8E1" stroke="#A3C8E1" stroke-width="1"/><path d="M1481.0 681.0L1527.9 678.7L1546.6 695.1L1541.9 711.5L1509.1 704.5L1481.0 699.8Z" fill="#9DC6E0" stroke="#9DC6E0" stroke-width="1"/><path d="M1299.9 949.5L1323.8 944.0L1333.0 956.8L1320.1 975.2L1307.3 969.7Z" fill="#9DC6E0" stroke="#9DC6E0" stroke-width="1"/><path d="M1975.2 816.9L2005.6 812.2L2019.7 816.9L2010.3 845.0L1996.3 866.0L1972.8 873.1L1968.1 859.0L1979.9 845.0Z" fill="#9AC3DF" stroke="#9AC3DF" stroke-width="1"/><path d="M1429.5 774.7L1460.0 779.4L1443.6 793.4L1427.2 793.4Z" fill="#9AC3DF" stroke="#9AC3DF" stroke-width="1"/><path d="M1478.7 793.4L1506.8 788.8L1511.5 807.5L1495.1 816.9L1476.3 807.5Z" fill="#9AC3DF" stroke="#9AC3DF" stroke-width="1"/><path d="M1513.8 877.8L1532.6 875.4L1544.3 882.4L1527.9 896.5L1506.8 901.2Z" fill="#9AC3DF" stroke="#9AC3DF" stroke-width="1"/><path d="M639.6 521.6L670.0 533.3L660.7 577.8L648.9 610.5L634.9 617.6L641.9 573.1Z" fill="#8DBCDC" stroke="#8DBCDC" stroke-width="1"/><path d="M901.9 502.8L932.3 519.2L934.7 559.0L923.0 594.2L880.8 587.1L887.8 559.0L899.5 535.6Z" fill="#8DBCDC" stroke="#8DBCDC" stroke-width="1"/><path d="M644.3 676.1L658.3 685.5L644.3 718.3L639.6 737.0L616.2 741.7L620.8 713.6L634.9 699.5Z" fill="#8DBCDC" stroke="#8DBCDC" stroke-width="1"/><path d="M981.5 889.2L993.2 884.6L995.6 919.7L986.2 924.4L969.8 912.7Z" fill="#8DBCDC" stroke="#8DBCDC" stroke-width="1"/><path d="M1481.0 519.4L1504.4 512.4L1511.5 531.2L1492.7 540.5L1476.3 540.5Z" fill="#8DBCDC" stroke="#8DBCDC" stroke-width="1"/><path d="M1408.4 793.4L1424.8 795.8L1420.1 821.6L1413.1 833.3Z" fill="#8DBCDC" stroke="#8DBCDC" stroke-width="1"/><path d="M1494.9 1076.4L1511.5 1074.6L1526.2 1089.3L1557.5 1093.0L1540.9 1109.6L1522.5 1120.6L1504.1 1107.7L1480.2 1100.4Z" fill="#8DBCDC" stroke="#8DBCDC" stroke-width="1"/><path d="M742.6 563.7L754.3 568.4L749.6 596.5L735.6 638.6L716.9 643.3L730.9 610.5L740.3 591.8Z" fill="#82B6D8" stroke="#82B6D8" stroke-width="1"/><path d="M1056.4 849.4L1091.6 842.4L1093.9 882.2L1084.5 900.9L1070.5 872.8L1056.4 868.2Z" fill="#82B6D8" stroke="#82B6D8" stroke-width="1"/><path d="M1607.2 1026.8L1620.1 1026.8L1621.9 1048.8L1636.6 1059.9L1658.7 1054.4L1660.5 1061.7L1636.6 1067.2L1620.1 1056.2L1610.9 1041.5Z" fill="#7FB4D6" stroke="#7FB4D6" stroke-width="1"/><path d="M777.8 512.2L787.1 516.9L768.4 549.7L749.6 563.7L740.3 559.0L745.0 540.3L763.7 530.9Z" fill="#70ADD2" stroke="#70ADD2" stroke-width="1"/><path d="M1890.9 786.4L1916.6 781.7L1926.0 793.4L1930.7 821.6L1911.9 809.8L1893.2 812.2L1888.5 798.1Z" fill="#6FAAD1" stroke="#6FAAD1" stroke-width="1"/><path d="M1944.7 772.4L1961.1 770.0L1970.5 793.4L1958.8 807.5L1944.7 812.2Z" fill="#6FAAD1" stroke="#6FAAD1" stroke-width="1"/><path d="M1769.1 889.5L1785.5 905.9L1794.8 926.9L1771.4 945.7L1762.1 919.9L1748.0 901.2Z" fill="#6FAAD1" stroke="#6FAAD1" stroke-width="1"/><path d="M1701.2 894.2L1696.5 924.6L1687.1 950.4L1666.0 934.0L1682.4 915.2Z" fill="#6FAAD1" stroke="#6FAAD1" stroke-width="1"/><path d="M1640.3 988.1L1660.5 986.3L1658.7 999.2L1647.7 1002.8Z" fill="#6FAAD1" stroke="#6FAAD1" stroke-width="1"/><path d="M843.3 285.0L857.4 282.7L866.7 324.8L850.4 343.6L841.0 329.5Z" fill="#6BAAD0" stroke="#6BAAD0" stroke-width="1"/><path d="M850.4 413.8L880.8 413.8L876.1 437.2L857.4 437.2Z" fill="#6BAAD0" stroke="#6BAAD0" stroke-width="1"/><path d="M1196.9 1135.3L1211.6 1128.0L1228.2 1140.8L1239.2 1148.2L1235.5 1162.9L1222.6 1173.9L1213.4 1166.6L1202.4 1177.6L1200.6 1155.6Z" fill="#5B9BCB" stroke="#5B9BCB" stroke-width="1"/><path d="M1353.3 1056.2L1379.0 1048.8L1395.6 1047.0L1399.3 1063.6L1408.5 1076.4L1399.3 1085.6L1393.7 1100.4L1379.0 1107.7L1362.5 1100.4L1349.6 1089.3L1355.1 1074.6Z" fill="#4F8FC4" stroke="#4F8FC4" stroke-width="1"/><path d="M684.1 441.9L695.8 458.3L684.1 474.7L672.4 488.8L658.3 498.1L663.0 474.7L674.7 463.0Z" fill="#4A86C0" stroke="#4A86C0" stroke-width="1"/><path d="M1548.9 655.3L1567.7 650.6L1572.4 674.0L1588.8 685.7L1572.4 702.1L1548.9 702.1L1532.6 678.7Z" fill="#4A86C0" stroke="#4A86C0" stroke-width="1"/><path d="M1299.9 1151.9L1301.7 1166.6L1316.5 1181.3L1323.8 1203.4L1316.5 1221.8L1299.9 1232.8L1290.7 1247.5L1272.3 1258.6L1264.9 1277.0L1253.9 1269.6L1244.7 1251.2L1235.5 1243.9L1250.2 1221.8L1248.4 1203.4L1257.6 1185.0L1252.1 1172.1L1272.3 1166.6L1290.7 1159.2Z" fill="#2166AC" stroke="#2166AC" stroke-width="1"/></g></g>
<g transform="translate(0,0)"><text x="2074.6" y="203.2" font-size="41.7" text-anchor="middle">N</text><circle cx="2074.9" cy="252.9" r="35.2" fill="none" stroke="#000" stroke-width="3"/><path d="M2074.2 205 L2044.3 289 L2073.8 266 Z" fill="#fff" stroke="#000" stroke-width="3" stroke-linejoin="round"/><path d="M2074.2 205 L2104.6 289 L2073.8 266 Z" fill="#000" stroke="#000" stroke-width="3" stroke-linejoin="round"/></g>
<g transform="translate(0,0)"><rect x="1559.2" y="1394.1" width="575.9" height="32.4" fill="#000"/><rect x="1752.4" y="1397" width="189.5" height="26.6" fill="#fff"/><text x="1542.5" y="1422.6" font-size="33.3" text-anchor="end">300 km</text></g>
<g transform="translate(1950,0)"><text x="2074.6" y="203.2" font-size="41.7" text-anchor="middle">N</text><circle cx="2074.9" cy="252.9" r="35.2" fill="none" stroke="#000" stroke-width="3"/><path d="M2074.2 205 L2044.3 289 L2073.8 266 Z" fill="#fff" stroke="#000" stroke-width="3" stroke-linejoin="round"/><path d="M2074.2 205 L2104.6 289 L2073.8 266 Z" fill="#000" stroke="#000" stroke-width="3" stroke-linejoin="round"/></g>
<g transform="translate(1950,0)"><rect x="1559.2" y="1394.1" width="575.9" height="32.4" fill="#000"/><rect x="1752.4" y="1397" width="189.5" height="26.6" fill="#fff"/><text x="1542.5" y="1422.6" font-size="33.3" text-anchor="end">300 km</text></g>
<g transform="translate(1950,1591)"><text x="2074.6" y="203.2" font-size="41.7" text-anchor="middle">N</text><circle cx="2074.9" cy="252.9" r="35.2" fill="none" stroke="#000" stroke-width="3"/><path d="M2074.2 205 L2044.3 289 L2073.8 266 Z" fill="#fff" stroke="#000" stroke-width="3" stroke-linejoin="round"/><path d="M2074.2 205 L2104.6 289 L2073.8 266 Z" fill="#000" stroke="#000" stroke-width="3" stroke-linejoin="round"/></g>
<g transform="translate(1950,1591)"><rect x="1559.2" y="1394.1" width="575.9" height="32.4" fill="#000"/><rect x="1752.4" y="1397" width="189.5" height="26.6" fill="#fff"/><text x="1542.5" y="1422.6" font-size="33.3" text-anchor="end">300 km</text></g>
<g transform="translate(0,0)"><text x="1078.5" y="1524.5" font-size="37.5" font-weight="bold" text-anchor="end">Observed</text><rect x="1101.6" y="1475.2" width="71.7" height="71.7" fill="#440154"/><text x="1194.5" y="1524.5" font-size="36.7">1</text><rect x="1239.1" y="1475.2" width="71.7" height="71.7" fill="#21908C"/><text x="1333" y="1524.5" font-size="36.7">2</text><rect x="1377" y="1475.2" width="71.7" height="71.7" fill="#FDE725"/><text x="1470.5" y="1524.5" font-size="36.7">3</text></g>
<g transform="translate(1950,0)"><text x="1078.5" y="1524.5" font-size="37.5" font-weight="bold" text-anchor="end">Predicted</text><rect x="1101.6" y="1475.2" width="71.7" height="71.7" fill="#440154"/><text x="1194.5" y="1524.5" font-size="36.7">1</text><rect x="1239.1" y="1475.2" width="71.7" height="71.7" fill="#21908C"/><text x="1333" y="1524.5" font-size="36.7">2</text><rect x="1377" y="1475.2" width="71.7" height="71.7" fill="#FDE725"/><text x="1470.5" y="1524.5" font-size="36.7">3</text></g>
<defs><linearGradient id="rdbu" x1="0" x2="1" y1="0" y2="0">
<stop offset="0" stop-color="#2166AC"/>
<stop offset="0.166667" stop-color="#67A9CF"/>
<stop offset="0.333333" stop-color="#D1E5F0"/>
<stop offset="0.5" stop-color="#F7F7F7"/>
<stop offset="0.666667" stop-color="#FDDBC7"/>
<stop offset="0.833333" stop-color="#EF8A62"/>
<stop offset="1" stop-color="#B2182B"/>
</linearGradient></defs>
<rect x="3055.8" y="3123.3" width="359.8" height="72.1" fill="url(#rdbu)"/>
<path d="M3075.3 3123.3v14.4M3075.3 3181v14.4" stroke="#fff" stroke-width="1.6"/>
<text x="3075.3" y="3244" font-size="33.3" text-anchor="middle">-2</text>
<path d="M3155.5 3123.3v14.4M3155.5 3181v14.4" stroke="#fff" stroke-width="1.6"/>
<text x="3155.5" y="3244" font-size="33.3" text-anchor="middle">-1</text>
<path d="M3235.3 3123.3v14.4M3235.3 3181v14.4" stroke="#fff" stroke-width="1.6"/>
<text x="3235.3" y="3244" font-size="33.3" text-anchor="middle">0</text>
<path d="M3315.5 3123.3v14.4M3315.5 3181v14.4" stroke="#fff" stroke-width="1.6"/>
<text x="3315.5" y="3244" font-size="33.3" text-anchor="middle">1</text>
<path d="M3395.8 3123.3v14.4M3395.8 3181v14.4" stroke="#fff" stroke-width="1.6"/>
<text x="3395.8" y="3244" font-size="33.3" text-anchor="middle">2</text>
<text x="3032.5" y="3201.7" font-size="37.5" font-weight="bold" text-anchor="end">Resíduo</text>
<path d="M235.2 1828.2H2163.6" stroke="#EBEBEB" stroke-width="4.4"/>
<path d="M235.2 2214.6H2163.6" stroke="#EBEBEB" stroke-width="4.4"/>
<path d="M235.2 2600.7H2163.6" stroke="#EBEBEB" stroke-width="4.4"/>
<path d="M235.2 2986.6H2163.6" stroke="#EBEBEB" stroke-width="4.4"/>
<path d="M596.5 1744.5V3045.6" stroke="#EBEBEB" stroke-width="4.4"/>
<path d="M1198.9 1744.5V3045.6" stroke="#EBEBEB" stroke-width="4.4"/>
<path d="M1801.3 1744.5V3045.6" stroke="#EBEBEB" stroke-width="4.4"/>
<rect x="415" y="2320.7" width="363" height="665.9" fill="#31446B" fill-opacity="0.8" stroke="#000" stroke-width="4.2"/>
<text x="596.5" y="2302.4" font-size="47.4" font-weight="bold" text-anchor="middle">0.86</text>
<rect x="1017.4" y="2469.7" width="363" height="516.9" fill="#7C7B78" fill-opacity="0.8" stroke="#000" stroke-width="4.2"/>
<text x="1198.9" y="2451.4" font-size="47.4" font-weight="bold" text-anchor="middle">0.67</text>
<rect x="1619.8" y="1804.5" width="363" height="1182.1" fill="#CBBA69" fill-opacity="0.8" stroke="#000" stroke-width="4.2"/>
<text x="1801.3" y="1786.2" font-size="47.4" font-weight="bold" text-anchor="middle">1.53</text>
<text x="214.5" y="1841.4" font-size="36.7" fill="#4D4D4D" text-anchor="end">1.5</text>
<text x="214.5" y="2227.8" font-size="36.7" fill="#4D4D4D" text-anchor="end">1.0</text>
<text x="214.5" y="2613.9" font-size="36.7" fill="#4D4D4D" text-anchor="end">0.5</text>
<text x="214.5" y="2999.8" font-size="36.7" fill="#4D4D4D" text-anchor="end">0.0</text>
<text x="596.5" y="3094.8" font-size="36.7" fill="#4D4D4D" text-anchor="middle">Direto</text>
<text x="1198.9" y="3094.8" font-size="36.7" fill="#4D4D4D" text-anchor="middle">Indireto</text>
<text x="1801.3" y="3094.8" font-size="36.7" fill="#4D4D4D" text-anchor="middle">Total</text>
<text transform="translate(142,2394.5) rotate(-90)" font-size="45.8" text-anchor="middle">Magnitude</text>
</svg></body></html>
